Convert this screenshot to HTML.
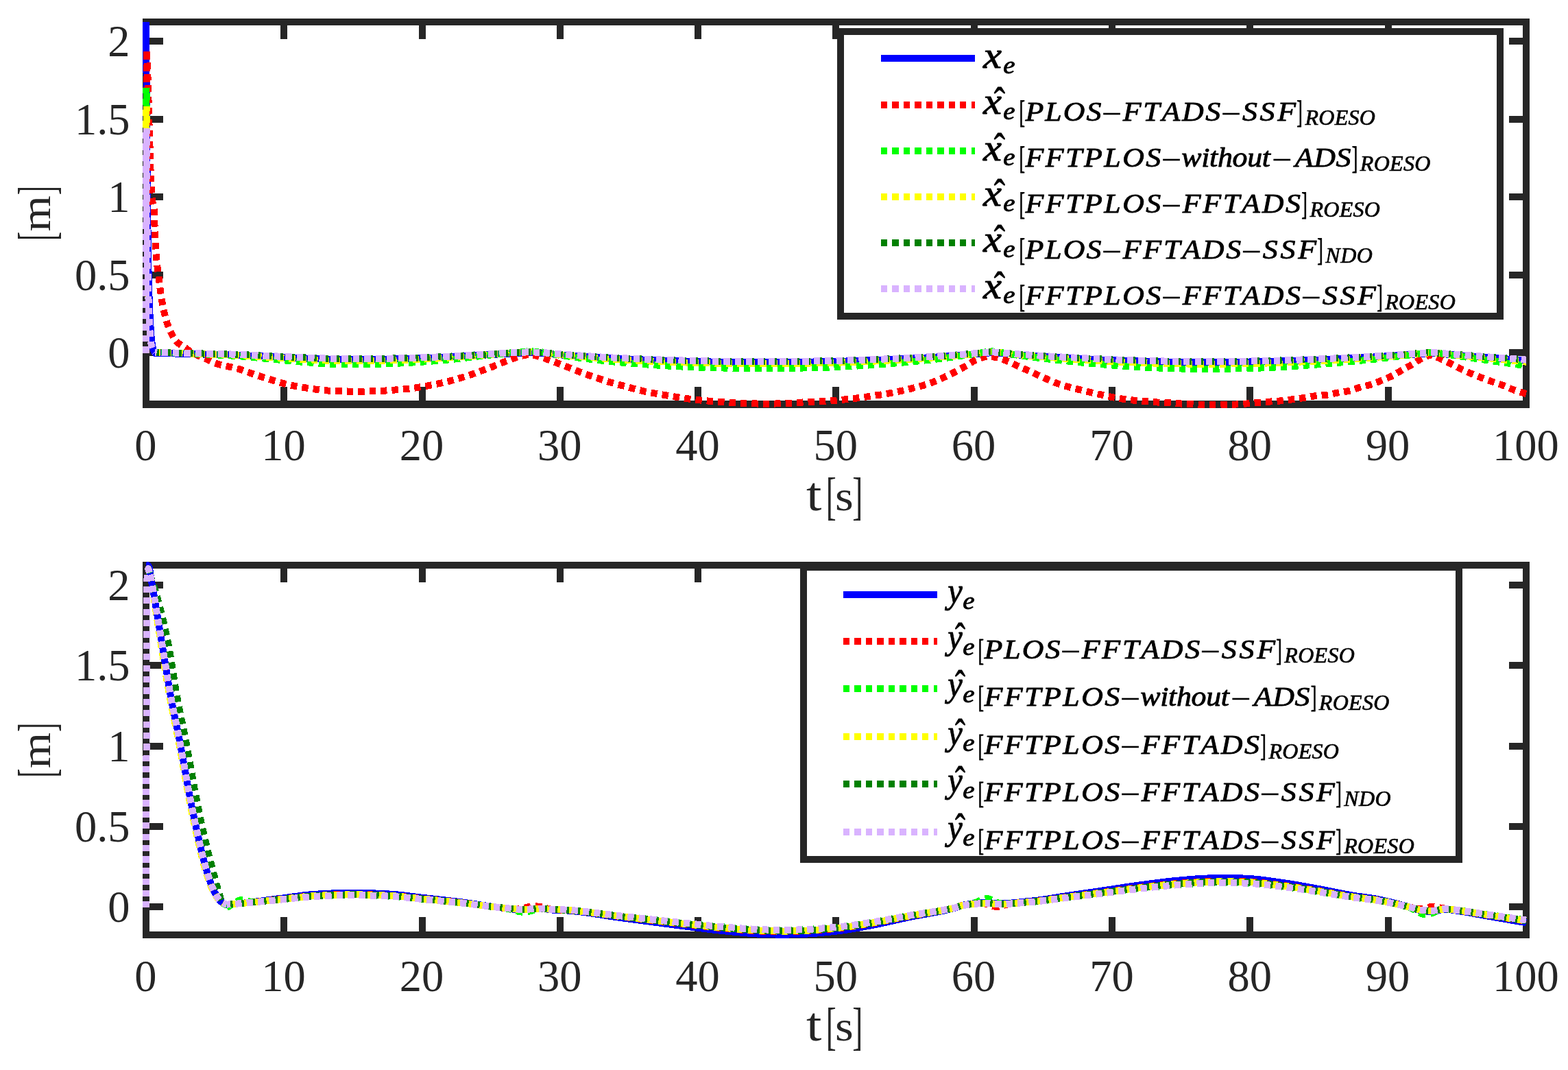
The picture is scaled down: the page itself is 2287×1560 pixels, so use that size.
<!DOCTYPE html>
<html lang="en">
<head>
<meta charset="utf-8">
<title>Observer estimation errors</title>
<style>
html,body{margin:0;padding:0;background:#fff;}
body{width:2287px;height:1560px;overflow:hidden;}
svg{display:block;}
text{font-family:"Liberation Serif",serif;font-kerning:none;font-variant-ligatures:none;}
.tk{font-size:64.5px;fill:#262626;}
.lb{fill:#262626;}
.lg{fill:#000;stroke:#000;stroke-width:0;stroke-linejoin:round;}
</style>
</head>
<body>
<svg xmlns="http://www.w3.org/2000/svg" width="2287" height="1560" viewBox="0 0 2287 1560">
<rect width="2287" height="1560" fill="#fff"/>
<g shape-rendering="crispEdges">
<path d="M208 27H2231V37H208ZM208 584H2231V595H208ZM208 27H218V595H208ZM2221 27H2231V595H2221ZM409 27H419V57H409ZM409 564H419V595H409ZM611 27H621V57H611ZM611 564H621V595H611ZM812 27H822V57H812ZM812 564H822V595H812ZM1013 27H1023V57H1013ZM1013 564H1023V595H1013ZM1214 27H1224V57H1214ZM1214 564H1224V595H1214ZM1416 27H1426V57H1416ZM1416 564H1426V595H1416ZM1617 27H1627V57H1617ZM1617 564H1627V595H1617ZM1818 27H1828V57H1818ZM1818 564H1828V595H1818ZM2020 27H2030V57H2020ZM2020 564H2030V595H2020ZM208 55H238V65H208ZM2201 55H2231V65H2201ZM208 169H238V179H208ZM2201 169H2231V179H2201ZM208 282H238V292H208ZM2201 282H2231V292H2201ZM208 396H238V406H208ZM2201 396H2231V406H2201ZM208 509H238V519H208ZM2201 509H2231V519H2201Z" fill="#262626"/>
<path d="M213.00 31.80L213.01 33.80L213.03 35.80L213.04 37.80L213.05 39.80L213.06 41.80L213.08 43.80L213.09 45.80L213.10 47.80L213.12 49.80L213.13 51.80L213.14 53.80L213.16 55.80L213.17 57.80L213.18 59.80L213.20 61.80L213.21 63.80L213.22 65.80L213.24 67.80L213.25 69.80L213.26 71.80L213.28 73.80L213.29 75.80L213.30 77.80L213.32 79.80L213.33 81.80L213.35 83.80L213.36 85.80L213.37 87.80L213.39 89.80L213.40 91.80L213.41 93.80L213.43 95.80L213.44 97.80L213.46 99.80L213.47 101.80L213.48 103.80L213.50 105.80L213.51 107.80L213.53 109.80L213.54 111.80L213.56 113.80L213.57 115.80L213.58 117.80L213.60 119.80L213.61 121.80L213.63 123.80L213.64 125.80L213.66 127.80L213.67 129.80L213.68 131.80L213.70 133.80L213.71 135.80L213.73 137.80L213.74 139.80L213.75 141.80L213.77 143.80L213.78 145.80L213.80 147.80L213.81 149.80L213.83 151.80L213.84 153.80L213.85 155.80L213.87 157.80L213.88 159.80L213.90 161.80L213.91 163.80L213.92 165.80L213.94 167.80L213.95 169.80L213.97 171.80L213.98 173.80L214.00 175.80L214.01 177.80L214.02 179.80L214.04 181.80L214.05 183.80L214.07 185.80L214.08 187.80L214.10 189.80L214.11 191.80L214.13 193.80L214.14 195.80L214.16 197.80L214.17 199.80L214.19 201.80L214.21 203.80L214.22 205.80L214.24 207.80L214.25 209.80L214.27 211.80L214.28 213.80L214.30 215.80L214.32 217.80L214.33 219.80L214.35 221.80L214.37 223.80L214.38 225.80L214.40 227.80L214.42 229.80L214.43 231.79L214.45 233.79L214.47 235.79L214.49 237.79L214.51 239.79L214.52 241.79L214.54 243.79L214.56 245.79L214.58 247.79L214.60 249.79L214.62 251.79L214.64 253.79L214.65 255.79L214.67 257.79L214.69 259.79L214.71 261.79L214.73 263.79L214.75 265.79L214.77 267.79L214.79 269.79L214.81 271.79L214.83 273.79L214.85 275.79L214.87 277.79L214.89 279.79L214.91 281.79L214.93 283.79L214.95 285.79L214.97 287.79L214.99 289.79L215.01 291.79L215.03 293.79L215.05 295.79L215.07 297.79L215.09 299.79L215.11 301.79L215.14 303.79L215.16 305.79L215.18 307.79L215.20 309.79L215.23 311.79L215.25 313.79L215.27 315.79L215.30 317.79L215.32 319.79L215.34 321.79L215.37 323.79L215.39 325.79L215.42 327.79L215.44 329.79L215.47 331.79L215.49 333.79L215.52 335.79L215.55 337.79L215.57 339.79L215.60 341.79L215.63 343.79L215.66 345.79L215.68 347.79L215.71 349.79L215.74 351.79L215.77 353.79L215.80 355.79L215.83 357.79L215.86 359.79L215.89 361.79L215.93 363.79L215.96 365.79L215.99 367.79L216.02 369.79L216.06 371.79L216.09 373.79L216.13 375.79L216.16 377.78L216.20 379.78L216.23 381.78L216.27 383.78L216.31 385.78L216.35 387.78L216.39 389.78L216.43 391.78L216.48 393.78L216.52 395.78L216.57 397.78L216.61 399.78L216.66 401.78L216.71 403.78L216.76 405.78L216.81 407.78L216.87 409.78L216.92 411.78L216.98 413.78L217.03 415.78L217.09 417.78L217.15 419.78L217.21 421.78L217.27 423.77L217.34 425.77L217.40 427.77L217.47 429.77L217.53 431.77L217.60 433.77L217.67 435.77L217.74 437.77L217.81 439.77L217.89 441.76L217.96 443.76L218.04 445.76L218.11 447.76L218.19 449.76L218.27 451.75L218.35 453.75L218.43 455.75L218.52 457.75L218.61 459.75L218.70 461.75L218.80 463.75L218.89 465.75L219.00 467.75L219.10 469.75L219.22 471.75L219.33 473.74L219.45 475.74L219.58 477.74L219.71 479.73L219.85 481.73L220.00 483.72L220.15 485.71L220.31 487.70L220.47 489.69L220.65 491.68L220.84 493.69L221.04 495.70L221.27 497.70L221.53 499.71L221.81 501.70L222.13 503.67L222.49 505.62L222.90 507.54L223.41 509.43L224.14 511.28L225.02 513.11L225.95 514.91L226.00 515.00L228.00 515.03L230.00 515.06L232.00 515.09L234.00 515.12L236.00 515.15L238.00 515.19L240.00 515.22L242.00 515.25L244.00 515.29L246.00 515.32L248.00 515.36L250.00 515.40L252.00 515.44L254.00 515.48L256.00 515.52L258.00 515.56L260.00 515.61L262.00 515.65L264.00 515.70L266.00 515.75L268.00 515.79L270.00 515.84L272.00 515.89L274.00 515.94L276.00 515.99L278.00 516.04L280.00 516.09L282.00 516.14L284.00 516.20L286.00 516.25L288.00 516.30L290.00 516.35L292.00 516.40L294.00 516.45L296.00 516.50L298.00 516.55L300.00 516.60L302.00 516.65L304.00 516.70L306.00 516.74L308.00 516.79L310.00 516.83L312.00 516.88L314.00 516.93L316.00 516.97L318.00 517.02L320.00 517.06L322.00 517.11L324.00 517.16L326.00 517.21L328.00 517.26L330.00 517.31L332.00 517.37L334.00 517.42L336.00 517.48L338.00 517.54L340.00 517.60L342.00 517.66L344.00 517.73L346.00 517.80L348.00 517.88L350.00 517.96L352.00 518.04L354.00 518.12L356.00 518.20L358.00 518.29L360.00 518.38L362.00 518.47L364.00 518.56L366.00 518.65L368.00 518.75L370.00 518.85L372.00 518.94L374.00 519.04L376.00 519.14L378.00 519.24L380.00 519.34L382.00 519.43L384.00 519.53L386.00 519.63L388.00 519.73L390.00 519.83L392.00 519.92L394.00 520.02L396.00 520.11L398.00 520.21L400.00 520.30L402.00 520.39L404.00 520.49L406.00 520.58L408.00 520.68L410.00 520.77L412.00 520.87L414.00 520.97L416.00 521.07L418.00 521.16L420.00 521.26L422.00 521.36L424.00 521.46L426.00 521.55L428.00 521.65L430.00 521.75L432.00 521.84L434.00 521.93L436.00 522.02L438.00 522.11L440.00 522.20L442.00 522.28L444.00 522.37L446.00 522.45L448.00 522.53L450.00 522.60L452.00 522.67L454.00 522.75L456.00 522.83L458.00 522.91L460.00 522.99L462.00 523.07L464.00 523.15L466.00 523.23L468.00 523.30L470.00 523.38L472.00 523.45L474.00 523.51L476.00 523.57L478.00 523.63L480.00 523.68L482.00 523.72L484.00 523.75L486.00 523.78L488.00 523.79L490.00 523.80L492.00 523.81L494.00 523.82L496.00 523.82L498.00 523.83L500.00 523.84L502.00 523.84L504.00 523.85L506.00 523.85L508.00 523.86L510.00 523.86L512.00 523.87L514.00 523.87L516.00 523.88L518.00 523.88L520.00 523.88L522.00 523.89L524.00 523.89L526.00 523.89L528.00 523.89L530.00 523.90L532.00 523.90L534.00 523.90L536.00 523.90L538.00 523.90L540.00 523.90L542.00 523.90L544.00 523.90L546.00 523.89L548.00 523.88L550.00 523.86L552.00 523.84L554.00 523.82L556.00 523.79L558.00 523.77L560.00 523.74L562.00 523.70L564.00 523.67L566.00 523.63L568.00 523.59L570.00 523.55L572.00 523.50L574.00 523.46L576.00 523.41L578.00 523.36L580.00 523.31L582.00 523.26L584.00 523.21L586.00 523.16L588.00 523.11L590.00 523.06L592.00 523.01L594.00 522.95L596.00 522.90L598.00 522.85L600.00 522.80L602.00 522.75L604.00 522.69L606.00 522.64L608.00 522.58L610.00 522.51L612.00 522.45L614.00 522.38L616.00 522.31L618.00 522.24L620.00 522.17L622.00 522.09L624.00 522.02L626.00 521.94L628.00 521.86L630.00 521.78L632.00 521.70L634.00 521.61L636.00 521.53L638.00 521.44L640.00 521.35L642.00 521.26L644.00 521.17L646.00 521.08L648.00 520.99L650.00 520.90L652.00 520.81L654.00 520.71L656.00 520.61L658.00 520.50L660.00 520.40L662.00 520.29L664.00 520.17L666.00 520.06L668.00 519.94L670.00 519.82L672.00 519.70L674.00 519.58L676.00 519.46L678.00 519.34L680.00 519.21L682.00 519.09L684.00 518.96L686.00 518.84L688.00 518.72L690.00 518.59L692.00 518.47L694.00 518.35L696.00 518.23L698.00 518.12L700.00 518.00L702.00 517.89L704.00 517.77L706.00 517.66L708.00 517.54L710.00 517.43L712.00 517.31L714.00 517.20L716.00 517.08L718.00 516.97L720.00 516.86L722.00 516.75L724.00 516.63L726.00 516.52L728.00 516.41L730.00 516.30L732.00 516.19L734.00 516.07L736.00 515.95L738.00 515.83L740.00 515.71L742.00 515.59L744.00 515.47L746.00 515.35L748.00 515.24L750.00 515.13L752.00 515.03L754.00 514.93L756.00 514.84L758.00 514.77L760.00 514.70L762.00 514.64L764.00 514.57L766.00 514.51L768.00 514.46L770.00 514.42L772.00 514.40L774.00 514.40L776.00 514.42L778.00 514.46L780.00 514.51L782.00 514.57L784.00 514.64L786.00 514.73L788.00 514.81L790.00 514.90L792.00 515.01L794.00 515.16L796.00 515.35L798.00 515.55L800.00 515.77L802.00 515.99L804.00 516.21L806.00 516.42L808.00 516.60L810.00 516.77L812.00 516.93L814.00 517.09L816.00 517.26L818.00 517.41L820.00 517.57L822.00 517.73L824.00 517.88L826.00 518.03L828.00 518.18L830.00 518.33L832.00 518.48L834.00 518.62L836.00 518.76L838.00 518.91L840.00 519.05L842.00 519.19L844.00 519.33L846.00 519.46L848.00 519.60L850.00 519.74L852.00 519.87L854.00 520.00L856.00 520.14L858.00 520.27L860.00 520.40L862.00 520.53L864.00 520.66L866.00 520.79L868.00 520.92L870.00 521.05L872.00 521.18L874.00 521.31L876.00 521.44L878.00 521.56L880.00 521.69L882.00 521.81L884.00 521.93L886.00 522.05L888.00 522.16L890.00 522.28L892.00 522.39L894.00 522.50L896.00 522.60L898.00 522.70L900.00 522.80L902.00 522.90L904.00 522.99L906.00 523.09L908.00 523.18L910.00 523.27L912.00 523.37L914.00 523.46L916.00 523.55L918.00 523.64L920.00 523.73L922.00 523.82L924.00 523.91L926.00 523.99L928.00 524.08L930.00 524.17L932.00 524.25L934.00 524.34L936.00 524.42L938.00 524.50L940.00 524.58L942.00 524.67L944.00 524.75L946.00 524.83L948.00 524.90L950.00 524.98L952.00 525.06L954.00 525.13L956.00 525.21L958.00 525.28L960.00 525.36L962.00 525.43L964.00 525.50L966.00 525.57L968.00 525.64L970.00 525.71L972.00 525.77L974.00 525.84L976.00 525.90L978.00 525.97L980.00 526.03L982.00 526.09L984.00 526.15L986.00 526.21L988.00 526.27L990.00 526.33L992.00 526.39L994.00 526.44L996.00 526.50L998.00 526.55L1000.00 526.60L1002.00 526.65L1004.00 526.70L1006.00 526.76L1008.00 526.81L1010.00 526.86L1012.00 526.91L1014.00 526.96L1016.00 527.01L1018.00 527.07L1020.00 527.12L1022.00 527.17L1024.00 527.21L1026.00 527.26L1028.00 527.31L1030.00 527.35L1032.00 527.40L1034.00 527.44L1036.00 527.48L1038.00 527.52L1040.00 527.56L1042.00 527.59L1044.00 527.63L1046.00 527.66L1048.00 527.69L1050.00 527.71L1052.00 527.73L1054.00 527.76L1056.00 527.77L1058.00 527.79L1060.00 527.80L1062.00 527.81L1064.00 527.82L1066.00 527.83L1068.00 527.84L1070.00 527.85L1072.00 527.86L1074.00 527.87L1076.00 527.88L1078.00 527.88L1080.00 527.89L1082.00 527.90L1084.00 527.91L1086.00 527.91L1088.00 527.92L1090.00 527.93L1092.00 527.94L1094.00 527.94L1096.00 527.95L1098.00 527.95L1100.00 527.96L1102.00 527.96L1104.00 527.97L1106.00 527.97L1108.00 527.98L1110.00 527.98L1112.00 527.98L1114.00 527.99L1116.00 527.99L1118.00 527.99L1120.00 528.00L1122.00 528.00L1124.00 528.00L1126.00 528.00L1128.00 528.00L1130.00 528.00L1132.00 528.00L1134.00 528.00L1136.00 527.99L1138.00 527.99L1140.00 527.98L1142.00 527.97L1144.00 527.96L1146.00 527.95L1148.00 527.94L1150.00 527.92L1152.00 527.91L1154.00 527.89L1156.00 527.87L1158.00 527.85L1160.00 527.83L1162.00 527.81L1164.00 527.79L1166.00 527.77L1168.00 527.74L1170.00 527.72L1172.00 527.70L1174.00 527.67L1176.00 527.64L1178.00 527.62L1180.00 527.59L1182.00 527.56L1184.00 527.53L1186.00 527.51L1188.00 527.48L1190.00 527.45L1192.00 527.42L1194.00 527.39L1196.00 527.36L1198.00 527.33L1200.00 527.30L1202.00 527.27L1204.00 527.24L1206.00 527.20L1208.00 527.16L1210.00 527.12L1212.00 527.08L1214.00 527.03L1216.00 526.99L1218.00 526.94L1220.00 526.89L1222.00 526.84L1224.00 526.78L1226.00 526.73L1228.00 526.67L1230.00 526.62L1232.00 526.56L1234.00 526.50L1236.00 526.44L1238.00 526.38L1240.00 526.32L1242.00 526.25L1244.00 526.19L1246.00 526.13L1248.00 526.06L1250.00 526.00L1252.00 525.94L1254.00 525.87L1256.00 525.80L1258.00 525.73L1260.00 525.66L1262.00 525.59L1264.00 525.52L1266.00 525.45L1268.00 525.38L1270.00 525.30L1272.00 525.22L1274.00 525.15L1276.00 525.07L1278.00 524.99L1280.00 524.91L1282.00 524.83L1284.00 524.74L1286.00 524.66L1288.00 524.58L1290.00 524.49L1292.00 524.40L1294.00 524.32L1296.00 524.23L1298.00 524.14L1300.00 524.05L1302.00 523.96L1304.00 523.86L1306.00 523.77L1308.00 523.67L1310.00 523.58L1312.00 523.48L1314.00 523.39L1316.00 523.29L1318.00 523.19L1320.00 523.09L1322.00 522.99L1324.00 522.89L1326.00 522.79L1328.00 522.68L1330.00 522.58L1332.00 522.47L1334.00 522.37L1336.00 522.26L1338.00 522.16L1340.00 522.05L1342.00 521.94L1344.00 521.83L1346.00 521.72L1348.00 521.61L1350.00 521.50L1352.00 521.39L1354.00 521.27L1356.00 521.15L1358.00 521.03L1360.00 520.90L1362.00 520.78L1364.00 520.65L1366.00 520.51L1368.00 520.38L1370.00 520.24L1372.00 520.10L1374.00 519.96L1376.00 519.82L1378.00 519.68L1380.00 519.54L1382.00 519.39L1384.00 519.24L1386.00 519.10L1388.00 518.95L1390.00 518.80L1392.00 518.65L1394.00 518.50L1396.00 518.35L1398.00 518.20L1400.00 518.05L1402.00 517.89L1404.00 517.73L1406.00 517.57L1408.00 517.41L1410.00 517.24L1412.00 517.08L1414.00 516.91L1416.00 516.74L1418.00 516.58L1420.00 516.41L1422.00 516.24L1424.00 516.08L1426.00 515.92L1428.00 515.76L1430.00 515.60L1432.00 515.43L1434.00 515.24L1436.00 515.04L1438.00 514.84L1440.00 514.67L1442.00 514.53L1444.00 514.43L1446.00 514.40L1448.00 514.43L1450.00 514.50L1452.00 514.61L1454.00 514.75L1456.00 514.91L1458.00 515.08L1460.00 515.25L1462.00 515.40L1464.00 515.56L1466.00 515.73L1468.00 515.91L1470.00 516.09L1472.00 516.29L1474.00 516.48L1476.00 516.66L1478.00 516.84L1480.00 517.00L1482.00 517.15L1484.00 517.31L1486.00 517.46L1488.00 517.61L1490.00 517.76L1492.00 517.91L1494.00 518.05L1496.00 518.20L1498.00 518.34L1500.00 518.48L1502.00 518.62L1504.00 518.76L1506.00 518.90L1508.00 519.04L1510.00 519.17L1512.00 519.31L1514.00 519.44L1516.00 519.57L1518.00 519.70L1520.00 519.83L1522.00 519.95L1524.00 520.08L1526.00 520.20L1528.00 520.33L1530.00 520.45L1532.00 520.57L1534.00 520.69L1536.00 520.81L1538.00 520.92L1540.00 521.04L1542.00 521.15L1544.00 521.27L1546.00 521.38L1548.00 521.49L1550.00 521.60L1552.00 521.71L1554.00 521.82L1556.00 521.93L1558.00 522.04L1560.00 522.14L1562.00 522.25L1564.00 522.36L1566.00 522.47L1568.00 522.58L1570.00 522.68L1572.00 522.79L1574.00 522.89L1576.00 523.00L1578.00 523.10L1580.00 523.21L1582.00 523.31L1584.00 523.42L1586.00 523.52L1588.00 523.62L1590.00 523.72L1592.00 523.82L1594.00 523.92L1596.00 524.02L1598.00 524.11L1600.00 524.21L1602.00 524.30L1604.00 524.40L1606.00 524.49L1608.00 524.58L1610.00 524.67L1612.00 524.76L1614.00 524.85L1616.00 524.94L1618.00 525.03L1620.00 525.11L1622.00 525.19L1624.00 525.28L1626.00 525.36L1628.00 525.44L1630.00 525.51L1632.00 525.59L1634.00 525.66L1636.00 525.74L1638.00 525.81L1640.00 525.88L1642.00 525.95L1644.00 526.01L1646.00 526.08L1648.00 526.14L1650.00 526.20L1652.00 526.26L1654.00 526.32L1656.00 526.38L1658.00 526.44L1660.00 526.50L1662.00 526.56L1664.00 526.62L1666.00 526.68L1668.00 526.74L1670.00 526.79L1672.00 526.85L1674.00 526.91L1676.00 526.96L1678.00 527.02L1680.00 527.07L1682.00 527.13L1684.00 527.18L1686.00 527.23L1688.00 527.28L1690.00 527.32L1692.00 527.37L1694.00 527.41L1696.00 527.46L1698.00 527.50L1700.00 527.53L1702.00 527.57L1704.00 527.61L1706.00 527.64L1708.00 527.67L1710.00 527.70L1712.00 527.72L1714.00 527.75L1716.00 527.77L1718.00 527.78L1720.00 527.80L1722.00 527.81L1724.00 527.83L1726.00 527.84L1728.00 527.85L1730.00 527.87L1732.00 527.88L1734.00 527.89L1736.00 527.90L1738.00 527.91L1740.00 527.92L1742.00 527.93L1744.00 527.94L1746.00 527.95L1748.00 527.96L1750.00 527.97L1752.00 527.97L1754.00 527.98L1756.00 527.99L1758.00 527.99L1760.00 527.99L1762.00 528.00L1764.00 528.00L1766.00 528.00L1768.00 528.00L1770.00 528.00L1772.00 527.99L1774.00 527.99L1776.00 527.98L1778.00 527.97L1780.00 527.96L1782.00 527.95L1784.00 527.94L1786.00 527.93L1788.00 527.91L1790.00 527.89L1792.00 527.88L1794.00 527.86L1796.00 527.84L1798.00 527.82L1800.00 527.80L1802.00 527.77L1804.00 527.75L1806.00 527.73L1808.00 527.70L1810.00 527.67L1812.00 527.65L1814.00 527.62L1816.00 527.60L1818.00 527.57L1820.00 527.54L1822.00 527.51L1824.00 527.48L1826.00 527.46L1828.00 527.43L1830.00 527.40L1832.00 527.37L1834.00 527.34L1836.00 527.30L1838.00 527.27L1840.00 527.23L1842.00 527.19L1844.00 527.14L1846.00 527.10L1848.00 527.05L1850.00 527.00L1852.00 526.95L1854.00 526.90L1856.00 526.84L1858.00 526.79L1860.00 526.73L1862.00 526.67L1864.00 526.61L1866.00 526.55L1868.00 526.49L1870.00 526.43L1872.00 526.36L1874.00 526.30L1876.00 526.23L1878.00 526.16L1880.00 526.10L1882.00 526.03L1884.00 525.96L1886.00 525.89L1888.00 525.82L1890.00 525.75L1892.00 525.68L1894.00 525.61L1896.00 525.54L1898.00 525.47L1900.00 525.40L1902.00 525.33L1904.00 525.26L1906.00 525.18L1908.00 525.11L1910.00 525.03L1912.00 524.96L1914.00 524.88L1916.00 524.80L1918.00 524.72L1920.00 524.64L1922.00 524.55L1924.00 524.47L1926.00 524.39L1928.00 524.30L1930.00 524.21L1932.00 524.13L1934.00 524.04L1936.00 523.95L1938.00 523.86L1940.00 523.77L1942.00 523.67L1944.00 523.58L1946.00 523.48L1948.00 523.39L1950.00 523.29L1952.00 523.20L1954.00 523.10L1956.00 523.00L1958.00 522.90L1960.00 522.80L1962.00 522.70L1964.00 522.60L1966.00 522.50L1968.00 522.40L1970.00 522.29L1972.00 522.19L1974.00 522.09L1976.00 521.98L1978.00 521.88L1980.00 521.77L1982.00 521.67L1984.00 521.56L1986.00 521.45L1988.00 521.34L1990.00 521.24L1992.00 521.13L1994.00 521.02L1996.00 520.91L1998.00 520.80L2000.00 520.69L2002.00 520.58L2004.00 520.46L2006.00 520.34L2008.00 520.23L2010.00 520.11L2012.00 519.98L2014.00 519.86L2016.00 519.73L2018.00 519.61L2020.00 519.48L2022.00 519.35L2024.00 519.22L2026.00 519.09L2028.00 518.96L2030.00 518.83L2032.00 518.70L2034.00 518.56L2036.00 518.43L2038.00 518.30L2040.00 518.16L2042.00 518.03L2044.00 517.90L2046.00 517.76L2048.00 517.63L2050.00 517.50L2052.00 517.37L2054.00 517.23L2056.00 517.09L2058.00 516.95L2060.00 516.81L2062.00 516.66L2064.00 516.52L2066.00 516.38L2068.00 516.25L2070.00 516.11L2072.00 515.98L2074.00 515.86L2076.00 515.74L2078.00 515.60L2080.00 515.46L2082.00 515.32L2084.00 515.21L2086.00 515.13L2088.00 515.10L2090.00 515.13L2092.00 515.22L2094.00 515.35L2096.00 515.51L2098.00 515.68L2100.00 515.85L2102.00 516.00L2104.00 516.14L2106.00 516.29L2108.00 516.45L2110.00 516.60L2112.00 516.76L2114.00 516.92L2116.00 517.08L2118.00 517.24L2120.00 517.40L2122.00 517.56L2124.00 517.71L2126.00 517.87L2128.00 518.02L2130.00 518.18L2132.00 518.33L2134.00 518.49L2136.00 518.64L2138.00 518.80L2140.00 518.95L2142.00 519.11L2144.00 519.26L2146.00 519.42L2148.00 519.57L2150.00 519.73L2152.00 519.88L2154.00 520.04L2156.00 520.19L2158.00 520.35L2160.00 520.50L2162.00 520.65L2164.00 520.81L2166.00 520.96L2168.00 521.12L2170.00 521.27L2172.00 521.43L2174.00 521.58L2176.00 521.74L2178.00 521.89L2180.00 522.05L2182.00 522.20L2184.00 522.36L2186.00 522.51L2188.00 522.67L2190.00 522.82L2192.00 522.97L2194.00 523.13L2196.00 523.28L2198.00 523.44L2200.00 523.59L2202.00 523.75L2204.00 523.90L2206.00 524.06L2208.00 524.21L2210.00 524.37L2212.00 524.52L2214.00 524.67L2216.00 524.83L2218.00 524.98L2220.00 525.14L2222.00 525.29L2224.00 525.45L2226.00 525.60" fill="none" stroke="#0000ff" stroke-width="10" stroke-linejoin="round"/>
<path d="M213.00 514.60L213.60 72.90" fill="none" stroke="#ff0000" stroke-width="10" stroke-linejoin="round" stroke-dasharray="9.4 7.04" stroke-dashoffset="0.00"/>
<path d="M213.60 72.90L213.78 74.89L213.95 76.89L214.06 78.88L214.17 80.88L214.28 82.87L214.38 84.87L214.47 86.86L214.57 88.86L214.66 90.86L214.75 92.85L214.84 94.85L214.93 96.85L215.01 98.84L215.09 100.84L215.17 102.84L215.25 104.84L215.32 106.84L215.39 108.83L215.46 110.83L215.53 112.83L215.60 114.83L215.67 116.83L215.73 118.83L215.79 120.83L215.86 122.83L215.92 124.83L215.98 126.83L216.03 128.83L216.09 130.83L216.15 132.83L216.20 134.82L216.26 136.82L216.32 138.82L216.37 140.82L216.42 142.82L216.48 144.82L216.53 146.82L216.58 148.82L216.64 150.82L216.69 152.83L216.74 154.83L216.80 156.83L216.85 158.83L216.90 160.83L216.96 162.83L217.01 164.83L217.07 166.83L217.13 168.83L217.18 170.83L217.24 172.82L217.30 174.82L217.36 176.82L217.42 178.82L217.49 180.82L217.55 182.82L217.62 184.82L217.68 186.82L217.75 188.82L217.82 190.82L217.89 192.82L217.97 194.82L218.04 196.82L218.10 198.82L218.17 200.82L218.23 202.82L218.29 204.82L218.35 206.82L218.41 208.83L218.47 210.83L218.53 212.84L218.58 214.84L218.64 216.84L218.69 218.85L218.75 220.85L218.80 222.86L218.86 224.86L218.91 226.87L218.97 228.87L219.02 230.88L219.08 232.88L219.14 234.89L219.19 236.89L219.25 238.89L219.32 240.90L219.38 242.90L219.44 244.90L219.51 246.91L219.58 248.91L219.65 250.91L219.72 252.91L219.80 254.91L219.88 256.91L219.96 258.91L220.05 260.90L220.14 262.90L220.23 264.89L220.32 266.89L220.42 268.88L220.53 270.87L220.64 272.87L220.75 274.86L220.87 276.84L220.99 278.83L221.12 280.82L221.25 282.80L221.39 284.78L221.53 286.77L221.68 288.74L221.89 290.72L222.22 292.69L222.64 294.65L223.10 296.61L223.58 298.57L224.03 300.54L224.41 302.50L224.69 304.47L224.84 306.45L224.94 308.44L225.03 310.43L225.10 312.42L225.17 314.41L225.23 316.41L225.28 318.41L225.33 320.41L225.38 322.42L225.42 324.42L225.46 326.43L225.51 328.43L225.55 330.44L225.60 332.44L225.66 334.44L225.72 336.44L225.80 338.44L225.88 340.44L225.96 342.44L226.04 344.44L226.13 346.44L226.22 348.44L226.32 350.44L226.42 352.44L226.52 354.43L226.63 356.43L226.74 358.43L226.85 360.43L226.97 362.42L227.10 364.42L227.23 366.41L227.36 368.41L227.51 370.40L227.65 372.39L227.81 374.38L227.99 376.37L228.19 378.36L228.40 380.35L228.63 382.33L228.87 384.32L229.13 386.30L229.39 388.29L229.66 390.27L229.93 392.26L230.21 394.24L230.48 396.22L230.76 398.20L231.03 400.19L231.29 402.17L231.55 404.15L231.79 406.14L232.04 408.13L232.28 410.11L232.52 412.10L232.76 414.09L233.00 416.08L233.24 418.07L233.48 420.05L233.73 422.04L233.98 424.02L234.24 426.01L234.51 427.99L234.79 429.97L235.08 431.94L235.38 433.92L235.70 435.89L236.03 437.85L236.37 439.82L236.72 441.79L237.08 443.77L237.46 445.74L237.85 447.71L238.25 449.68L238.67 451.64L239.10 453.60L239.55 455.56L240.01 457.51L240.49 459.46L240.98 461.40L241.49 463.33L242.01 465.25L242.56 467.16L243.12 469.06L243.72 470.96L244.37 472.85L245.06 474.73L245.80 476.60L246.58 478.46L247.38 480.30L248.22 482.12L249.07 483.92L249.95 485.71L250.85 487.53L251.79 489.35L252.77 491.16L253.80 492.92L254.88 494.62L256.03 496.22L257.24 497.71L258.56 499.07L260.03 500.34L261.62 501.54L263.30 502.68L265.02 503.79L266.76 504.89L268.47 506.00L270.13 507.14L271.76 508.30L273.40 509.47L275.04 510.63L276.69 511.78L278.35 512.90L280.04 513.98L281.74 515.00L283.48 515.94L285.26 516.81L287.07 517.63L288.92 518.40L290.78 519.14L292.65 519.87L294.53 520.59L296.40 521.33L298.25 522.09L300.09 522.90L301.90 523.76L303.70 524.66L305.49 525.57L307.28 526.49L309.08 527.37L310.89 528.22L312.72 529.00L314.58 529.69L316.46 530.30L318.37 530.86L320.30 531.38L322.24 531.87L324.19 532.34L326.15 532.80L328.11 533.25L330.06 533.72L332.00 534.18L333.96 534.62L335.92 535.04L337.87 535.46L339.83 535.89L341.78 536.32L343.73 536.79L345.66 537.28L347.58 537.82L349.49 538.40L351.39 539.02L353.28 539.67L355.17 540.33L357.06 541.00L358.95 541.67L360.84 542.34L362.73 542.98L364.62 543.63L366.51 544.29L368.40 544.94L370.29 545.60L372.18 546.25L374.07 546.90L375.97 547.53L377.87 548.15L379.78 548.75L381.69 549.35L383.60 549.94L385.51 550.52L387.43 551.10L389.34 551.68L391.25 552.27L393.16 552.87L395.06 553.49L396.96 554.11L398.86 554.74L400.77 555.36L402.67 555.98L404.58 556.58L406.49 557.16L408.41 557.71L410.33 558.25L412.26 558.79L414.20 559.31L416.13 559.81L418.07 560.30L420.02 560.77L421.97 561.21L423.92 561.63L425.88 562.01L427.85 562.38L429.82 562.72L431.79 563.06L433.76 563.38L435.74 563.70L437.72 564.02L439.69 564.35L441.66 564.68L443.63 565.01L445.61 565.35L447.58 565.68L449.55 566.01L451.53 566.33L453.50 566.64L455.48 566.94L457.46 567.23L459.44 567.52L461.42 567.82L463.40 568.11L465.38 568.39L467.37 568.66L469.35 568.89L471.34 569.08L473.33 569.24L475.32 569.37L477.32 569.48L479.31 569.58L481.31 569.68L483.31 569.76L485.31 569.84L487.31 569.92L489.31 570.00L491.31 570.07L493.31 570.15L495.31 570.22L497.31 570.28L499.31 570.35L501.31 570.40L503.31 570.45L505.30 570.49L507.30 570.53L509.30 570.56L511.30 570.60L513.30 570.63L515.30 570.65L517.30 570.68L519.30 570.69L521.30 570.70L523.30 570.70L525.30 570.69L527.30 570.67L529.30 570.65L531.30 570.62L533.30 570.59L535.30 570.56L537.30 570.52L539.30 570.48L541.30 570.44L543.30 570.39L545.30 570.33L547.30 570.27L549.30 570.20L551.30 570.12L553.30 570.04L555.29 569.95L557.29 569.85L559.29 569.73L561.28 569.59L563.28 569.45L565.27 569.31L567.27 569.16L569.26 569.01L571.26 568.86L573.25 568.71L575.25 568.57L577.24 568.42L579.23 568.26L581.23 568.10L583.22 567.94L585.21 567.76L587.20 567.58L589.20 567.39L591.19 567.19L593.18 566.99L595.17 566.77L597.15 566.55L599.14 566.31L601.12 566.07L603.11 565.81L605.09 565.54L607.06 565.25L609.04 564.94L611.01 564.62L612.99 564.28L614.96 563.94L616.93 563.60L618.90 563.26L620.87 562.91L622.84 562.57L624.81 562.22L626.78 561.86L628.75 561.50L630.71 561.13L632.68 560.76L634.64 560.37L636.60 559.98L638.56 559.58L640.52 559.17L642.48 558.75L644.43 558.32L646.38 557.88L648.33 557.44L650.28 556.97L652.22 556.50L654.15 556.00L656.08 555.48L658.01 554.95L659.93 554.40L661.86 553.84L663.78 553.28L665.70 552.71L667.62 552.15L669.54 551.60L671.46 551.04L673.38 550.49L675.30 549.93L677.22 549.36L679.14 548.78L681.05 548.19L682.95 547.58L684.84 546.95L686.73 546.29L688.61 545.61L690.49 544.91L692.36 544.20L694.23 543.49L696.10 542.78L697.98 542.08L699.85 541.40L701.74 540.73L703.63 540.07L705.52 539.41L707.40 538.75L709.29 538.08L711.17 537.41L713.05 536.72L714.92 536.02L716.78 535.28L718.63 534.53L720.48 533.76L722.32 532.99L724.17 532.21L726.01 531.43L727.86 530.66L729.71 529.91L731.57 529.18L733.43 528.45L735.30 527.72L737.17 527.01L739.03 526.29L740.91 525.59L742.78 524.89L744.66 524.21L746.54 523.50L748.41 522.77L750.29 522.04L752.17 521.33L754.05 520.66L755.95 520.05L757.87 519.52L759.80 519.08L761.76 518.63L763.73 518.20L765.72 517.79L767.71 517.45L769.69 517.19L771.67 517.03L773.63 517.01L775.59 517.16L777.55 517.46L779.50 517.89L781.45 518.41L783.40 519.00L785.34 519.63L787.27 520.26L789.19 520.87L791.11 521.44L793.01 522.03L794.91 522.66L796.80 523.31L798.69 523.99L800.57 524.68L802.44 525.38L804.32 526.08L806.20 526.77L808.07 527.47L809.94 528.18L811.81 528.89L813.67 529.62L815.54 530.34L817.40 531.08L819.26 531.81L821.12 532.54L822.98 533.27L824.84 534.00L826.70 534.74L828.56 535.48L830.42 536.22L832.28 536.96L834.14 537.69L836.00 538.43L837.86 539.16L839.72 539.89L841.58 540.62L843.45 541.35L845.31 542.08L847.17 542.80L849.04 543.52L850.91 544.22L852.79 544.91L854.67 545.58L856.56 546.24L858.45 546.89L860.35 547.53L862.25 548.16L864.14 548.80L866.04 549.44L867.93 550.08L869.83 550.73L871.72 551.38L873.61 552.03L875.50 552.68L877.39 553.32L879.29 553.96L881.19 554.59L883.09 555.20L885.00 555.80L886.91 556.40L888.82 556.99L890.73 557.57L892.65 558.14L894.57 558.70L896.49 559.25L898.42 559.79L900.35 560.31L902.28 560.81L904.22 561.30L906.17 561.78L908.11 562.26L910.05 562.73L911.99 563.22L913.93 563.72L915.86 564.24L917.78 564.79L919.70 565.36L921.62 565.93L923.54 566.50L925.46 567.07L927.38 567.61L929.31 568.13L931.25 568.61L933.19 569.07L935.14 569.51L937.10 569.94L939.06 570.36L941.01 570.77L942.97 571.17L944.94 571.57L946.90 571.96L948.86 572.35L950.82 572.73L952.79 573.10L954.75 573.47L956.72 573.83L958.69 574.19L960.66 574.54L962.63 574.89L964.60 575.23L966.57 575.57L968.54 575.90L970.51 576.23L972.49 576.55L974.46 576.87L976.43 577.20L978.41 577.52L980.38 577.85L982.35 578.18L984.33 578.51L986.30 578.84L988.27 579.17L990.25 579.49L992.22 579.80L994.20 580.10L996.18 580.38L998.16 580.66L1000.14 580.92L1002.13 581.18L1004.11 581.43L1006.09 581.68L1008.08 581.93L1010.07 582.16L1012.05 582.40L1014.04 582.64L1016.02 582.87L1018.01 583.10L1020.00 583.33L1021.99 583.55L1023.98 583.76L1025.97 583.95L1027.96 584.14L1029.95 584.32L1031.94 584.48L1033.93 584.64L1035.93 584.79L1037.92 584.94L1039.92 585.09L1041.91 585.24L1043.91 585.39L1045.90 585.56L1047.89 585.73L1049.89 585.90L1051.88 586.07L1053.87 586.24L1055.87 586.40L1057.86 586.55L1059.86 586.68L1061.85 586.80L1063.85 586.91L1065.85 587.01L1067.84 587.11L1069.84 587.20L1071.84 587.29L1073.84 587.38L1075.84 587.46L1077.83 587.54L1079.83 587.62L1081.83 587.70L1083.83 587.78L1085.83 587.85L1087.83 587.92L1089.83 587.99L1091.83 588.06L1093.82 588.13L1095.82 588.20L1097.82 588.28L1099.82 588.36L1101.82 588.44L1103.82 588.50L1105.82 588.56L1107.82 588.59L1109.82 588.60L1111.82 588.60L1113.82 588.60L1115.82 588.60L1117.82 588.60L1119.82 588.60L1121.82 588.60L1123.82 588.60L1125.82 588.60L1127.82 588.58L1129.82 588.55L1131.82 588.49L1133.81 588.43L1135.81 588.36L1137.81 588.28L1139.81 588.20L1141.81 588.12L1143.81 588.05L1145.81 587.96L1147.80 587.87L1149.80 587.78L1151.80 587.67L1153.80 587.57L1155.79 587.46L1157.79 587.35L1159.79 587.23L1161.78 587.10L1163.78 586.97L1165.77 586.83L1167.77 586.69L1169.77 586.55L1171.76 586.41L1173.76 586.29L1175.75 586.17L1177.75 586.06L1179.75 585.96L1181.74 585.86L1183.74 585.77L1185.74 585.67L1187.74 585.58L1189.74 585.48L1191.73 585.38L1193.73 585.29L1195.73 585.19L1197.73 585.10L1199.73 585.01L1201.72 584.91L1203.72 584.81L1205.72 584.70L1207.71 584.58L1209.71 584.45L1211.70 584.31L1213.70 584.16L1215.69 584.00L1217.69 583.84L1219.68 583.66L1221.67 583.49L1223.66 583.30L1225.65 583.11L1227.64 582.90L1229.63 582.69L1231.62 582.46L1233.60 582.23L1235.59 582.00L1237.58 581.77L1239.57 581.55L1241.55 581.33L1243.54 581.12L1245.53 580.92L1247.53 580.72L1249.52 580.51L1251.50 580.30L1253.49 580.07L1255.47 579.83L1257.46 579.57L1259.43 579.28L1261.41 578.96L1263.38 578.62L1265.35 578.28L1267.32 577.93L1269.29 577.59L1271.27 577.27L1273.24 576.96L1275.22 576.69L1277.21 576.43L1279.19 576.18L1281.18 575.94L1283.16 575.69L1285.15 575.43L1287.13 575.15L1289.10 574.85L1291.07 574.53L1293.04 574.18L1295.01 573.81L1296.97 573.42L1298.93 573.03L1300.89 572.63L1302.86 572.23L1304.82 571.84L1306.78 571.45L1308.74 571.05L1310.70 570.66L1312.66 570.26L1314.62 569.86L1316.58 569.44L1318.53 569.02L1320.48 568.59L1322.43 568.14L1324.38 567.67L1326.32 567.19L1328.26 566.70L1330.19 566.20L1332.13 565.69L1334.06 565.18L1336.00 564.67L1337.93 564.16L1339.87 563.65L1341.81 563.15L1343.74 562.65L1345.68 562.13L1347.61 561.61L1349.53 561.06L1351.45 560.49L1353.35 559.89L1355.24 559.25L1357.12 558.58L1359.00 557.88L1360.86 557.15L1362.72 556.41L1364.58 555.65L1366.42 554.88L1368.27 554.10L1370.10 553.31L1371.93 552.50L1373.75 551.67L1375.56 550.83L1377.37 549.97L1379.18 549.10L1380.98 548.23L1382.77 547.35L1384.57 546.47L1386.37 545.59L1388.16 544.70L1389.95 543.80L1391.73 542.90L1393.51 541.98L1395.28 541.06L1397.05 540.12L1398.81 539.17L1400.56 538.20L1402.30 537.22L1404.03 536.22L1405.76 535.22L1407.49 534.21L1409.22 533.20L1410.95 532.19L1412.67 531.18L1414.38 530.11L1416.08 529.01L1417.78 527.90L1419.49 526.81L1421.21 525.79L1422.96 524.86L1424.75 524.05L1426.58 523.36L1428.46 522.66L1430.37 521.97L1432.30 521.31L1434.26 520.72L1436.23 520.23L1438.20 519.86L1440.17 519.64L1442.13 519.61L1444.11 519.71L1446.10 519.92L1448.09 520.21L1450.09 520.56L1452.07 520.95L1454.04 521.37L1455.98 521.78L1457.89 522.27L1459.80 522.84L1461.69 523.50L1463.57 524.21L1465.44 524.97L1467.31 525.74L1469.16 526.52L1471.01 527.29L1472.84 528.07L1474.66 528.89L1476.47 529.74L1478.28 530.61L1480.08 531.49L1481.88 532.36L1483.68 533.23L1485.50 534.07L1487.32 534.89L1489.16 535.69L1490.99 536.48L1492.83 537.26L1494.68 538.04L1496.52 538.83L1498.35 539.62L1500.18 540.43L1502.00 541.26L1503.81 542.10L1505.62 542.96L1507.42 543.83L1509.22 544.70L1511.03 545.57L1512.83 546.43L1514.64 547.28L1516.46 548.11L1518.28 548.93L1520.11 549.74L1521.94 550.55L1523.77 551.35L1525.61 552.14L1527.45 552.93L1529.29 553.71L1531.14 554.48L1532.99 555.24L1534.83 556.01L1536.68 556.78L1538.54 557.54L1540.40 558.29L1542.26 559.01L1544.13 559.71L1546.02 560.37L1547.91 561.00L1549.81 561.60L1551.73 562.18L1553.65 562.74L1555.58 563.29L1557.51 563.82L1559.44 564.34L1561.37 564.86L1563.31 565.37L1565.24 565.86L1567.18 566.34L1569.13 566.81L1571.07 567.28L1573.02 567.74L1574.97 568.20L1576.91 568.66L1578.86 569.13L1580.80 569.61L1582.74 570.08L1584.69 570.55L1586.63 571.03L1588.57 571.50L1590.52 571.96L1592.47 572.42L1594.41 572.87L1596.36 573.32L1598.31 573.76L1600.27 574.19L1602.22 574.62L1604.17 575.05L1606.13 575.48L1608.08 575.90L1610.04 576.33L1611.99 576.76L1613.94 577.21L1615.89 577.65L1617.84 578.09L1619.80 578.52L1621.75 578.94L1623.71 579.34L1625.67 579.71L1627.64 580.07L1629.61 580.42L1631.58 580.75L1633.56 581.08L1635.53 581.39L1637.51 581.69L1639.49 581.98L1641.47 582.24L1643.46 582.50L1645.44 582.74L1647.43 582.97L1649.41 583.20L1651.40 583.41L1653.39 583.62L1655.38 583.81L1657.38 584.00L1659.37 584.19L1661.36 584.36L1663.35 584.53L1665.35 584.68L1667.34 584.84L1669.33 584.99L1671.33 585.14L1673.32 585.29L1675.32 585.45L1677.31 585.61L1679.30 585.78L1681.30 585.95L1683.29 586.12L1685.28 586.28L1687.28 586.43L1689.27 586.58L1691.27 586.70L1693.26 586.82L1695.26 586.92L1697.26 587.01L1699.26 587.10L1701.26 587.19L1703.25 587.28L1705.25 587.38L1707.25 587.49L1709.25 587.60L1711.24 587.73L1713.24 587.87L1715.23 588.01L1717.23 588.16L1719.22 588.30L1721.22 588.43L1723.21 588.55L1725.21 588.67L1727.21 588.78L1729.20 588.89L1731.20 588.99L1733.20 589.09L1735.20 589.19L1737.20 589.27L1739.19 589.36L1741.19 589.43L1743.19 589.50L1745.19 589.57L1747.19 589.64L1749.19 589.70L1751.19 589.76L1753.19 589.81L1755.19 589.86L1757.18 589.91L1759.18 589.96L1761.18 590.01L1763.18 590.06L1765.18 590.10L1767.18 590.14L1769.18 590.17L1771.18 590.19L1773.18 590.20L1775.18 590.19L1777.18 590.17L1779.18 590.14L1781.18 590.10L1783.18 590.05L1785.18 590.01L1787.18 589.96L1789.18 589.91L1791.18 589.86L1793.18 589.82L1795.18 589.76L1797.18 589.71L1799.18 589.65L1801.18 589.58L1803.18 589.51L1805.17 589.43L1807.17 589.34L1809.16 589.22L1811.16 589.08L1813.15 588.92L1815.15 588.74L1817.14 588.57L1819.13 588.39L1821.12 588.21L1823.12 588.04L1825.11 587.87L1827.10 587.69L1829.09 587.51L1831.09 587.32L1833.08 587.14L1835.07 586.96L1837.06 586.79L1839.05 586.62L1841.05 586.46L1843.04 586.30L1845.04 586.15L1847.03 585.99L1849.02 585.84L1851.02 585.69L1853.01 585.53L1855.01 585.38L1857.00 585.22L1859.00 585.07L1860.99 584.92L1862.99 584.77L1864.98 584.62L1866.97 584.46L1868.97 584.28L1870.95 584.09L1872.94 583.89L1874.93 583.66L1876.91 583.42L1878.90 583.16L1880.88 582.90L1882.86 582.63L1884.85 582.36L1886.83 582.09L1888.81 581.82L1890.79 581.56L1892.77 581.28L1894.76 581.01L1896.74 580.73L1898.72 580.44L1900.69 580.15L1902.67 579.86L1904.65 579.55L1906.62 579.22L1908.59 578.87L1910.56 578.51L1912.53 578.15L1914.50 577.81L1916.48 577.49L1918.45 577.20L1920.43 576.95L1922.42 576.74L1924.42 576.56L1926.41 576.40L1928.41 576.25L1930.41 576.10L1932.40 575.93L1934.39 575.74L1936.37 575.52L1938.35 575.24L1940.31 574.90L1942.27 574.52L1944.23 574.10L1946.19 573.67L1948.15 573.24L1950.11 572.82L1952.07 572.43L1954.04 572.08L1956.02 571.77L1958.00 571.47L1959.99 571.18L1961.97 570.88L1963.95 570.57L1965.91 570.22L1967.87 569.84L1969.80 569.39L1971.71 568.84L1973.61 568.22L1975.50 567.55L1977.38 566.85L1979.27 566.15L1981.16 565.47L1983.06 564.84L1984.97 564.27L1986.90 563.75L1988.85 563.28L1990.80 562.82L1992.75 562.37L1994.71 561.91L1996.65 561.43L1998.57 560.92L2000.48 560.35L2002.37 559.73L2004.25 559.06L2006.12 558.35L2007.99 557.61L2009.84 556.85L2011.70 556.08L2013.55 555.31L2015.40 554.54L2017.25 553.79L2019.10 553.03L2020.96 552.27L2022.80 551.49L2024.65 550.70L2026.48 549.90L2028.29 549.06L2030.09 548.20L2031.86 547.30L2033.62 546.35L2035.35 545.36L2037.07 544.34L2038.78 543.30L2040.49 542.25L2042.21 541.21L2043.93 540.18L2045.66 539.18L2047.40 538.20L2049.15 537.23L2050.90 536.26L2052.65 535.29L2054.40 534.32L2056.15 533.34L2057.88 532.35L2059.61 531.34L2061.31 530.27L2062.99 529.16L2064.66 528.04L2066.34 526.92L2068.02 525.84L2069.73 524.81L2071.47 523.86L2073.25 522.99L2075.07 522.09L2076.93 521.16L2078.81 520.26L2080.71 519.43L2082.62 518.75L2084.52 518.26L2086.41 518.02L2088.29 518.08L2090.18 518.43L2092.07 519.01L2093.96 519.77L2095.85 520.63L2097.73 521.55L2099.59 522.45L2101.44 523.28L2103.28 524.06L2105.10 524.88L2106.90 525.73L2108.70 526.61L2110.50 527.50L2112.29 528.41L2114.07 529.32L2115.86 530.22L2117.64 531.12L2119.42 532.04L2121.19 532.97L2122.96 533.92L2124.72 534.86L2126.48 535.81L2128.26 536.74L2130.04 537.64L2131.83 538.52L2133.64 539.37L2135.45 540.20L2137.28 541.01L2139.12 541.81L2140.96 542.60L2142.80 543.38L2144.65 544.15L2146.49 544.92L2148.34 545.69L2150.19 546.45L2152.04 547.21L2153.89 547.96L2155.75 548.70L2157.61 549.44L2159.47 550.17L2161.34 550.89L2163.20 551.61L2165.07 552.32L2166.95 553.02L2168.82 553.71L2170.70 554.40L2172.58 555.09L2174.46 555.77L2176.35 556.44L2178.23 557.10L2180.13 557.74L2182.03 558.38L2183.93 559.00L2185.83 559.63L2187.72 560.27L2189.61 560.93L2191.49 561.61L2193.35 562.32L2195.20 563.08L2197.04 563.88L2198.88 564.69L2200.71 565.50L2202.54 566.30L2204.38 567.08L2206.24 567.82L2208.11 568.51L2209.99 569.17L2211.88 569.81L2213.78 570.44L2215.68 571.05L2217.59 571.65L2219.51 572.22L2221.43 572.78L2223.37 573.31L2225.31 573.82L2226.00 574.00" fill="none" stroke="#ff0000" stroke-width="10" stroke-linejoin="round" stroke-dasharray="9.4 7.04" stroke-dashoffset="14.26"/>
<path d="M213.00 514.60L213.00 128.00" fill="none" stroke="#00ff00" stroke-width="10" stroke-linejoin="round" stroke-dasharray="9.4 7.04" stroke-dashoffset="0.00"/>
<path d="M214.00 128.00L214.00 130.00L214.00 132.00L214.00 134.00L214.00 136.00L214.00 138.00L214.00 140.00L214.00 142.00L214.00 144.00L214.00 146.00L214.00 148.00L214.01 150.00L214.01 152.00L214.01 154.00L214.01 156.00L214.01 158.00L214.01 160.00L214.01 162.00L214.01 164.00L214.02 166.00L214.02 168.00L214.02 170.00L214.02 172.00L214.02 174.00L214.03 176.00L214.03 178.00L214.03 180.00L214.03 182.00L214.03 184.00L214.04 186.00L214.04 188.00L214.04 190.00L214.04 192.00L214.05 194.00L214.05 196.00L214.05 198.00L214.06 200.00L214.06 202.00L214.06 204.00L214.07 206.00L214.07 208.00L214.07 210.00L214.08 212.00L214.08 214.00L214.08 216.00L214.09 218.00L214.09 220.00L214.09 222.00L214.10 224.00L214.10 226.00L214.11 228.00L214.11 230.00L214.11 232.00L214.12 234.00L214.12 236.00L214.13 238.00L214.13 240.00L214.14 242.00L214.14 244.00L214.15 246.00L214.15 248.00L214.16 250.00L214.16 252.00L214.17 254.00L214.17 256.00L214.18 258.00L214.18 260.00L214.19 262.00L214.19 264.00L214.20 266.00L214.20 268.00L214.21 270.00L214.21 272.00L214.22 274.00L214.23 276.00L214.23 278.00L214.24 280.00L214.24 282.00L214.25 284.00L214.26 286.00L214.26 288.00L214.27 290.00L214.27 292.00L214.28 294.00L214.29 296.00L214.29 298.00L214.30 300.00L214.31 302.00L214.32 304.00L214.32 306.00L214.33 308.00L214.35 310.00L214.36 312.00L214.37 314.00L214.39 316.00L214.40 318.00L214.42 320.00L214.43 322.00L214.45 324.00L214.47 326.00L214.49 328.00L214.51 330.00L214.53 332.00L214.55 334.00L214.58 336.00L214.60 338.00L214.63 340.00L214.65 342.00L214.68 344.00L214.70 346.00L214.73 348.00L214.76 350.00L214.79 352.00L214.81 354.00L214.84 356.00L214.87 358.00L214.90 360.00L214.93 362.00L214.97 364.00L215.00 366.00L215.03 368.00L215.06 370.00L215.10 372.00L215.13 374.00L215.17 376.00L215.20 378.00L215.24 380.00L215.27 382.00L215.31 383.99L215.34 385.99L215.38 387.99L215.41 389.99L215.45 391.99L215.49 393.99L215.53 395.99L215.56 397.99L215.60 399.99L215.64 401.99L215.68 403.99L215.72 405.99L215.76 407.99L215.81 409.99L215.85 411.99L215.90 413.99L215.95 415.99L216.00 417.99L216.05 419.99L216.10 421.99L216.15 423.99L216.21 425.99L216.27 427.99L216.33 429.99L216.39 431.98L216.45 433.98L216.51 435.98L216.58 437.98L216.64 439.98L216.71 441.98L216.78 443.98L216.85 445.98L216.93 447.98L217.00 449.97L217.08 451.97L217.15 453.97L217.23 455.97L217.32 457.97L217.40 459.96L217.48 461.96L217.57 463.96L217.66 465.96L217.75 467.97L217.84 469.97L217.94 471.97L218.04 473.97L218.15 475.98L218.26 477.98L218.38 479.98L218.51 481.97L218.65 483.97L218.80 485.96L218.95 487.96L219.12 489.94L219.30 491.93L219.49 493.91L219.69 495.89L219.93 497.91L220.22 499.95L220.55 501.98L220.94 503.99L221.40 505.94L221.93 507.82L222.54 509.59L223.49 511.25L224.83 512.81L226.00 514.00" fill="none" stroke="#00ff00" stroke-width="10" stroke-linejoin="round" stroke-dasharray="9.4 7.04" stroke-dashoffset="7.96"/>
<path d="M226.00 514.00L228.00 514.01L230.00 514.03L232.00 514.06L234.00 514.08L236.00 514.11L238.00 514.14L240.00 514.18L242.00 514.21L244.00 514.25L246.00 514.30L248.00 514.34L250.00 514.38L252.00 514.43L254.00 514.49L256.00 514.55L258.00 514.62L260.00 514.69L262.00 514.77L264.00 514.86L266.00 514.94L268.00 515.04L270.00 515.13L272.00 515.23L274.00 515.34L276.00 515.44L278.00 515.55L280.00 515.65L282.00 515.76L284.00 515.87L286.00 515.98L288.00 516.09L290.00 516.20L292.00 516.30L294.00 516.41L296.00 516.51L298.00 516.61L300.00 516.71L302.00 516.80L304.00 516.89L306.00 516.99L308.00 517.08L310.00 517.17L312.00 517.26L314.00 517.34L316.00 517.43L318.00 517.52L320.00 517.62L322.00 517.71L324.00 517.80L326.00 517.90L328.00 518.00L330.00 518.10L332.00 518.21L334.00 518.32L336.00 518.43L338.00 518.54L340.00 518.67L342.00 518.79L344.00 518.93L346.00 519.07L348.00 519.21L350.00 519.36L352.00 519.52L354.00 519.68L356.00 519.85L358.00 520.01L360.00 520.19L362.00 520.37L364.00 520.55L366.00 520.73L368.00 520.92L370.00 521.10L372.00 521.29L374.00 521.48L376.00 521.68L378.00 521.87L380.00 522.06L382.00 522.26L384.00 522.45L386.00 522.64L388.00 522.84L390.00 523.03L392.00 523.22L394.00 523.40L396.00 523.59L398.00 523.77L400.00 523.95L402.00 524.13L404.00 524.31L406.00 524.50L408.00 524.69L410.00 524.88L412.00 525.07L414.00 525.26L416.00 525.45L418.00 525.64L420.00 525.83L422.00 526.03L424.00 526.22L426.00 526.41L428.00 526.60L430.00 526.78L432.00 526.97L434.00 527.15L436.00 527.33L438.00 527.50L440.00 527.67L442.00 527.84L444.00 528.00L446.00 528.16L448.00 528.31L450.00 528.45L452.00 528.60L454.00 528.75L456.00 528.91L458.00 529.07L460.00 529.23L462.00 529.38L464.00 529.54L466.00 529.70L468.00 529.85L470.00 529.99L472.00 530.13L474.00 530.26L476.00 530.37L478.00 530.48L480.00 530.57L482.00 530.65L484.00 530.72L486.00 530.77L488.00 530.80L490.00 530.81L492.00 530.82L494.00 530.83L496.00 530.84L498.00 530.84L500.00 530.85L502.00 530.86L504.00 530.87L506.00 530.87L508.00 530.88L510.00 530.89L512.00 530.89L514.00 530.90L516.00 530.90L518.00 530.91L520.00 530.91L522.00 530.91L524.00 530.92L526.00 530.92L528.00 530.92L530.00 530.93L532.00 530.93L534.00 530.93L536.00 530.93L538.00 530.93L540.00 530.93L542.00 530.93L544.00 530.92L546.00 530.90L548.00 530.88L550.00 530.85L552.00 530.81L554.00 530.76L556.00 530.71L558.00 530.65L560.00 530.58L562.00 530.51L564.00 530.44L566.00 530.36L568.00 530.27L570.00 530.18L572.00 530.09L574.00 530.00L576.00 529.90L578.00 529.80L580.00 529.69L582.00 529.59L584.00 529.48L586.00 529.37L588.00 529.27L590.00 529.16L592.00 529.05L594.00 528.94L596.00 528.83L598.00 528.73L600.00 528.62L602.00 528.52L604.00 528.41L606.00 528.29L608.00 528.17L610.00 528.04L612.00 527.91L614.00 527.78L616.00 527.64L618.00 527.50L620.00 527.36L622.00 527.21L624.00 527.06L626.00 526.90L628.00 526.74L630.00 526.58L632.00 526.42L634.00 526.25L636.00 526.08L638.00 525.91L640.00 525.74L642.00 525.57L644.00 525.39L646.00 525.21L648.00 525.04L650.00 524.86L652.00 524.67L654.00 524.48L656.00 524.28L658.00 524.08L660.00 523.87L662.00 523.66L664.00 523.44L666.00 523.22L668.00 522.99L670.00 522.76L672.00 522.53L674.00 522.29L676.00 522.06L678.00 521.82L680.00 521.58L682.00 521.34L684.00 521.10L686.00 520.86L688.00 520.63L690.00 520.39L692.00 520.16L694.00 519.92L696.00 519.70L698.00 519.47L700.00 519.25L702.00 519.03L704.00 518.81L706.00 518.59L708.00 518.37L710.00 518.15L712.00 517.93L714.00 517.71L716.00 517.49L718.00 517.28L720.00 517.06L722.00 516.85L724.00 516.63L726.00 516.42L728.00 516.21L730.00 516.00L732.00 515.78L734.00 515.56L736.00 515.34L738.00 515.11L740.00 514.88L742.00 514.65L744.00 514.42L746.00 514.20L748.00 513.98L750.00 513.78L752.00 513.58L754.00 513.40L756.00 513.24L758.00 513.09L760.00 512.97L762.00 512.85L764.00 512.73L766.00 512.61L768.00 512.52L770.00 512.45L772.00 512.41L774.00 512.40L776.00 512.44L778.00 512.51L780.00 512.60L782.00 512.72L784.00 512.86L786.00 513.01L788.00 513.17L790.00 513.34" fill="none" stroke="#00ff00" stroke-width="10" stroke-linejoin="round" stroke-dasharray="9.4 7.04" stroke-dashoffset="7.32"/>
<path d="M790.00 513.34L792.00 513.55L794.00 513.84L796.00 514.18L798.00 514.56L800.00 514.97L802.00 515.39L804.00 515.80L806.00 516.18L808.00 516.52L810.00 516.83L812.00 517.14L814.00 517.45L816.00 517.74L818.00 518.04L820.00 518.33L822.00 518.62L824.00 518.91L826.00 519.19L828.00 519.47L830.00 519.74L832.00 520.01L834.00 520.28L836.00 520.55L838.00 520.81L840.00 521.07L842.00 521.33L844.00 521.59L846.00 521.84L848.00 522.10L850.00 522.35L852.00 522.59L854.00 522.84L856.00 523.09L858.00 523.33L860.00 523.57L862.00 523.81L864.00 524.06L866.00 524.30L868.00 524.54L870.00 524.78L872.00 525.01L874.00 525.25L876.00 525.48L878.00 525.71L880.00 525.94L882.00 526.16L884.00 526.38L886.00 526.60L888.00 526.81L890.00 527.02L892.00 527.22L894.00 527.42L896.00 527.61L898.00 527.79L900.00 527.97L902.00 528.14L904.00 528.31L906.00 528.48L908.00 528.65L910.00 528.82L912.00 528.99L914.00 529.16L916.00 529.33L918.00 529.49L920.00 529.65L922.00 529.82L924.00 529.98L926.00 530.14L928.00 530.30L930.00 530.45L932.00 530.61L934.00 530.76L936.00 530.92L938.00 531.07L940.00 531.22L942.00 531.36L944.00 531.51L946.00 531.65L948.00 531.80L950.00 531.94L952.00 532.08L954.00 532.21L956.00 532.35L958.00 532.48L960.00 532.61L962.00 532.74L964.00 532.87L966.00 533.00L968.00 533.12L970.00 533.24L972.00 533.36L974.00 533.47L976.00 533.59L978.00 533.70L980.00 533.81L982.00 533.91L984.00 534.02L986.00 534.12L988.00 534.22L990.00 534.32L992.00 534.41L994.00 534.50L996.00 534.59L998.00 534.67L1000.00 534.76L1002.00 534.84L1004.00 534.92L1006.00 535.00L1008.00 535.08L1010.00 535.16L1012.00 535.24L1014.00 535.32L1016.00 535.40L1018.00 535.47L1020.00 535.55L1022.00 535.62L1024.00 535.69L1026.00 535.76L1028.00 535.83L1030.00 535.90L1032.00 535.96L1034.00 536.03L1036.00 536.09L1038.00 536.14L1040.00 536.20L1042.00 536.25L1044.00 536.30L1046.00 536.35L1048.00 536.39L1050.00 536.43L1052.00 536.47L1054.00 536.50L1056.00 536.53L1058.00 536.56L1060.00 536.58L1062.00 536.60L1064.00 536.62L1066.00 536.64L1068.00 536.66L1070.00 536.68L1072.00 536.70L1074.00 536.72L1076.00 536.73L1078.00 536.75L1080.00 536.77L1082.00 536.78L1084.00 536.80L1086.00 536.82L1088.00 536.83L1090.00 536.85L1092.00 536.86L1094.00 536.87L1096.00 536.89L1098.00 536.90L1100.00 536.91L1102.00 536.92L1104.00 536.93L1106.00 536.94L1108.00 536.95L1110.00 536.96L1112.00 536.97L1114.00 536.97L1116.00 536.98L1118.00 536.98L1120.00 536.99L1122.00 536.99L1124.00 537.00L1126.00 537.00L1128.00 537.00L1130.00 537.00L1132.00 537.00L1134.00 536.99L1136.00 536.99L1138.00 536.98L1140.00 536.97L1142.00 536.95L1144.00 536.93L1146.00 536.92L1148.00 536.89L1150.00 536.87L1152.00 536.84L1154.00 536.82L1156.00 536.79L1158.00 536.76L1160.00 536.72L1162.00 536.69L1164.00 536.65L1166.00 536.62L1168.00 536.58L1170.00 536.54L1172.00 536.49L1174.00 536.45L1176.00 536.41L1178.00 536.36L1180.00 536.32L1182.00 536.27L1184.00 536.22L1186.00 536.18L1188.00 536.13L1190.00 536.08L1192.00 536.03L1194.00 535.98L1196.00 535.93L1198.00 535.88L1200.00 535.83L1202.00 535.77L1204.00 535.72L1206.00 535.66L1208.00 535.59L1210.00 535.52L1212.00 535.44L1214.00 535.37L1216.00 535.28L1218.00 535.20L1220.00 535.11L1222.00 535.02L1224.00 534.92L1226.00 534.83L1228.00 534.73L1230.00 534.63L1232.00 534.52L1234.00 534.42L1236.00 534.31L1238.00 534.20L1240.00 534.09L1242.00 533.98L1244.00 533.87L1246.00 533.75L1248.00 533.64L1250.00 533.53L1252.00 533.41L1254.00 533.29L1256.00 533.17L1258.00 533.05L1260.00 532.93L1262.00 532.80L1264.00 532.67L1266.00 532.54L1268.00 532.41L1270.00 532.28L1272.00 532.14L1274.00 532.00L1276.00 531.86L1278.00 531.72L1280.00 531.57L1282.00 531.43L1284.00 531.28L1286.00 531.13L1288.00 530.97L1290.00 530.82L1292.00 530.66L1294.00 530.50L1296.00 530.34L1298.00 530.18L1300.00 530.02L1302.00 529.85L1304.00 529.69L1306.00 529.52L1308.00 529.35L1310.00 529.17L1312.00 529.00L1314.00 528.82L1316.00 528.65L1318.00 528.47L1320.00 528.29L1322.00 528.11L1324.00 527.92L1326.00 527.74L1328.00 527.55L1330.00 527.36L1332.00 527.17L1334.00 526.98L1336.00 526.79L1338.00 526.60L1340.00 526.40L1342.00 526.20L1344.00 526.01L1346.00 525.81L1348.00 525.61L1350.00 525.40L1352.00 525.20L1354.00 524.99L1356.00 524.77L1358.00 524.55L1360.00 524.32L1362.00 524.09L1364.00 523.85L1366.00 523.61L1368.00 523.37L1370.00 523.12L1372.00 522.86L1374.00 522.61L1376.00 522.35L1378.00 522.09L1380.00 521.82L1382.00 521.56L1384.00 521.29L1386.00 521.02L1388.00 520.75L1390.00 520.47L1392.00 520.20L1394.00 519.93L1396.00 519.65L1398.00 519.38L1400.00 519.10L1402.00 518.82L1404.00 518.53L1406.00 518.23L1408.00 517.93L1410.00 517.63L1412.00 517.32L1414.00 517.02L1416.00 516.71L1418.00 516.40L1420.00 516.09L1422.00 515.79L1424.00 515.49L1426.00 515.19L1428.00 514.90L1430.00 514.61L1432.00 514.29L1434.00 513.94L1436.00 513.57L1438.00 513.22L1440.00 512.90L1442.00 512.64L1444.00 512.46L1446.00 512.40" fill="none" stroke="#00ff00" stroke-width="10" stroke-linejoin="round" stroke-dasharray="9.4 7.04" stroke-dashoffset="16.08"/>
<path d="M1446.00 512.40L1448.00 512.45L1450.00 512.59L1452.00 512.79L1454.00 513.05L1456.00 513.34L1458.00 513.65L1460.00 513.96L1462.00 514.24L1464.00 514.53L1466.00 514.84L1468.00 515.18L1470.00 515.52L1472.00 515.88L1474.00 516.23L1476.00 516.57L1478.00 516.90L1480.00 517.20L1482.00 517.48L1484.00 517.77L1486.00 518.05L1488.00 518.33L1490.00 518.60L1492.00 518.88L1494.00 519.15L1496.00 519.42L1498.00 519.68L1500.00 519.94L1502.00 520.20L1504.00 520.46L1506.00 520.72L1508.00 520.97L1510.00 521.22L1512.00 521.47L1514.00 521.71L1516.00 521.96L1518.00 522.20L1520.00 522.43L1522.00 522.67L1524.00 522.90L1526.00 523.13L1528.00 523.36L1530.00 523.59L1532.00 523.81L1534.00 524.04L1536.00 524.26L1538.00 524.47L1540.00 524.69L1542.00 524.90L1544.00 525.12L1546.00 525.32L1548.00 525.53L1550.00 525.74L1552.00 525.94L1554.00 526.15L1556.00 526.35L1558.00 526.55L1560.00 526.76L1562.00 526.96L1564.00 527.16L1566.00 527.36L1568.00 527.56L1570.00 527.76L1572.00 527.96L1574.00 528.16L1576.00 528.36L1578.00 528.55L1580.00 528.75L1582.00 528.94L1584.00 529.13L1586.00 529.32L1588.00 529.51L1590.00 529.70L1592.00 529.89L1594.00 530.08L1596.00 530.26L1598.00 530.44L1600.00 530.62L1602.00 530.80L1604.00 530.98L1606.00 531.15L1608.00 531.33L1610.00 531.50L1612.00 531.67L1614.00 531.83L1616.00 532.00L1618.00 532.16L1620.00 532.32L1622.00 532.47L1624.00 532.63L1626.00 532.78L1628.00 532.93L1630.00 533.08L1632.00 533.22L1634.00 533.36L1636.00 533.50L1638.00 533.64L1640.00 533.77L1642.00 533.90L1644.00 534.02L1646.00 534.15L1648.00 534.27L1650.00 534.38L1652.00 534.50L1654.00 534.61L1656.00 534.73L1658.00 534.84L1660.00 534.95L1662.00 535.07L1664.00 535.18L1666.00 535.29L1668.00 535.40L1670.00 535.51L1672.00 535.62L1674.00 535.73L1676.00 535.84L1678.00 535.94L1680.00 536.04L1682.00 536.14L1684.00 536.24L1686.00 536.34L1688.00 536.43L1690.00 536.52L1692.00 536.61L1694.00 536.70L1696.00 536.78L1698.00 536.86L1700.00 536.93L1702.00 537.00L1704.00 537.07L1706.00 537.13L1708.00 537.19L1710.00 537.25L1712.00 537.30L1714.00 537.35L1716.00 537.39L1718.00 537.43L1720.00 537.46L1722.00 537.49L1724.00 537.52L1726.00 537.55L1728.00 537.58L1730.00 537.60L1732.00 537.63L1734.00 537.66L1736.00 537.68L1738.00 537.71L1740.00 537.73L1742.00 537.75L1744.00 537.77L1746.00 537.79L1748.00 537.81L1750.00 537.83L1752.00 537.84L1754.00 537.86L1756.00 537.87L1758.00 537.88L1760.00 537.89L1762.00 537.89L1764.00 537.90L1766.00 537.90L1768.00 537.90L1770.00 537.90L1772.00 537.89L1774.00 537.88L1776.00 537.87L1778.00 537.85L1780.00 537.83L1782.00 537.81L1784.00 537.79L1786.00 537.76L1788.00 537.73L1790.00 537.70L1792.00 537.67L1794.00 537.63L1796.00 537.60L1798.00 537.56L1800.00 537.52L1802.00 537.47L1804.00 537.43L1806.00 537.38L1808.00 537.34L1810.00 537.29L1812.00 537.24L1814.00 537.19L1816.00 537.14L1818.00 537.09L1820.00 537.04L1822.00 536.99L1824.00 536.93L1826.00 536.88L1828.00 536.83L1830.00 536.77L1832.00 536.72L1834.00 536.66L1836.00 536.59L1838.00 536.53L1840.00 536.45L1842.00 536.38L1844.00 536.29L1846.00 536.21L1848.00 536.12L1850.00 536.03L1852.00 535.93L1854.00 535.83L1856.00 535.73L1858.00 535.63L1860.00 535.52L1862.00 535.41L1864.00 535.30L1866.00 535.19L1868.00 535.07L1870.00 534.95L1872.00 534.83L1874.00 534.71L1876.00 534.58L1878.00 534.46L1880.00 534.33L1882.00 534.20L1884.00 534.07L1886.00 533.94L1888.00 533.81L1890.00 533.68L1892.00 533.55L1894.00 533.42L1896.00 533.29L1898.00 533.16L1900.00 533.02L1902.00 532.89L1904.00 532.76L1906.00 532.62L1908.00 532.48L1910.00 532.34L1912.00 532.19L1914.00 532.05L1916.00 531.90L1918.00 531.75L1920.00 531.60L1922.00 531.44L1924.00 531.28L1926.00 531.12L1928.00 530.96L1930.00 530.80L1932.00 530.64L1934.00 530.47L1936.00 530.30L1938.00 530.13L1940.00 529.96L1942.00 529.79L1944.00 529.61L1946.00 529.43L1948.00 529.26L1950.00 529.08L1952.00 528.89L1954.00 528.71L1956.00 528.53L1958.00 528.34L1960.00 528.16L1962.00 527.97L1964.00 527.78L1966.00 527.59L1968.00 527.40L1970.00 527.20L1972.00 527.01L1974.00 526.81L1976.00 526.62L1978.00 526.42L1980.00 526.22L1982.00 526.02L1984.00 525.82L1986.00 525.62L1988.00 525.42L1990.00 525.22L1992.00 525.01L1994.00 524.81L1996.00 524.61L1998.00 524.40L2000.00 524.19L2002.00 523.98L2004.00 523.77L2006.00 523.55L2008.00 523.32L2010.00 523.10L2012.00 522.87L2014.00 522.64L2016.00 522.40L2018.00 522.16L2020.00 521.93L2022.00 521.68L2024.00 521.44L2026.00 521.20L2028.00 520.95L2030.00 520.70L2032.00 520.46L2034.00 520.21L2036.00 519.96L2038.00 519.71L2040.00 519.46L2042.00 519.21L2044.00 518.96L2046.00 518.71L2048.00 518.46L2050.00 518.21L2052.00 517.96L2054.00 517.70L2056.00 517.44L2058.00 517.18L2060.00 516.91L2062.00 516.65L2064.00 516.38L2066.00 516.12L2068.00 515.86L2070.00 515.61L2072.00 515.37L2074.00 515.14L2076.00 514.91L2078.00 514.65L2080.00 514.38L2082.00 514.13L2084.00 513.91L2086.00 513.77L2088.00 513.71L2090.00 513.77L2092.00 513.94L2094.00 514.18L2096.00 514.48L2098.00 514.80L2100.00 515.11L2102.00 515.40L2104.00 515.67L2106.00 515.95L2108.00 516.24L2110.00 516.53L2112.00 516.83L2114.00 517.13L2116.00 517.43L2118.00 517.73L2120.00 518.02L2122.00 518.32L2124.00 518.61L2126.00 518.90L2128.00 519.19L2130.00 519.48L2132.00 519.77L2134.00 520.06L2136.00 520.35L2138.00 520.64L2140.00 520.93L2142.00 521.22L2144.00 521.51L2146.00 521.81L2148.00 522.10L2150.00 522.39L2152.00 522.68L2154.00 522.97L2156.00 523.26L2158.00 523.55L2160.00 523.84L2162.00 524.13L2164.00 524.42L2166.00 524.71L2168.00 525.00L2170.00 525.29L2172.00 525.58L2174.00 525.87L2176.00 526.16L2178.00 526.45L2180.00 526.74L2182.00 527.03L2184.00 527.32L2186.00 527.61L2188.00 527.90L2190.00 528.19L2192.00 528.48L2194.00 528.77L2196.00 529.06L2198.00 529.35L2200.00 529.64L2202.00 529.93L2204.00 530.22L2206.00 530.51L2208.00 530.80L2210.00 531.08L2212.00 531.37L2214.00 531.66L2216.00 531.95L2218.00 532.24L2220.00 532.53L2222.00 532.82L2224.00 533.11L2226.00 533.40" fill="none" stroke="#00ff00" stroke-width="10" stroke-linejoin="round" stroke-dasharray="9.4 7.04" stroke-dashoffset="4.34"/>
<path d="M213.00 514.60L213.00 154.60" fill="none" stroke="#ffff00" stroke-width="10" stroke-linejoin="round" stroke-dasharray="9.4 7.04" stroke-dashoffset="0.00"/>
<path d="M214.00 154.60L214.00 156.60L214.00 158.60L214.00 160.60L214.00 162.60L214.00 164.60L214.00 166.60L214.00 168.60L214.00 170.60L214.01 172.60L214.01 174.60L214.01 176.60L214.01 178.60L214.01 180.60L214.01 182.60L214.01 184.60L214.02 186.60L214.02 188.60L214.02 190.60L214.02 192.60L214.03 194.60L214.03 196.60L214.03 198.60L214.03 200.60L214.04 202.60L214.04 204.60L214.04 206.60L214.05 208.60L214.05 210.60L214.05 212.60L214.06 214.60L214.06 216.60L214.06 218.60L214.07 220.60L214.07 222.60L214.08 224.60L214.08 226.60L214.09 228.60L214.09 230.60L214.09 232.60L214.10 234.60L214.10 236.60L214.11 238.60L214.11 240.60L214.12 242.60L214.12 244.60L214.13 246.60L214.13 248.60L214.14 250.60L214.14 252.60L214.15 254.60L214.16 256.60L214.16 258.60L214.17 260.60L214.17 262.60L214.18 264.60L214.19 266.60L214.19 268.60L214.20 270.60L214.20 272.60L214.21 274.60L214.22 276.60L214.22 278.60L214.23 280.60L214.24 282.60L214.24 284.60L214.25 286.60L214.26 288.60L214.27 290.60L214.27 292.60L214.28 294.60L214.29 296.60L214.29 298.60L214.30 300.60L214.31 302.60L214.32 304.60L214.33 306.60L214.34 308.60L214.35 310.60L214.37 312.60L214.38 314.60L214.40 316.60L214.41 318.60L214.43 320.60L214.45 322.60L214.46 324.60L214.48 326.60L214.50 328.60L214.52 330.60L214.55 332.60L214.57 334.60L214.59 336.60L214.61 338.60L214.64 340.60L214.66 342.60L214.69 344.60L214.72 346.60L214.74 348.60L214.77 350.60L214.80 352.60L214.83 354.60L214.86 356.60L214.89 358.60L214.92 360.60L214.95 362.60L214.98 364.60L215.01 366.60L215.04 368.60L215.08 370.60L215.11 372.60L215.14 374.60L215.18 376.60L215.21 378.60L215.25 380.60L215.28 382.60L215.32 384.59L215.35 386.59L215.39 388.59L215.43 390.59L215.46 392.59L215.50 394.59L215.54 396.59L215.57 398.59L215.61 400.59L215.65 402.59L215.69 404.59L215.73 406.59L215.77 408.59L215.82 410.59L215.86 412.59L215.91 414.59L215.96 416.59L216.01 418.59L216.06 420.59L216.12 422.59L216.17 424.59L216.23 426.59L216.28 428.59L216.34 430.59L216.40 432.58L216.47 434.58L216.53 436.58L216.60 438.58L216.66 440.58L216.73 442.58L216.80 444.58L216.87 446.58L216.95 448.58L217.02 450.57L217.10 452.57L217.18 454.57L217.26 456.57L217.34 458.57L217.42 460.56L217.51 462.56L217.59 464.56L217.68 466.56L217.77 468.57L217.87 470.57L217.97 472.57L218.07 474.57L218.18 476.58L218.30 478.58L218.42 480.58L218.55 482.57L218.69 484.57L218.84 486.56L219.00 488.55L219.17 490.54L219.35 492.52L219.55 494.50L219.76 496.49L220.01 498.52L220.31 500.56L220.66 502.59L221.07 504.58L221.55 506.51L222.10 508.36L222.77 510.10L223.87 511.73L225.27 513.26L226.00 514.00" fill="none" stroke="#ffff00" stroke-width="10" stroke-linejoin="round" stroke-dasharray="9.4 7.04" stroke-dashoffset="1.68"/>
<path d="M226.00 514.00L228.00 514.04L230.00 514.07L232.00 514.11L234.00 514.15L236.00 514.20L238.00 514.24L240.00 514.28L242.00 514.33L244.00 514.38L246.00 514.43L248.00 514.48L250.00 514.53L252.00 514.59L254.00 514.64L256.00 514.70L258.00 514.77L260.00 514.83L262.00 514.90L264.00 514.97L266.00 515.04L268.00 515.11L270.00 515.19L272.00 515.26L274.00 515.34L276.00 515.41L278.00 515.49L280.00 515.57L282.00 515.65L284.00 515.72L286.00 515.80L288.00 515.88L290.00 515.95L292.00 516.03L294.00 516.10L296.00 516.18L298.00 516.25L300.00 516.32L302.00 516.39L304.00 516.45L306.00 516.52L308.00 516.58L310.00 516.64L312.00 516.70L314.00 516.76L316.00 516.82L318.00 516.88L320.00 516.94L322.00 517.01L324.00 517.07L326.00 517.13L328.00 517.20L330.00 517.27L332.00 517.34L334.00 517.41L336.00 517.48L338.00 517.56L340.00 517.64L342.00 517.73L344.00 517.82L346.00 517.92L348.00 518.01L350.00 518.12L352.00 518.22L354.00 518.33L356.00 518.44L358.00 518.56L360.00 518.68L362.00 518.80L364.00 518.92L366.00 519.04L368.00 519.17L370.00 519.30L372.00 519.42L374.00 519.55L376.00 519.68L378.00 519.82L380.00 519.95L382.00 520.08L384.00 520.21L386.00 520.34L388.00 520.47L390.00 520.60L392.00 520.73L394.00 520.85L396.00 520.98L398.00 521.10L400.00 521.23L402.00 521.35L404.00 521.47L406.00 521.60L408.00 521.72L410.00 521.85L412.00 521.98L414.00 522.11L416.00 522.24L418.00 522.37L420.00 522.50L422.00 522.63L424.00 522.76L426.00 522.89L428.00 523.02L430.00 523.14L432.00 523.27L434.00 523.39L436.00 523.51L438.00 523.63L440.00 523.74L442.00 523.86L444.00 523.97L446.00 524.07L448.00 524.18L450.00 524.28L452.00 524.37L454.00 524.48L456.00 524.58L458.00 524.69L460.00 524.80L462.00 524.91L464.00 525.01L466.00 525.12L468.00 525.22L470.00 525.32L472.00 525.41L474.00 525.50L476.00 525.58L478.00 525.65L480.00 525.71L482.00 525.77L484.00 525.81L486.00 525.84L488.00 525.86L490.00 525.87L492.00 525.88L494.00 525.88L496.00 525.89L498.00 525.89L500.00 525.90L502.00 525.90L504.00 525.91L506.00 525.91L508.00 525.92L510.00 525.92L512.00 525.93L514.00 525.93L516.00 525.93L518.00 525.93L520.00 525.94L522.00 525.94L524.00 525.94L526.00 525.94L528.00 525.95L530.00 525.95L532.00 525.95L534.00 525.95L536.00 525.95L538.00 525.95L540.00 525.95L542.00 525.95L544.00 525.94L546.00 525.93L548.00 525.92L550.00 525.89L552.00 525.87L554.00 525.84L556.00 525.80L558.00 525.76L560.00 525.71L562.00 525.67L564.00 525.62L566.00 525.56L568.00 525.50L570.00 525.44L572.00 525.38L574.00 525.32L576.00 525.25L578.00 525.18L580.00 525.11L582.00 525.04L584.00 524.97L586.00 524.89L588.00 524.82L590.00 524.75L592.00 524.67L594.00 524.60L596.00 524.53L598.00 524.45L600.00 524.38L602.00 524.31L604.00 524.24L606.00 524.16L608.00 524.07L610.00 523.99L612.00 523.90L614.00 523.81L616.00 523.72L618.00 523.62L620.00 523.52L622.00 523.42L624.00 523.32L626.00 523.21L628.00 523.11L630.00 523.00L632.00 522.89L634.00 522.78L636.00 522.66L638.00 522.55L640.00 522.43L642.00 522.31L644.00 522.19L646.00 522.07L648.00 521.95L650.00 521.83L652.00 521.70L654.00 521.58L656.00 521.44L658.00 521.30L660.00 521.16L662.00 521.02L664.00 520.87L666.00 520.72L668.00 520.57L670.00 520.41L672.00 520.25L674.00 520.09L676.00 519.93L678.00 519.77L680.00 519.61L682.00 519.45L684.00 519.29L686.00 519.13L688.00 518.97L690.00 518.81L692.00 518.65L694.00 518.49L696.00 518.34L698.00 518.18L700.00 518.03L702.00 517.88L704.00 517.73L706.00 517.59L708.00 517.44L710.00 517.29L712.00 517.14L714.00 516.99L716.00 516.85L718.00 516.70L720.00 516.55L722.00 516.41L724.00 516.26L726.00 516.12L728.00 515.98L730.00 515.83L732.00 515.69L734.00 515.54L736.00 515.39L738.00 515.23L740.00 515.07L742.00 514.92L744.00 514.77L746.00 514.62L748.00 514.47L750.00 514.33L752.00 514.20L754.00 514.08L756.00 513.97L758.00 513.87L760.00 513.78L762.00 513.70L764.00 513.62L766.00 513.55L768.00 513.48L770.00 513.43L772.00 513.40L774.00 513.40L776.00 513.43L778.00 513.47L780.00 513.54L782.00 513.62L784.00 513.71L786.00 513.81L788.00 513.92L790.00 514.04" fill="none" stroke="#ffff00" stroke-width="10" stroke-linejoin="round" stroke-dasharray="9.4 7.04" stroke-dashoffset="1.74"/>
<path d="M790.00 514.04L792.00 514.18L794.00 514.37L796.00 514.60L798.00 514.86L800.00 515.14L802.00 515.42L804.00 515.70L806.00 515.96L808.00 516.19L810.00 516.40L812.00 516.61L814.00 516.81L816.00 517.01L818.00 517.21L820.00 517.41L822.00 517.60L824.00 517.80L826.00 517.99L828.00 518.18L830.00 518.36L832.00 518.55L834.00 518.73L836.00 518.91L838.00 519.09L840.00 519.26L842.00 519.44L844.00 519.61L846.00 519.78L848.00 519.95L850.00 520.12L852.00 520.29L854.00 520.46L856.00 520.62L858.00 520.79L860.00 520.95L862.00 521.11L864.00 521.28L866.00 521.44L868.00 521.60L870.00 521.76L872.00 521.92L874.00 522.08L876.00 522.24L878.00 522.39L880.00 522.55L882.00 522.70L884.00 522.85L886.00 522.99L888.00 523.14L890.00 523.28L892.00 523.41L894.00 523.54L896.00 523.67L898.00 523.80L900.00 523.92L902.00 524.03L904.00 524.15L906.00 524.27L908.00 524.38L910.00 524.49L912.00 524.61L914.00 524.72L916.00 524.83L918.00 524.94L920.00 525.05L922.00 525.16L924.00 525.27L926.00 525.37L928.00 525.48L930.00 525.59L932.00 525.69L934.00 525.79L936.00 525.90L938.00 526.00L940.00 526.10L942.00 526.20L944.00 526.29L946.00 526.39L948.00 526.48L950.00 526.58L952.00 526.67L954.00 526.76L956.00 526.85L958.00 526.94L960.00 527.03L962.00 527.12L964.00 527.20L966.00 527.29L968.00 527.37L970.00 527.45L972.00 527.53L974.00 527.61L976.00 527.69L978.00 527.76L980.00 527.84L982.00 527.91L984.00 527.98L986.00 528.05L988.00 528.12L990.00 528.19L992.00 528.25L994.00 528.32L996.00 528.38L998.00 528.44L1000.00 528.50L1002.00 528.55L1004.00 528.61L1006.00 528.67L1008.00 528.73L1010.00 528.79L1012.00 528.84L1014.00 528.90L1016.00 528.96L1018.00 529.02L1020.00 529.07L1022.00 529.13L1024.00 529.18L1026.00 529.23L1028.00 529.28L1030.00 529.33L1032.00 529.38L1034.00 529.43L1036.00 529.47L1038.00 529.51L1040.00 529.56L1042.00 529.59L1044.00 529.63L1046.00 529.66L1048.00 529.69L1050.00 529.72L1052.00 529.74L1054.00 529.77L1056.00 529.78L1058.00 529.80L1060.00 529.81L1062.00 529.82L1064.00 529.83L1066.00 529.84L1068.00 529.85L1070.00 529.86L1072.00 529.87L1074.00 529.87L1076.00 529.88L1078.00 529.89L1080.00 529.90L1082.00 529.91L1084.00 529.91L1086.00 529.92L1088.00 529.93L1090.00 529.93L1092.00 529.94L1094.00 529.95L1096.00 529.95L1098.00 529.96L1100.00 529.96L1102.00 529.97L1104.00 529.97L1106.00 529.98L1108.00 529.98L1110.00 529.98L1112.00 529.99L1114.00 529.99L1116.00 529.99L1118.00 529.99L1120.00 530.00L1122.00 530.00L1124.00 530.00L1126.00 530.00L1128.00 530.00L1130.00 530.00L1132.00 530.00L1134.00 530.00L1136.00 529.99L1138.00 529.99L1140.00 529.98L1142.00 529.97L1144.00 529.96L1146.00 529.94L1148.00 529.93L1150.00 529.91L1152.00 529.90L1154.00 529.88L1156.00 529.86L1158.00 529.84L1160.00 529.82L1162.00 529.79L1164.00 529.77L1166.00 529.74L1168.00 529.72L1170.00 529.69L1172.00 529.66L1174.00 529.63L1176.00 529.61L1178.00 529.58L1180.00 529.55L1182.00 529.51L1184.00 529.48L1186.00 529.45L1188.00 529.42L1190.00 529.39L1192.00 529.35L1194.00 529.32L1196.00 529.29L1198.00 529.25L1200.00 529.22L1202.00 529.18L1204.00 529.14L1206.00 529.10L1208.00 529.06L1210.00 529.01L1212.00 528.96L1214.00 528.91L1216.00 528.85L1218.00 528.80L1220.00 528.74L1222.00 528.68L1224.00 528.61L1226.00 528.55L1228.00 528.48L1230.00 528.41L1232.00 528.34L1234.00 528.27L1236.00 528.20L1238.00 528.12L1240.00 528.05L1242.00 527.98L1244.00 527.90L1246.00 527.82L1248.00 527.75L1250.00 527.67L1252.00 527.59L1254.00 527.51L1256.00 527.43L1258.00 527.35L1260.00 527.27L1262.00 527.18L1264.00 527.10L1266.00 527.01L1268.00 526.92L1270.00 526.83L1272.00 526.74L1274.00 526.64L1276.00 526.55L1278.00 526.45L1280.00 526.35L1282.00 526.26L1284.00 526.15L1286.00 526.05L1288.00 525.95L1290.00 525.85L1292.00 525.74L1294.00 525.63L1296.00 525.53L1298.00 525.42L1300.00 525.31L1302.00 525.19L1304.00 525.08L1306.00 524.97L1308.00 524.85L1310.00 524.74L1312.00 524.62L1314.00 524.50L1316.00 524.38L1318.00 524.26L1320.00 524.14L1322.00 524.02L1324.00 523.89L1326.00 523.77L1328.00 523.64L1330.00 523.51L1332.00 523.39L1334.00 523.26L1336.00 523.13L1338.00 523.00L1340.00 522.86L1342.00 522.73L1344.00 522.60L1346.00 522.46L1348.00 522.33L1350.00 522.19L1352.00 522.05L1354.00 521.91L1356.00 521.76L1358.00 521.61L1360.00 521.46L1362.00 521.30L1364.00 521.14L1366.00 520.98L1368.00 520.81L1370.00 520.65L1372.00 520.48L1374.00 520.30L1376.00 520.13L1378.00 519.95L1380.00 519.77L1382.00 519.59L1384.00 519.41L1386.00 519.23L1388.00 519.05L1390.00 518.86L1392.00 518.68L1394.00 518.49L1396.00 518.31L1398.00 518.12L1400.00 517.93L1402.00 517.74L1404.00 517.54L1406.00 517.34L1408.00 517.14L1410.00 516.94L1412.00 516.73L1414.00 516.52L1416.00 516.31L1418.00 516.11L1420.00 515.90L1422.00 515.69L1424.00 515.49L1426.00 515.29L1428.00 515.09L1430.00 514.89L1432.00 514.68L1434.00 514.44L1436.00 514.19L1438.00 513.95L1440.00 513.74L1442.00 513.56L1444.00 513.44L1446.00 513.40" fill="none" stroke="#ffff00" stroke-width="10" stroke-linejoin="round" stroke-dasharray="9.4 7.04" stroke-dashoffset="9.87"/>
<path d="M1446.00 513.40L1448.00 513.43L1450.00 513.53L1452.00 513.67L1454.00 513.84L1456.00 514.04L1458.00 514.25L1460.00 514.45L1462.00 514.65L1464.00 514.84L1466.00 515.05L1468.00 515.28L1470.00 515.51L1472.00 515.75L1474.00 515.99L1476.00 516.22L1478.00 516.44L1480.00 516.65L1482.00 516.84L1484.00 517.03L1486.00 517.22L1488.00 517.41L1490.00 517.60L1492.00 517.78L1494.00 517.97L1496.00 518.15L1498.00 518.33L1500.00 518.51L1502.00 518.68L1504.00 518.86L1506.00 519.03L1508.00 519.20L1510.00 519.37L1512.00 519.54L1514.00 519.70L1516.00 519.87L1518.00 520.03L1520.00 520.19L1522.00 520.35L1524.00 520.51L1526.00 520.67L1528.00 520.82L1530.00 520.98L1532.00 521.13L1534.00 521.28L1536.00 521.43L1538.00 521.58L1540.00 521.72L1542.00 521.87L1544.00 522.01L1546.00 522.15L1548.00 522.29L1550.00 522.43L1552.00 522.57L1554.00 522.71L1556.00 522.85L1558.00 522.99L1560.00 523.12L1562.00 523.26L1564.00 523.40L1566.00 523.53L1568.00 523.67L1570.00 523.81L1572.00 523.94L1574.00 524.07L1576.00 524.21L1578.00 524.34L1580.00 524.47L1582.00 524.60L1584.00 524.74L1586.00 524.87L1588.00 524.99L1590.00 525.12L1592.00 525.25L1594.00 525.37L1596.00 525.50L1598.00 525.62L1600.00 525.75L1602.00 525.87L1604.00 525.99L1606.00 526.11L1608.00 526.22L1610.00 526.34L1612.00 526.45L1614.00 526.57L1616.00 526.68L1618.00 526.79L1620.00 526.90L1622.00 527.00L1624.00 527.11L1626.00 527.21L1628.00 527.31L1630.00 527.41L1632.00 527.51L1634.00 527.61L1636.00 527.70L1638.00 527.79L1640.00 527.88L1642.00 527.97L1644.00 528.06L1646.00 528.14L1648.00 528.22L1650.00 528.30L1652.00 528.38L1654.00 528.45L1656.00 528.53L1658.00 528.61L1660.00 528.69L1662.00 528.77L1664.00 528.84L1666.00 528.92L1668.00 528.99L1670.00 529.07L1672.00 529.14L1674.00 529.22L1676.00 529.29L1678.00 529.36L1680.00 529.43L1682.00 529.50L1684.00 529.56L1686.00 529.63L1688.00 529.69L1690.00 529.76L1692.00 529.82L1694.00 529.87L1696.00 529.93L1698.00 529.98L1700.00 530.03L1702.00 530.08L1704.00 530.13L1706.00 530.17L1708.00 530.21L1710.00 530.25L1712.00 530.29L1714.00 530.32L1716.00 530.35L1718.00 530.37L1720.00 530.39L1722.00 530.42L1724.00 530.44L1726.00 530.46L1728.00 530.47L1730.00 530.49L1732.00 530.51L1734.00 530.53L1736.00 530.55L1738.00 530.56L1740.00 530.58L1742.00 530.60L1744.00 530.61L1746.00 530.62L1748.00 530.64L1750.00 530.65L1752.00 530.66L1754.00 530.67L1756.00 530.68L1758.00 530.68L1760.00 530.69L1762.00 530.70L1764.00 530.70L1766.00 530.70L1768.00 530.70L1770.00 530.70L1772.00 530.69L1774.00 530.69L1776.00 530.68L1778.00 530.67L1780.00 530.65L1782.00 530.64L1784.00 530.62L1786.00 530.61L1788.00 530.59L1790.00 530.57L1792.00 530.54L1794.00 530.52L1796.00 530.49L1798.00 530.47L1800.00 530.44L1802.00 530.41L1804.00 530.38L1806.00 530.35L1808.00 530.32L1810.00 530.29L1812.00 530.25L1814.00 530.22L1816.00 530.19L1818.00 530.15L1820.00 530.12L1822.00 530.08L1824.00 530.04L1826.00 530.01L1828.00 529.97L1830.00 529.94L1832.00 529.90L1834.00 529.86L1836.00 529.81L1838.00 529.77L1840.00 529.72L1842.00 529.67L1844.00 529.61L1846.00 529.55L1848.00 529.49L1850.00 529.43L1852.00 529.37L1854.00 529.30L1856.00 529.23L1858.00 529.16L1860.00 529.09L1862.00 529.01L1864.00 528.94L1866.00 528.86L1868.00 528.78L1870.00 528.70L1872.00 528.62L1874.00 528.53L1876.00 528.45L1878.00 528.36L1880.00 528.28L1882.00 528.19L1884.00 528.10L1886.00 528.02L1888.00 527.93L1890.00 527.84L1892.00 527.75L1894.00 527.66L1896.00 527.57L1898.00 527.48L1900.00 527.39L1902.00 527.30L1904.00 527.21L1906.00 527.12L1908.00 527.02L1910.00 526.93L1912.00 526.83L1914.00 526.73L1916.00 526.63L1918.00 526.53L1920.00 526.42L1922.00 526.32L1924.00 526.21L1926.00 526.10L1928.00 525.99L1930.00 525.88L1932.00 525.77L1934.00 525.66L1936.00 525.54L1938.00 525.43L1940.00 525.31L1942.00 525.20L1944.00 525.08L1946.00 524.96L1948.00 524.84L1950.00 524.71L1952.00 524.59L1954.00 524.47L1956.00 524.34L1958.00 524.22L1960.00 524.09L1962.00 523.96L1964.00 523.83L1966.00 523.70L1968.00 523.57L1970.00 523.44L1972.00 523.31L1974.00 523.18L1976.00 523.05L1978.00 522.91L1980.00 522.78L1982.00 522.64L1984.00 522.51L1986.00 522.37L1988.00 522.23L1990.00 522.10L1992.00 521.96L1994.00 521.82L1996.00 521.68L1998.00 521.54L2000.00 521.40L2002.00 521.26L2004.00 521.11L2006.00 520.96L2008.00 520.81L2010.00 520.66L2012.00 520.50L2014.00 520.34L2016.00 520.19L2018.00 520.02L2020.00 519.86L2022.00 519.70L2024.00 519.53L2026.00 519.37L2028.00 519.20L2030.00 519.03L2032.00 518.87L2034.00 518.70L2036.00 518.53L2038.00 518.36L2040.00 518.19L2042.00 518.02L2044.00 517.85L2046.00 517.68L2048.00 517.51L2050.00 517.34L2052.00 517.17L2054.00 517.00L2056.00 516.82L2058.00 516.64L2060.00 516.46L2062.00 516.28L2064.00 516.10L2066.00 515.92L2068.00 515.75L2070.00 515.58L2072.00 515.42L2074.00 515.26L2076.00 515.10L2078.00 514.93L2080.00 514.74L2082.00 514.57L2084.00 514.43L2086.00 514.33L2088.00 514.29L2090.00 514.33L2092.00 514.44L2094.00 514.61L2096.00 514.81L2098.00 515.03L2100.00 515.24L2102.00 515.44L2104.00 515.62L2106.00 515.81L2108.00 516.00L2110.00 516.20L2112.00 516.41L2114.00 516.61L2116.00 516.81L2118.00 517.02L2120.00 517.22L2122.00 517.41L2124.00 517.61L2126.00 517.81L2128.00 518.01L2130.00 518.20L2132.00 518.40L2134.00 518.60L2136.00 518.80L2138.00 518.99L2140.00 519.19L2142.00 519.39L2144.00 519.58L2146.00 519.78L2148.00 519.98L2150.00 520.17L2152.00 520.37L2154.00 520.57L2156.00 520.77L2158.00 520.96L2160.00 521.16L2162.00 521.36L2164.00 521.55L2166.00 521.75L2168.00 521.95L2170.00 522.14L2172.00 522.34L2174.00 522.54L2176.00 522.73L2178.00 522.93L2180.00 523.13L2182.00 523.32L2184.00 523.52L2186.00 523.72L2188.00 523.91L2190.00 524.11L2192.00 524.31L2194.00 524.50L2196.00 524.70L2198.00 524.90L2200.00 525.09L2202.00 525.29L2204.00 525.49L2206.00 525.68L2208.00 525.88L2210.00 526.08L2212.00 526.27L2214.00 526.47L2216.00 526.67L2218.00 526.86L2220.00 527.06L2222.00 527.25L2224.00 527.45L2226.00 527.65" fill="none" stroke="#ffff00" stroke-width="10" stroke-linejoin="round" stroke-dasharray="9.4 7.04" stroke-dashoffset="11.60"/>
<path d="M213.00 514.60L213.00 187.30" fill="none" stroke="#008000" stroke-width="10" stroke-linejoin="round" stroke-dasharray="9.4 7.04" stroke-dashoffset="0.00"/>
<path d="M214.00 187.30L214.00 189.30L214.00 191.30L214.00 193.30L214.00 195.30L214.00 197.30L214.00 199.30L214.01 201.30L214.01 203.30L214.01 205.30L214.01 207.30L214.01 209.30L214.02 211.30L214.02 213.30L214.02 215.30L214.03 217.30L214.03 219.30L214.03 221.30L214.04 223.30L214.04 225.30L214.05 227.30L214.05 229.30L214.05 231.30L214.06 233.30L214.06 235.30L214.07 237.30L214.07 239.30L214.08 241.30L214.09 243.30L214.09 245.30L214.10 247.30L214.10 249.30L214.11 251.30L214.12 253.30L214.12 255.30L214.13 257.30L214.14 259.30L214.14 261.30L214.15 263.30L214.16 265.30L214.17 267.30L214.17 269.30L214.18 271.30L214.19 273.30L214.20 275.30L214.20 277.30L214.21 279.30L214.22 281.30L214.23 283.30L214.24 285.30L214.24 287.30L214.25 289.30L214.26 291.30L214.27 293.30L214.28 295.30L214.29 297.30L214.30 299.30L214.31 301.30L214.32 303.30L214.33 305.30L214.34 307.30L214.35 309.30L214.36 311.30L214.38 313.30L214.39 315.30L214.41 317.30L214.43 319.30L214.44 321.30L214.46 323.30L214.48 325.30L214.50 327.30L214.52 329.30L214.54 331.30L214.56 333.30L214.59 335.30L214.61 337.30L214.63 339.30L214.66 341.30L214.68 343.30L214.71 345.30L214.74 347.30L214.76 349.30L214.79 351.30L214.82 353.30L214.85 355.30L214.88 357.30L214.90 359.30L214.93 361.30L214.97 363.30L215.00 365.30L215.03 367.30L215.06 369.30L215.09 371.30L215.13 373.30L215.16 375.30L215.19 377.30L215.23 379.30L215.26 381.30L215.30 383.29L215.33 385.29L215.37 387.29L215.40 389.29L215.44 391.29L215.48 393.29L215.51 395.29L215.55 397.29L215.59 399.29L215.62 401.29L215.66 403.29L215.70 405.29L215.75 407.29L215.79 409.29L215.83 411.29L215.88 413.29L215.93 415.29L215.98 417.29L216.03 419.29L216.08 421.29L216.13 423.29L216.19 425.29L216.25 427.29L216.31 429.29L216.36 431.28L216.43 433.28L216.49 435.28L216.55 437.28L216.62 439.28L216.69 441.28L216.76 443.28L216.83 445.28L216.90 447.28L216.97 449.28L217.05 451.27L217.13 453.27L217.21 455.27L217.29 457.27L217.37 459.27L217.45 461.26L217.54 463.26L217.62 465.26L217.71 467.26L217.81 469.27L217.90 471.27L218.00 473.27L218.11 475.27L218.22 477.28L218.34 479.28L218.46 481.28L218.60 483.27L218.74 485.27L218.90 487.26L219.06 489.25L219.23 491.23L219.42 493.21L219.62 495.19L219.85 497.20L220.11 499.23L220.43 501.27L220.80 503.29L221.23 505.27L221.73 507.17L222.31 508.98L223.10 510.68L224.34 512.27L225.79 513.78L226.00 514.00" fill="none" stroke="#008000" stroke-width="10" stroke-linejoin="round" stroke-dasharray="9.4 7.04" stroke-dashoffset="1.50"/>
<path d="M226.00 514.00L228.00 514.03L230.00 514.06L232.00 514.09L234.00 514.12L236.00 514.15L238.00 514.19L240.00 514.22L242.00 514.25L244.00 514.29L246.00 514.32L248.00 514.36L250.00 514.40L252.00 514.44L254.00 514.48L256.00 514.52L258.00 514.56L260.00 514.61L262.00 514.65L264.00 514.70L266.00 514.75L268.00 514.79L270.00 514.84L272.00 514.89L274.00 514.94L276.00 514.99L278.00 515.04L280.00 515.09L282.00 515.14L284.00 515.20L286.00 515.25L288.00 515.30L290.00 515.35L292.00 515.40L294.00 515.45L296.00 515.50L298.00 515.55L300.00 515.60L302.00 515.65L304.00 515.70L306.00 515.74L308.00 515.79L310.00 515.83L312.00 515.88L314.00 515.93L316.00 515.97L318.00 516.02L320.00 516.06L322.00 516.11L324.00 516.16L326.00 516.21L328.00 516.26L330.00 516.31L332.00 516.37L334.00 516.42L336.00 516.48L338.00 516.54L340.00 516.60L342.00 516.66L344.00 516.73L346.00 516.80L348.00 516.88L350.00 516.96L352.00 517.04L354.00 517.12L356.00 517.20L358.00 517.29L360.00 517.38L362.00 517.47L364.00 517.56L366.00 517.65L368.00 517.75L370.00 517.85L372.00 517.94L374.00 518.04L376.00 518.14L378.00 518.24L380.00 518.34L382.00 518.43L384.00 518.53L386.00 518.63L388.00 518.73L390.00 518.83L392.00 518.92L394.00 519.02L396.00 519.11L398.00 519.21L400.00 519.30L402.00 519.39L404.00 519.49L406.00 519.58L408.00 519.68L410.00 519.77L412.00 519.87L414.00 519.97L416.00 520.07L418.00 520.16L420.00 520.26L422.00 520.36L424.00 520.46L426.00 520.55L428.00 520.65L430.00 520.75L432.00 520.84L434.00 520.93L436.00 521.02L438.00 521.11L440.00 521.20L442.00 521.28L444.00 521.37L446.00 521.45L448.00 521.53L450.00 521.60L452.00 521.67L454.00 521.75L456.00 521.83L458.00 521.91L460.00 521.99L462.00 522.07L464.00 522.15L466.00 522.23L468.00 522.30L470.00 522.38L472.00 522.45L474.00 522.51L476.00 522.57L478.00 522.63L480.00 522.68L482.00 522.72L484.00 522.75L486.00 522.78L488.00 522.79L490.00 522.80L492.00 522.81L494.00 522.82L496.00 522.82L498.00 522.83L500.00 522.84L502.00 522.84L504.00 522.85L506.00 522.85L508.00 522.86L510.00 522.86L512.00 522.87L514.00 522.87L516.00 522.88L518.00 522.88L520.00 522.88L522.00 522.89L524.00 522.89L526.00 522.89L528.00 522.89L530.00 522.90L532.00 522.90L534.00 522.90L536.00 522.90L538.00 522.90L540.00 522.90L542.00 522.90L544.00 522.90L546.00 522.89L548.00 522.88L550.00 522.86L552.00 522.84L554.00 522.82L556.00 522.79L558.00 522.77L560.00 522.74L562.00 522.70L564.00 522.67L566.00 522.63L568.00 522.59L570.00 522.55L572.00 522.50L574.00 522.46L576.00 522.41L578.00 522.36L580.00 522.31L582.00 522.26L584.00 522.21L586.00 522.16L588.00 522.11L590.00 522.06L592.00 522.01L594.00 521.95L596.00 521.90L598.00 521.85L600.00 521.80L602.00 521.75L604.00 521.69L606.00 521.64L608.00 521.58L610.00 521.51L612.00 521.45L614.00 521.38L616.00 521.31L618.00 521.24L620.00 521.17L622.00 521.09L624.00 521.02L626.00 520.94L628.00 520.86L630.00 520.78L632.00 520.70L634.00 520.61L636.00 520.53L638.00 520.44L640.00 520.35L642.00 520.26L644.00 520.17L646.00 520.08L648.00 519.99L650.00 519.90L652.00 519.81L654.00 519.71L656.00 519.61L658.00 519.50L660.00 519.40L662.00 519.29L664.00 519.17L666.00 519.06L668.00 518.94L670.00 518.82L672.00 518.70L674.00 518.58L676.00 518.46L678.00 518.34L680.00 518.21L682.00 518.09L684.00 517.96L686.00 517.84L688.00 517.72L690.00 517.59L692.00 517.47L694.00 517.35L696.00 517.23L698.00 517.12L700.00 517.00L702.00 516.89L704.00 516.77L706.00 516.66L708.00 516.54L710.00 516.43L712.00 516.31L714.00 516.20L716.00 516.08L718.00 515.97L720.00 515.86L722.00 515.75L724.00 515.63L726.00 515.52L728.00 515.41L730.00 515.30L732.00 515.19L734.00 515.07L736.00 514.95L738.00 514.83L740.00 514.71L742.00 514.59L744.00 514.47L746.00 514.35L748.00 514.24L750.00 514.13L752.00 514.03L754.00 513.93L756.00 513.84L758.00 513.77L760.00 513.70L762.00 513.64L764.00 513.57L766.00 513.51L768.00 513.46L770.00 513.42L772.00 513.40L774.00 513.40L776.00 513.42L778.00 513.46L780.00 513.51L782.00 513.57L784.00 513.64L786.00 513.73L788.00 513.81L790.00 513.90" fill="none" stroke="#008000" stroke-width="10" stroke-linejoin="round" stroke-dasharray="9.4 7.04" stroke-dashoffset="3.17"/>
<path d="M790.00 513.90L792.00 514.01L794.00 514.16L796.00 514.35L798.00 514.55L800.00 514.77L802.00 514.99L804.00 515.21L806.00 515.42L808.00 515.60L810.00 515.77L812.00 515.93L814.00 516.09L816.00 516.26L818.00 516.41L820.00 516.57L822.00 516.73L824.00 516.88L826.00 517.03L828.00 517.18L830.00 517.33L832.00 517.48L834.00 517.62L836.00 517.76L838.00 517.91L840.00 518.05L842.00 518.19L844.00 518.33L846.00 518.46L848.00 518.60L850.00 518.74L852.00 518.87L854.00 519.00L856.00 519.14L858.00 519.27L860.00 519.40L862.00 519.53L864.00 519.66L866.00 519.79L868.00 519.92L870.00 520.05L872.00 520.18L874.00 520.31L876.00 520.44L878.00 520.56L880.00 520.69L882.00 520.81L884.00 520.93L886.00 521.05L888.00 521.16L890.00 521.28L892.00 521.39L894.00 521.50L896.00 521.60L898.00 521.70L900.00 521.80L902.00 521.90L904.00 521.99L906.00 522.09L908.00 522.18L910.00 522.27L912.00 522.37L914.00 522.46L916.00 522.55L918.00 522.64L920.00 522.73L922.00 522.82L924.00 522.91L926.00 522.99L928.00 523.08L930.00 523.17L932.00 523.25L934.00 523.34L936.00 523.42L938.00 523.50L940.00 523.58L942.00 523.67L944.00 523.75L946.00 523.83L948.00 523.90L950.00 523.98L952.00 524.06L954.00 524.13L956.00 524.21L958.00 524.28L960.00 524.36L962.00 524.43L964.00 524.50L966.00 524.57L968.00 524.64L970.00 524.71L972.00 524.77L974.00 524.84L976.00 524.90L978.00 524.97L980.00 525.03L982.00 525.09L984.00 525.15L986.00 525.21L988.00 525.27L990.00 525.33L992.00 525.39L994.00 525.44L996.00 525.50L998.00 525.55L1000.00 525.60L1002.00 525.65L1004.00 525.70L1006.00 525.76L1008.00 525.81L1010.00 525.86L1012.00 525.91L1014.00 525.96L1016.00 526.01L1018.00 526.07L1020.00 526.12L1022.00 526.17L1024.00 526.21L1026.00 526.26L1028.00 526.31L1030.00 526.35L1032.00 526.40L1034.00 526.44L1036.00 526.48L1038.00 526.52L1040.00 526.56L1042.00 526.59L1044.00 526.63L1046.00 526.66L1048.00 526.69L1050.00 526.71L1052.00 526.73L1054.00 526.76L1056.00 526.77L1058.00 526.79L1060.00 526.80L1062.00 526.81L1064.00 526.82L1066.00 526.83L1068.00 526.84L1070.00 526.85L1072.00 526.86L1074.00 526.87L1076.00 526.88L1078.00 526.88L1080.00 526.89L1082.00 526.90L1084.00 526.91L1086.00 526.91L1088.00 526.92L1090.00 526.93L1092.00 526.94L1094.00 526.94L1096.00 526.95L1098.00 526.95L1100.00 526.96L1102.00 526.96L1104.00 526.97L1106.00 526.97L1108.00 526.98L1110.00 526.98L1112.00 526.98L1114.00 526.99L1116.00 526.99L1118.00 526.99L1120.00 527.00L1122.00 527.00L1124.00 527.00L1126.00 527.00L1128.00 527.00L1130.00 527.00L1132.00 527.00L1134.00 527.00L1136.00 526.99L1138.00 526.99L1140.00 526.98L1142.00 526.97L1144.00 526.96L1146.00 526.95L1148.00 526.94L1150.00 526.92L1152.00 526.91L1154.00 526.89L1156.00 526.87L1158.00 526.85L1160.00 526.83L1162.00 526.81L1164.00 526.79L1166.00 526.77L1168.00 526.74L1170.00 526.72L1172.00 526.70L1174.00 526.67L1176.00 526.64L1178.00 526.62L1180.00 526.59L1182.00 526.56L1184.00 526.53L1186.00 526.51L1188.00 526.48L1190.00 526.45L1192.00 526.42L1194.00 526.39L1196.00 526.36L1198.00 526.33L1200.00 526.30L1202.00 526.27L1204.00 526.24L1206.00 526.20L1208.00 526.16L1210.00 526.12L1212.00 526.08L1214.00 526.03L1216.00 525.99L1218.00 525.94L1220.00 525.89L1222.00 525.84L1224.00 525.78L1226.00 525.73L1228.00 525.67L1230.00 525.62L1232.00 525.56L1234.00 525.50L1236.00 525.44L1238.00 525.38L1240.00 525.32L1242.00 525.25L1244.00 525.19L1246.00 525.13L1248.00 525.06L1250.00 525.00L1252.00 524.94L1254.00 524.87L1256.00 524.80L1258.00 524.73L1260.00 524.66L1262.00 524.59L1264.00 524.52L1266.00 524.45L1268.00 524.38L1270.00 524.30L1272.00 524.22L1274.00 524.15L1276.00 524.07L1278.00 523.99L1280.00 523.91L1282.00 523.83L1284.00 523.74L1286.00 523.66L1288.00 523.58L1290.00 523.49L1292.00 523.40L1294.00 523.32L1296.00 523.23L1298.00 523.14L1300.00 523.05L1302.00 522.96L1304.00 522.86L1306.00 522.77L1308.00 522.67L1310.00 522.58L1312.00 522.48L1314.00 522.39L1316.00 522.29L1318.00 522.19L1320.00 522.09L1322.00 521.99L1324.00 521.89L1326.00 521.79L1328.00 521.68L1330.00 521.58L1332.00 521.47L1334.00 521.37L1336.00 521.26L1338.00 521.16L1340.00 521.05L1342.00 520.94L1344.00 520.83L1346.00 520.72L1348.00 520.61L1350.00 520.50L1352.00 520.39L1354.00 520.27L1356.00 520.15L1358.00 520.03L1360.00 519.90L1362.00 519.78L1364.00 519.65L1366.00 519.51L1368.00 519.38L1370.00 519.24L1372.00 519.10L1374.00 518.96L1376.00 518.82L1378.00 518.68L1380.00 518.54L1382.00 518.39L1384.00 518.24L1386.00 518.10L1388.00 517.95L1390.00 517.80L1392.00 517.65L1394.00 517.50L1396.00 517.35L1398.00 517.20L1400.00 517.05L1402.00 516.89L1404.00 516.73L1406.00 516.57L1408.00 516.41L1410.00 516.24L1412.00 516.08L1414.00 515.91L1416.00 515.74L1418.00 515.58L1420.00 515.41L1422.00 515.24L1424.00 515.08L1426.00 514.92L1428.00 514.76L1430.00 514.60L1432.00 514.43L1434.00 514.24L1436.00 514.04L1438.00 513.84L1440.00 513.67L1442.00 513.53L1444.00 513.43L1446.00 513.40" fill="none" stroke="#008000" stroke-width="10" stroke-linejoin="round" stroke-dasharray="9.4 7.04" stroke-dashoffset="11.38"/>
<path d="M1446.00 513.40L1448.00 513.43L1450.00 513.50L1452.00 513.61L1454.00 513.75L1456.00 513.91L1458.00 514.08L1460.00 514.25L1462.00 514.40L1464.00 514.56L1466.00 514.73L1468.00 514.91L1470.00 515.09L1472.00 515.29L1474.00 515.48L1476.00 515.66L1478.00 515.84L1480.00 516.00L1482.00 516.15L1484.00 516.31L1486.00 516.46L1488.00 516.61L1490.00 516.76L1492.00 516.91L1494.00 517.05L1496.00 517.20L1498.00 517.34L1500.00 517.48L1502.00 517.62L1504.00 517.76L1506.00 517.90L1508.00 518.04L1510.00 518.17L1512.00 518.31L1514.00 518.44L1516.00 518.57L1518.00 518.70L1520.00 518.83L1522.00 518.95L1524.00 519.08L1526.00 519.20L1528.00 519.33L1530.00 519.45L1532.00 519.57L1534.00 519.69L1536.00 519.81L1538.00 519.92L1540.00 520.04L1542.00 520.15L1544.00 520.27L1546.00 520.38L1548.00 520.49L1550.00 520.60L1552.00 520.71L1554.00 520.82L1556.00 520.93L1558.00 521.04L1560.00 521.14L1562.00 521.25L1564.00 521.36L1566.00 521.47L1568.00 521.58L1570.00 521.68L1572.00 521.79L1574.00 521.89L1576.00 522.00L1578.00 522.10L1580.00 522.21L1582.00 522.31L1584.00 522.42L1586.00 522.52L1588.00 522.62L1590.00 522.72L1592.00 522.82L1594.00 522.92L1596.00 523.02L1598.00 523.11L1600.00 523.21L1602.00 523.30L1604.00 523.40L1606.00 523.49L1608.00 523.58L1610.00 523.67L1612.00 523.76L1614.00 523.85L1616.00 523.94L1618.00 524.03L1620.00 524.11L1622.00 524.19L1624.00 524.28L1626.00 524.36L1628.00 524.44L1630.00 524.51L1632.00 524.59L1634.00 524.66L1636.00 524.74L1638.00 524.81L1640.00 524.88L1642.00 524.95L1644.00 525.01L1646.00 525.08L1648.00 525.14L1650.00 525.20L1652.00 525.26L1654.00 525.32L1656.00 525.38L1658.00 525.44L1660.00 525.50L1662.00 525.56L1664.00 525.62L1666.00 525.68L1668.00 525.74L1670.00 525.79L1672.00 525.85L1674.00 525.91L1676.00 525.96L1678.00 526.02L1680.00 526.07L1682.00 526.13L1684.00 526.18L1686.00 526.23L1688.00 526.28L1690.00 526.32L1692.00 526.37L1694.00 526.41L1696.00 526.46L1698.00 526.50L1700.00 526.53L1702.00 526.57L1704.00 526.61L1706.00 526.64L1708.00 526.67L1710.00 526.70L1712.00 526.72L1714.00 526.75L1716.00 526.77L1718.00 526.78L1720.00 526.80L1722.00 526.81L1724.00 526.83L1726.00 526.84L1728.00 526.85L1730.00 526.87L1732.00 526.88L1734.00 526.89L1736.00 526.90L1738.00 526.91L1740.00 526.92L1742.00 526.93L1744.00 526.94L1746.00 526.95L1748.00 526.96L1750.00 526.97L1752.00 526.97L1754.00 526.98L1756.00 526.99L1758.00 526.99L1760.00 526.99L1762.00 527.00L1764.00 527.00L1766.00 527.00L1768.00 527.00L1770.00 527.00L1772.00 526.99L1774.00 526.99L1776.00 526.98L1778.00 526.97L1780.00 526.96L1782.00 526.95L1784.00 526.94L1786.00 526.93L1788.00 526.91L1790.00 526.89L1792.00 526.88L1794.00 526.86L1796.00 526.84L1798.00 526.82L1800.00 526.80L1802.00 526.77L1804.00 526.75L1806.00 526.73L1808.00 526.70L1810.00 526.67L1812.00 526.65L1814.00 526.62L1816.00 526.60L1818.00 526.57L1820.00 526.54L1822.00 526.51L1824.00 526.48L1826.00 526.46L1828.00 526.43L1830.00 526.40L1832.00 526.37L1834.00 526.34L1836.00 526.30L1838.00 526.27L1840.00 526.23L1842.00 526.19L1844.00 526.14L1846.00 526.10L1848.00 526.05L1850.00 526.00L1852.00 525.95L1854.00 525.90L1856.00 525.84L1858.00 525.79L1860.00 525.73L1862.00 525.67L1864.00 525.61L1866.00 525.55L1868.00 525.49L1870.00 525.43L1872.00 525.36L1874.00 525.30L1876.00 525.23L1878.00 525.16L1880.00 525.10L1882.00 525.03L1884.00 524.96L1886.00 524.89L1888.00 524.82L1890.00 524.75L1892.00 524.68L1894.00 524.61L1896.00 524.54L1898.00 524.47L1900.00 524.40L1902.00 524.33L1904.00 524.26L1906.00 524.18L1908.00 524.11L1910.00 524.03L1912.00 523.96L1914.00 523.88L1916.00 523.80L1918.00 523.72L1920.00 523.64L1922.00 523.55L1924.00 523.47L1926.00 523.39L1928.00 523.30L1930.00 523.21L1932.00 523.13L1934.00 523.04L1936.00 522.95L1938.00 522.86L1940.00 522.77L1942.00 522.67L1944.00 522.58L1946.00 522.48L1948.00 522.39L1950.00 522.29L1952.00 522.20L1954.00 522.10L1956.00 522.00L1958.00 521.90L1960.00 521.80L1962.00 521.70L1964.00 521.60L1966.00 521.50L1968.00 521.40L1970.00 521.29L1972.00 521.19L1974.00 521.09L1976.00 520.98L1978.00 520.88L1980.00 520.77L1982.00 520.67L1984.00 520.56L1986.00 520.45L1988.00 520.34L1990.00 520.24L1992.00 520.13L1994.00 520.02L1996.00 519.91L1998.00 519.80L2000.00 519.69L2002.00 519.58L2004.00 519.46L2006.00 519.34L2008.00 519.23L2010.00 519.11L2012.00 518.98L2014.00 518.86L2016.00 518.73L2018.00 518.61L2020.00 518.48L2022.00 518.35L2024.00 518.22L2026.00 518.09L2028.00 517.96L2030.00 517.83L2032.00 517.70L2034.00 517.56L2036.00 517.43L2038.00 517.30L2040.00 517.16L2042.00 517.03L2044.00 516.90L2046.00 516.76L2048.00 516.63L2050.00 516.50L2052.00 516.37L2054.00 516.23L2056.00 516.09L2058.00 515.95L2060.00 515.81L2062.00 515.66L2064.00 515.52L2066.00 515.38L2068.00 515.25L2070.00 515.11L2072.00 514.98L2074.00 514.86L2076.00 514.74L2078.00 514.60L2080.00 514.46L2082.00 514.32L2084.00 514.21L2086.00 514.13L2088.00 514.10L2090.00 514.13L2092.00 514.22L2094.00 514.35L2096.00 514.51L2098.00 514.68L2100.00 514.85L2102.00 515.00L2104.00 515.14L2106.00 515.29L2108.00 515.45L2110.00 515.60L2112.00 515.76L2114.00 515.92L2116.00 516.08L2118.00 516.24L2120.00 516.40L2122.00 516.56L2124.00 516.71L2126.00 516.87L2128.00 517.02L2130.00 517.18L2132.00 517.33L2134.00 517.49L2136.00 517.64L2138.00 517.80L2140.00 517.95L2142.00 518.11L2144.00 518.26L2146.00 518.42L2148.00 518.57L2150.00 518.73L2152.00 518.88L2154.00 519.04L2156.00 519.19L2158.00 519.35L2160.00 519.50L2162.00 519.65L2164.00 519.81L2166.00 519.96L2168.00 520.12L2170.00 520.27L2172.00 520.43L2174.00 520.58L2176.00 520.74L2178.00 520.89L2180.00 521.05L2182.00 521.20L2184.00 521.36L2186.00 521.51L2188.00 521.67L2190.00 521.82L2192.00 521.97L2194.00 522.13L2196.00 522.28L2198.00 522.44L2200.00 522.59L2202.00 522.75L2204.00 522.90L2206.00 523.06L2208.00 523.21L2210.00 523.37L2212.00 523.52L2214.00 523.67L2216.00 523.83L2218.00 523.98L2220.00 524.14L2222.00 524.29L2224.00 524.45L2226.00 524.60" fill="none" stroke="#008000" stroke-width="10" stroke-linejoin="round" stroke-dasharray="9.4 7.04" stroke-dashoffset="12.83"/>
<path d="M213.00 514.60L213.00 187.30" fill="none" stroke="#d9b3ff" stroke-width="10" stroke-linejoin="round" stroke-dasharray="9.4 7.04" stroke-dashoffset="0.00"/>
<path d="M214.00 187.30L214.00 189.30L214.00 191.30L214.00 193.30L214.00 195.30L214.00 197.30L214.00 199.30L214.01 201.30L214.01 203.30L214.01 205.30L214.01 207.30L214.01 209.30L214.02 211.30L214.02 213.30L214.02 215.30L214.03 217.30L214.03 219.30L214.03 221.30L214.04 223.30L214.04 225.30L214.05 227.30L214.05 229.30L214.05 231.30L214.06 233.30L214.06 235.30L214.07 237.30L214.07 239.30L214.08 241.30L214.09 243.30L214.09 245.30L214.10 247.30L214.10 249.30L214.11 251.30L214.12 253.30L214.12 255.30L214.13 257.30L214.14 259.30L214.14 261.30L214.15 263.30L214.16 265.30L214.17 267.30L214.17 269.30L214.18 271.30L214.19 273.30L214.20 275.30L214.20 277.30L214.21 279.30L214.22 281.30L214.23 283.30L214.24 285.30L214.24 287.30L214.25 289.30L214.26 291.30L214.27 293.30L214.28 295.30L214.29 297.30L214.30 299.30L214.31 301.30L214.32 303.30L214.33 305.30L214.34 307.30L214.35 309.30L214.36 311.30L214.38 313.30L214.39 315.30L214.41 317.30L214.43 319.30L214.44 321.30L214.46 323.30L214.48 325.30L214.50 327.30L214.52 329.30L214.54 331.30L214.56 333.30L214.59 335.30L214.61 337.30L214.63 339.30L214.66 341.30L214.68 343.30L214.71 345.30L214.74 347.30L214.76 349.30L214.79 351.30L214.82 353.30L214.85 355.30L214.88 357.30L214.90 359.30L214.93 361.30L214.97 363.30L215.00 365.30L215.03 367.30L215.06 369.30L215.09 371.30L215.13 373.30L215.16 375.30L215.19 377.30L215.23 379.30L215.26 381.30L215.30 383.29L215.33 385.29L215.37 387.29L215.40 389.29L215.44 391.29L215.48 393.29L215.51 395.29L215.55 397.29L215.59 399.29L215.62 401.29L215.66 403.29L215.70 405.29L215.75 407.29L215.79 409.29L215.83 411.29L215.88 413.29L215.93 415.29L215.98 417.29L216.03 419.29L216.08 421.29L216.13 423.29L216.19 425.29L216.25 427.29L216.31 429.29L216.36 431.28L216.43 433.28L216.49 435.28L216.55 437.28L216.62 439.28L216.69 441.28L216.76 443.28L216.83 445.28L216.90 447.28L216.97 449.28L217.05 451.27L217.13 453.27L217.21 455.27L217.29 457.27L217.37 459.27L217.45 461.26L217.54 463.26L217.62 465.26L217.71 467.26L217.81 469.27L217.90 471.27L218.00 473.27L218.11 475.27L218.22 477.28L218.34 479.28L218.46 481.28L218.60 483.27L218.74 485.27L218.90 487.26L219.06 489.25L219.23 491.23L219.42 493.21L219.62 495.19L219.85 497.20L220.11 499.23L220.43 501.27L220.80 503.29L221.23 505.27L221.73 507.17L222.31 508.98L223.10 510.68L224.34 512.27L225.79 513.78L226.00 514.00" fill="none" stroke="#d9b3ff" stroke-width="10" stroke-linejoin="round" stroke-dasharray="9.4 7.04" stroke-dashoffset="1.50"/>
<path d="M226.00 514.00L228.00 514.03L230.00 514.06L232.00 514.09L234.00 514.12L236.00 514.15L238.00 514.19L240.00 514.22L242.00 514.25L244.00 514.29L246.00 514.32L248.00 514.36L250.00 514.40L252.00 514.44L254.00 514.48L256.00 514.52L258.00 514.56L260.00 514.61L262.00 514.65L264.00 514.70L266.00 514.75L268.00 514.79L270.00 514.84L272.00 514.89L274.00 514.94L276.00 514.99L278.00 515.04L280.00 515.09L282.00 515.14L284.00 515.20L286.00 515.25L288.00 515.30L290.00 515.35L292.00 515.40L294.00 515.45L296.00 515.50L298.00 515.55L300.00 515.60L302.00 515.65L304.00 515.70L306.00 515.74L308.00 515.79L310.00 515.83L312.00 515.88L314.00 515.93L316.00 515.97L318.00 516.02L320.00 516.06L322.00 516.11L324.00 516.16L326.00 516.21L328.00 516.26L330.00 516.31L332.00 516.37L334.00 516.42L336.00 516.48L338.00 516.54L340.00 516.60L342.00 516.66L344.00 516.73L346.00 516.80L348.00 516.88L350.00 516.96L352.00 517.04L354.00 517.12L356.00 517.20L358.00 517.29L360.00 517.38L362.00 517.47L364.00 517.56L366.00 517.65L368.00 517.75L370.00 517.85L372.00 517.94L374.00 518.04L376.00 518.14L378.00 518.24L380.00 518.34L382.00 518.43L384.00 518.53L386.00 518.63L388.00 518.73L390.00 518.83L392.00 518.92L394.00 519.02L396.00 519.11L398.00 519.21L400.00 519.30L402.00 519.39L404.00 519.49L406.00 519.58L408.00 519.68L410.00 519.77L412.00 519.87L414.00 519.97L416.00 520.07L418.00 520.16L420.00 520.26L422.00 520.36L424.00 520.46L426.00 520.55L428.00 520.65L430.00 520.75L432.00 520.84L434.00 520.93L436.00 521.02L438.00 521.11L440.00 521.20L442.00 521.28L444.00 521.37L446.00 521.45L448.00 521.53L450.00 521.60L452.00 521.67L454.00 521.75L456.00 521.83L458.00 521.91L460.00 521.99L462.00 522.07L464.00 522.15L466.00 522.23L468.00 522.30L470.00 522.38L472.00 522.45L474.00 522.51L476.00 522.57L478.00 522.63L480.00 522.68L482.00 522.72L484.00 522.75L486.00 522.78L488.00 522.79L490.00 522.80L492.00 522.81L494.00 522.82L496.00 522.82L498.00 522.83L500.00 522.84L502.00 522.84L504.00 522.85L506.00 522.85L508.00 522.86L510.00 522.86L512.00 522.87L514.00 522.87L516.00 522.88L518.00 522.88L520.00 522.88L522.00 522.89L524.00 522.89L526.00 522.89L528.00 522.89L530.00 522.90L532.00 522.90L534.00 522.90L536.00 522.90L538.00 522.90L540.00 522.90L542.00 522.90L544.00 522.90L546.00 522.89L548.00 522.88L550.00 522.86L552.00 522.84L554.00 522.82L556.00 522.79L558.00 522.77L560.00 522.74L562.00 522.70L564.00 522.67L566.00 522.63L568.00 522.59L570.00 522.55L572.00 522.50L574.00 522.46L576.00 522.41L578.00 522.36L580.00 522.31L582.00 522.26L584.00 522.21L586.00 522.16L588.00 522.11L590.00 522.06L592.00 522.01L594.00 521.95L596.00 521.90L598.00 521.85L600.00 521.80L602.00 521.75L604.00 521.69L606.00 521.64L608.00 521.58L610.00 521.51L612.00 521.45L614.00 521.38L616.00 521.31L618.00 521.24L620.00 521.17L622.00 521.09L624.00 521.02L626.00 520.94L628.00 520.86L630.00 520.78L632.00 520.70L634.00 520.61L636.00 520.53L638.00 520.44L640.00 520.35L642.00 520.26L644.00 520.17L646.00 520.08L648.00 519.99L650.00 519.90L652.00 519.81L654.00 519.71L656.00 519.61L658.00 519.50L660.00 519.40L662.00 519.29L664.00 519.17L666.00 519.06L668.00 518.94L670.00 518.82L672.00 518.70L674.00 518.58L676.00 518.46L678.00 518.34L680.00 518.21L682.00 518.09L684.00 517.96L686.00 517.84L688.00 517.72L690.00 517.59L692.00 517.47L694.00 517.35L696.00 517.23L698.00 517.12L700.00 517.00L702.00 516.89L704.00 516.77L706.00 516.66L708.00 516.54L710.00 516.43L712.00 516.31L714.00 516.20L716.00 516.08L718.00 515.97L720.00 515.86L722.00 515.75L724.00 515.63L726.00 515.52L728.00 515.41L730.00 515.30L732.00 515.19L734.00 515.07L736.00 514.95L738.00 514.83L740.00 514.71L742.00 514.59L744.00 514.47L746.00 514.35L748.00 514.24L750.00 514.13L752.00 514.03L754.00 513.93L756.00 513.84L758.00 513.77L760.00 513.70L762.00 513.64L764.00 513.57L766.00 513.51L768.00 513.46L770.00 513.42L772.00 513.40L774.00 513.40L776.00 513.42L778.00 513.46L780.00 513.51L782.00 513.57L784.00 513.64L786.00 513.73L788.00 513.81L790.00 513.90" fill="none" stroke="#d9b3ff" stroke-width="10" stroke-linejoin="round" stroke-dasharray="9.4 7.04" stroke-dashoffset="6.87"/>
<path d="M790.00 513.90L792.00 514.01L794.00 514.16L796.00 514.35L798.00 514.55L800.00 514.77L802.00 514.99L804.00 515.21L806.00 515.42L808.00 515.60L810.00 515.77L812.00 515.93L814.00 516.09L816.00 516.26L818.00 516.41L820.00 516.57L822.00 516.73L824.00 516.88L826.00 517.03L828.00 517.18L830.00 517.33L832.00 517.48L834.00 517.62L836.00 517.76L838.00 517.91L840.00 518.05L842.00 518.19L844.00 518.33L846.00 518.46L848.00 518.60L850.00 518.74L852.00 518.87L854.00 519.00L856.00 519.14L858.00 519.27L860.00 519.40L862.00 519.53L864.00 519.66L866.00 519.79L868.00 519.92L870.00 520.05L872.00 520.18L874.00 520.31L876.00 520.44L878.00 520.56L880.00 520.69L882.00 520.81L884.00 520.93L886.00 521.05L888.00 521.16L890.00 521.28L892.00 521.39L894.00 521.50L896.00 521.60L898.00 521.70L900.00 521.80L902.00 521.90L904.00 521.99L906.00 522.09L908.00 522.18L910.00 522.27L912.00 522.37L914.00 522.46L916.00 522.55L918.00 522.64L920.00 522.73L922.00 522.82L924.00 522.91L926.00 522.99L928.00 523.08L930.00 523.17L932.00 523.25L934.00 523.34L936.00 523.42L938.00 523.50L940.00 523.58L942.00 523.67L944.00 523.75L946.00 523.83L948.00 523.90L950.00 523.98L952.00 524.06L954.00 524.13L956.00 524.21L958.00 524.28L960.00 524.36L962.00 524.43L964.00 524.50L966.00 524.57L968.00 524.64L970.00 524.71L972.00 524.77L974.00 524.84L976.00 524.90L978.00 524.97L980.00 525.03L982.00 525.09L984.00 525.15L986.00 525.21L988.00 525.27L990.00 525.33L992.00 525.39L994.00 525.44L996.00 525.50L998.00 525.55L1000.00 525.60L1002.00 525.65L1004.00 525.70L1006.00 525.76L1008.00 525.81L1010.00 525.86L1012.00 525.91L1014.00 525.96L1016.00 526.01L1018.00 526.07L1020.00 526.12L1022.00 526.17L1024.00 526.21L1026.00 526.26L1028.00 526.31L1030.00 526.35L1032.00 526.40L1034.00 526.44L1036.00 526.48L1038.00 526.52L1040.00 526.56L1042.00 526.59L1044.00 526.63L1046.00 526.66L1048.00 526.69L1050.00 526.71L1052.00 526.73L1054.00 526.76L1056.00 526.77L1058.00 526.79L1060.00 526.80L1062.00 526.81L1064.00 526.82L1066.00 526.83L1068.00 526.84L1070.00 526.85L1072.00 526.86L1074.00 526.87L1076.00 526.88L1078.00 526.88L1080.00 526.89L1082.00 526.90L1084.00 526.91L1086.00 526.91L1088.00 526.92L1090.00 526.93L1092.00 526.94L1094.00 526.94L1096.00 526.95L1098.00 526.95L1100.00 526.96L1102.00 526.96L1104.00 526.97L1106.00 526.97L1108.00 526.98L1110.00 526.98L1112.00 526.98L1114.00 526.99L1116.00 526.99L1118.00 526.99L1120.00 527.00L1122.00 527.00L1124.00 527.00L1126.00 527.00L1128.00 527.00L1130.00 527.00L1132.00 527.00L1134.00 527.00L1136.00 526.99L1138.00 526.99L1140.00 526.98L1142.00 526.97L1144.00 526.96L1146.00 526.95L1148.00 526.94L1150.00 526.92L1152.00 526.91L1154.00 526.89L1156.00 526.87L1158.00 526.85L1160.00 526.83L1162.00 526.81L1164.00 526.79L1166.00 526.77L1168.00 526.74L1170.00 526.72L1172.00 526.70L1174.00 526.67L1176.00 526.64L1178.00 526.62L1180.00 526.59L1182.00 526.56L1184.00 526.53L1186.00 526.51L1188.00 526.48L1190.00 526.45L1192.00 526.42L1194.00 526.39L1196.00 526.36L1198.00 526.33L1200.00 526.30L1202.00 526.27L1204.00 526.24L1206.00 526.20L1208.00 526.16L1210.00 526.12L1212.00 526.08L1214.00 526.03L1216.00 525.99L1218.00 525.94L1220.00 525.89L1222.00 525.84L1224.00 525.78L1226.00 525.73L1228.00 525.67L1230.00 525.62L1232.00 525.56L1234.00 525.50L1236.00 525.44L1238.00 525.38L1240.00 525.32L1242.00 525.25L1244.00 525.19L1246.00 525.13L1248.00 525.06L1250.00 525.00L1252.00 524.94L1254.00 524.87L1256.00 524.80L1258.00 524.73L1260.00 524.66L1262.00 524.59L1264.00 524.52L1266.00 524.45L1268.00 524.38L1270.00 524.30L1272.00 524.22L1274.00 524.15L1276.00 524.07L1278.00 523.99L1280.00 523.91L1282.00 523.83L1284.00 523.74L1286.00 523.66L1288.00 523.58L1290.00 523.49L1292.00 523.40L1294.00 523.32L1296.00 523.23L1298.00 523.14L1300.00 523.05L1302.00 522.96L1304.00 522.86L1306.00 522.77L1308.00 522.67L1310.00 522.58L1312.00 522.48L1314.00 522.39L1316.00 522.29L1318.00 522.19L1320.00 522.09L1322.00 521.99L1324.00 521.89L1326.00 521.79L1328.00 521.68L1330.00 521.58L1332.00 521.47L1334.00 521.37L1336.00 521.26L1338.00 521.16L1340.00 521.05L1342.00 520.94L1344.00 520.83L1346.00 520.72L1348.00 520.61L1350.00 520.50L1352.00 520.39L1354.00 520.27L1356.00 520.15L1358.00 520.03L1360.00 519.90L1362.00 519.78L1364.00 519.65L1366.00 519.51L1368.00 519.38L1370.00 519.24L1372.00 519.10L1374.00 518.96L1376.00 518.82L1378.00 518.68L1380.00 518.54L1382.00 518.39L1384.00 518.24L1386.00 518.10L1388.00 517.95L1390.00 517.80L1392.00 517.65L1394.00 517.50L1396.00 517.35L1398.00 517.20L1400.00 517.05L1402.00 516.89L1404.00 516.73L1406.00 516.57L1408.00 516.41L1410.00 516.24L1412.00 516.08L1414.00 515.91L1416.00 515.74L1418.00 515.58L1420.00 515.41L1422.00 515.24L1424.00 515.08L1426.00 514.92L1428.00 514.76L1430.00 514.60L1432.00 514.43L1434.00 514.24L1436.00 514.04L1438.00 513.84L1440.00 513.67L1442.00 513.53L1444.00 513.43L1446.00 513.40" fill="none" stroke="#d9b3ff" stroke-width="10" stroke-linejoin="round" stroke-dasharray="9.4 7.04" stroke-dashoffset="13.88"/>
<path d="M1446.00 513.40L1448.00 513.43L1450.00 513.50L1452.00 513.61L1454.00 513.75L1456.00 513.91L1458.00 514.08L1460.00 514.25L1462.00 514.40L1464.00 514.56L1466.00 514.73L1468.00 514.91L1470.00 515.09L1472.00 515.29L1474.00 515.48L1476.00 515.66L1478.00 515.84L1480.00 516.00L1482.00 516.15L1484.00 516.31L1486.00 516.46L1488.00 516.61L1490.00 516.76L1492.00 516.91L1494.00 517.05L1496.00 517.20L1498.00 517.34L1500.00 517.48L1502.00 517.62L1504.00 517.76L1506.00 517.90L1508.00 518.04L1510.00 518.17L1512.00 518.31L1514.00 518.44L1516.00 518.57L1518.00 518.70L1520.00 518.83L1522.00 518.95L1524.00 519.08L1526.00 519.20L1528.00 519.33L1530.00 519.45L1532.00 519.57L1534.00 519.69L1536.00 519.81L1538.00 519.92L1540.00 520.04L1542.00 520.15L1544.00 520.27L1546.00 520.38L1548.00 520.49L1550.00 520.60L1552.00 520.71L1554.00 520.82L1556.00 520.93L1558.00 521.04L1560.00 521.14L1562.00 521.25L1564.00 521.36L1566.00 521.47L1568.00 521.58L1570.00 521.68L1572.00 521.79L1574.00 521.89L1576.00 522.00L1578.00 522.10L1580.00 522.21L1582.00 522.31L1584.00 522.42L1586.00 522.52L1588.00 522.62L1590.00 522.72L1592.00 522.82L1594.00 522.92L1596.00 523.02L1598.00 523.11L1600.00 523.21L1602.00 523.30L1604.00 523.40L1606.00 523.49L1608.00 523.58L1610.00 523.67L1612.00 523.76L1614.00 523.85L1616.00 523.94L1618.00 524.03L1620.00 524.11L1622.00 524.19L1624.00 524.28L1626.00 524.36L1628.00 524.44L1630.00 524.51L1632.00 524.59L1634.00 524.66L1636.00 524.74L1638.00 524.81L1640.00 524.88L1642.00 524.95L1644.00 525.01L1646.00 525.08L1648.00 525.14L1650.00 525.20L1652.00 525.26L1654.00 525.32L1656.00 525.38L1658.00 525.44L1660.00 525.50L1662.00 525.56L1664.00 525.62L1666.00 525.68L1668.00 525.74L1670.00 525.79L1672.00 525.85L1674.00 525.91L1676.00 525.96L1678.00 526.02L1680.00 526.07L1682.00 526.13L1684.00 526.18L1686.00 526.23L1688.00 526.28L1690.00 526.32L1692.00 526.37L1694.00 526.41L1696.00 526.46L1698.00 526.50L1700.00 526.53L1702.00 526.57L1704.00 526.61L1706.00 526.64L1708.00 526.67L1710.00 526.70L1712.00 526.72L1714.00 526.75L1716.00 526.77L1718.00 526.78L1720.00 526.80L1722.00 526.81L1724.00 526.83L1726.00 526.84L1728.00 526.85L1730.00 526.87L1732.00 526.88L1734.00 526.89L1736.00 526.90L1738.00 526.91L1740.00 526.92L1742.00 526.93L1744.00 526.94L1746.00 526.95L1748.00 526.96L1750.00 526.97L1752.00 526.97L1754.00 526.98L1756.00 526.99L1758.00 526.99L1760.00 526.99L1762.00 527.00L1764.00 527.00L1766.00 527.00L1768.00 527.00L1770.00 527.00L1772.00 526.99L1774.00 526.99L1776.00 526.98L1778.00 526.97L1780.00 526.96L1782.00 526.95L1784.00 526.94L1786.00 526.93L1788.00 526.91L1790.00 526.89L1792.00 526.88L1794.00 526.86L1796.00 526.84L1798.00 526.82L1800.00 526.80L1802.00 526.77L1804.00 526.75L1806.00 526.73L1808.00 526.70L1810.00 526.67L1812.00 526.65L1814.00 526.62L1816.00 526.60L1818.00 526.57L1820.00 526.54L1822.00 526.51L1824.00 526.48L1826.00 526.46L1828.00 526.43L1830.00 526.40L1832.00 526.37L1834.00 526.34L1836.00 526.30L1838.00 526.27L1840.00 526.23L1842.00 526.19L1844.00 526.14L1846.00 526.10L1848.00 526.05L1850.00 526.00L1852.00 525.95L1854.00 525.90L1856.00 525.84L1858.00 525.79L1860.00 525.73L1862.00 525.67L1864.00 525.61L1866.00 525.55L1868.00 525.49L1870.00 525.43L1872.00 525.36L1874.00 525.30L1876.00 525.23L1878.00 525.16L1880.00 525.10L1882.00 525.03L1884.00 524.96L1886.00 524.89L1888.00 524.82L1890.00 524.75L1892.00 524.68L1894.00 524.61L1896.00 524.54L1898.00 524.47L1900.00 524.40L1902.00 524.33L1904.00 524.26L1906.00 524.18L1908.00 524.11L1910.00 524.03L1912.00 523.96L1914.00 523.88L1916.00 523.80L1918.00 523.72L1920.00 523.64L1922.00 523.55L1924.00 523.47L1926.00 523.39L1928.00 523.30L1930.00 523.21L1932.00 523.13L1934.00 523.04L1936.00 522.95L1938.00 522.86L1940.00 522.77L1942.00 522.67L1944.00 522.58L1946.00 522.48L1948.00 522.39L1950.00 522.29L1952.00 522.20L1954.00 522.10L1956.00 522.00L1958.00 521.90L1960.00 521.80L1962.00 521.70L1964.00 521.60L1966.00 521.50L1968.00 521.40L1970.00 521.29L1972.00 521.19L1974.00 521.09L1976.00 520.98L1978.00 520.88L1980.00 520.77L1982.00 520.67L1984.00 520.56L1986.00 520.45L1988.00 520.34L1990.00 520.24L1992.00 520.13L1994.00 520.02L1996.00 519.91L1998.00 519.80L2000.00 519.69L2002.00 519.58L2004.00 519.46L2006.00 519.34L2008.00 519.23L2010.00 519.11L2012.00 518.98L2014.00 518.86L2016.00 518.73L2018.00 518.61L2020.00 518.48L2022.00 518.35L2024.00 518.22L2026.00 518.09L2028.00 517.96L2030.00 517.83L2032.00 517.70L2034.00 517.56L2036.00 517.43L2038.00 517.30L2040.00 517.16L2042.00 517.03L2044.00 516.90L2046.00 516.76L2048.00 516.63L2050.00 516.50L2052.00 516.37L2054.00 516.23L2056.00 516.09L2058.00 515.95L2060.00 515.81L2062.00 515.66L2064.00 515.52L2066.00 515.38L2068.00 515.25L2070.00 515.11L2072.00 514.98L2074.00 514.86L2076.00 514.74L2078.00 514.60L2080.00 514.46L2082.00 514.32L2084.00 514.21L2086.00 514.13L2088.00 514.10L2090.00 514.13L2092.00 514.22L2094.00 514.35L2096.00 514.51L2098.00 514.68L2100.00 514.85L2102.00 515.00L2104.00 515.14L2106.00 515.29L2108.00 515.45L2110.00 515.60L2112.00 515.76L2114.00 515.92L2116.00 516.08L2118.00 516.24L2120.00 516.40L2122.00 516.56L2124.00 516.71L2126.00 516.87L2128.00 517.02L2130.00 517.18L2132.00 517.33L2134.00 517.49L2136.00 517.64L2138.00 517.80L2140.00 517.95L2142.00 518.11L2144.00 518.26L2146.00 518.42L2148.00 518.57L2150.00 518.73L2152.00 518.88L2154.00 519.04L2156.00 519.19L2158.00 519.35L2160.00 519.50L2162.00 519.65L2164.00 519.81L2166.00 519.96L2168.00 520.12L2170.00 520.27L2172.00 520.43L2174.00 520.58L2176.00 520.74L2178.00 520.89L2180.00 521.05L2182.00 521.20L2184.00 521.36L2186.00 521.51L2188.00 521.67L2190.00 521.82L2192.00 521.97L2194.00 522.13L2196.00 522.28L2198.00 522.44L2200.00 522.59L2202.00 522.75L2204.00 522.90L2206.00 523.06L2208.00 523.21L2210.00 523.37L2212.00 523.52L2214.00 523.67L2216.00 523.83L2218.00 523.98L2220.00 524.14L2222.00 524.29L2224.00 524.45L2226.00 524.60" fill="none" stroke="#d9b3ff" stroke-width="10" stroke-linejoin="round" stroke-dasharray="9.4 7.04" stroke-dashoffset="15.43"/>
<path d="M208 819H2231V829H208ZM208 1358H2231V1368H208ZM208 819H218V1368H208ZM2221 819H2231V1368H2221ZM409 819H419V849H409ZM409 1337H419V1368H409ZM611 819H621V849H611ZM611 1337H621V1368H611ZM812 819H822V849H812ZM812 1337H822V1368H812ZM1013 819H1023V849H1013ZM1013 1337H1023V1368H1013ZM1214 819H1224V849H1214ZM1214 1337H1224V1368H1214ZM1416 819H1426V849H1416ZM1416 1337H1426V1368H1416ZM1617 819H1627V849H1617ZM1617 1337H1627V1368H1617ZM1818 819H1828V849H1818ZM1818 1337H1828V1368H1818ZM2020 819H2030V849H2020ZM2020 1337H2030V1368H2020ZM208 848H238V858H208ZM2201 848H2231V858H2201ZM208 965H238V975H208ZM2201 965H2231V975H2201ZM208 1083H238V1093H208ZM2201 1083H2231V1093H2201ZM208 1200H238V1210H208ZM2201 1200H2231V1210H2201ZM208 1317H238V1327H208ZM2201 1317H2231V1327H2201Z" fill="#262626"/>
<path d="M213.00 824.00L215.20 824.30L216.50 825.03L217.38 826.71L218.03 828.93L218.51 831.07L218.87 833.01L219.15 834.98L219.38 836.98L219.61 838.98L219.85 840.98L220.15 842.96L220.48 844.93L220.82 846.90L221.18 848.87L221.55 850.83L221.92 852.80L222.29 854.76L222.65 856.73L223.00 858.70L223.34 860.67L223.68 862.64L224.02 864.61L224.36 866.58L224.70 868.55L225.03 870.53L225.37 872.50L225.70 874.47L226.04 876.44L226.37 878.41L226.70 880.39L227.03 882.36L227.36 884.33L227.69 886.30L228.01 888.28L228.34 890.25L228.67 892.22L228.99 894.20L229.32 896.17L229.64 898.14L229.97 900.12L230.29 902.09L230.61 904.07L230.94 906.04L231.26 908.01L231.59 909.99L231.91 911.96L232.23 913.93L232.56 915.91L232.88 917.88L233.20 919.85L233.53 921.83L233.85 923.80L234.18 925.78L234.50 927.75L234.83 929.72L235.15 931.70L235.48 933.67L235.81 935.64L236.14 937.61L236.46 939.59L236.79 941.56L237.11 943.53L237.44 945.51L237.76 947.48L238.08 949.46L238.40 951.43L238.72 953.41L239.04 955.38L239.36 957.35L239.68 959.33L240.00 961.30L240.32 963.28L240.64 965.25L240.96 967.23L241.27 969.20L241.59 971.18L241.91 973.15L242.23 975.13L242.55 977.10L242.88 979.08L243.20 981.05L243.52 983.02L243.85 985.00L244.17 986.97L244.50 988.94L244.83 990.92L245.16 992.89L245.49 994.86L245.82 996.83L246.16 998.81L246.49 1000.78L246.83 1002.75L247.18 1004.72L247.52 1006.69L247.87 1008.66L248.21 1010.62L248.57 1012.59L248.92 1014.56L249.28 1016.53L249.64 1018.49L250.01 1020.46L250.38 1022.42L250.75 1024.39L251.13 1026.35L251.51 1028.31L251.90 1030.28L252.29 1032.24L252.68 1034.20L253.07 1036.16L253.47 1038.12L253.86 1040.08L254.26 1042.04L254.66 1044.00L255.07 1045.96L255.47 1047.92L255.87 1049.88L256.28 1051.84L256.68 1053.80L257.09 1055.76L257.49 1057.72L257.89 1059.67L258.30 1061.63L258.70 1063.59L259.10 1065.55L259.50 1067.51L259.89 1069.47L260.29 1071.44L260.68 1073.40L261.07 1075.36L261.45 1077.32L261.83 1079.28L262.21 1081.25L262.59 1083.21L262.96 1085.18L263.33 1087.14L263.70 1089.11L264.07 1091.07L264.43 1093.04L264.79 1095.01L265.15 1096.97L265.51 1098.94L265.87 1100.91L266.23 1102.88L266.58 1104.85L266.93 1106.82L267.29 1108.78L267.64 1110.75L267.99 1112.72L268.34 1114.69L268.69 1116.66L269.04 1118.63L269.39 1120.60L269.74 1122.57L270.09 1124.54L270.44 1126.51L270.79 1128.48L271.14 1130.45L271.49 1132.42L271.85 1134.39L272.20 1136.35L272.55 1138.32L272.91 1140.29L273.27 1142.26L273.62 1144.23L273.98 1146.19L274.35 1148.16L274.71 1150.13L275.07 1152.09L275.44 1154.06L275.81 1156.02L276.18 1157.99L276.56 1159.95L276.93 1161.92L277.31 1163.88L277.70 1165.84L278.08 1167.81L278.47 1169.77L278.86 1171.73L279.25 1173.69L279.64 1175.65L280.04 1177.61L280.43 1179.57L280.83 1181.53L281.23 1183.49L281.63 1185.45L282.04 1187.41L282.44 1189.37L282.85 1191.33L283.26 1193.29L283.67 1195.24L284.09 1197.20L284.50 1199.16L284.92 1201.11L285.35 1203.07L285.77 1205.02L286.20 1206.98L286.63 1208.93L287.06 1210.88L287.50 1212.83L287.94 1214.78L288.38 1216.73L288.82 1218.68L289.27 1220.63L289.71 1222.58L290.15 1224.54L290.60 1226.49L291.04 1228.44L291.49 1230.40L291.93 1232.35L292.38 1234.30L292.84 1236.26L293.29 1238.21L293.75 1240.16L294.21 1242.11L294.68 1244.06L295.15 1246.01L295.63 1247.95L296.11 1249.89L296.60 1251.83L297.10 1253.77L297.60 1255.71L298.12 1257.64L298.64 1259.57L299.17 1261.49L299.70 1263.41L300.25 1265.33L300.81 1267.24L301.38 1269.15L301.96 1271.06L302.55 1272.97L303.14 1274.88L303.75 1276.81L304.36 1278.73L304.99 1280.65L305.63 1282.57L306.29 1284.48L306.96 1286.38L307.66 1288.28L308.37 1290.16L309.11 1292.03L309.87 1293.88L310.65 1295.71L311.46 1297.52L312.30 1299.30L313.17 1301.06L314.08 1302.81L315.04 1304.61L316.06 1306.42L317.15 1308.21L318.30 1309.95L319.52 1311.57L320.81 1313.06L322.17 1314.37L323.65 1315.53L325.35 1316.73L327.21 1317.78L329.12 1318.50L331.02 1318.70L332.91 1318.67L334.84 1318.59L336.79 1318.48L338.77 1318.33L340.77 1318.16L342.78 1317.97L344.81 1317.76L346.84 1317.53L348.87 1317.30L350.90 1317.07L352.93 1316.84L354.94 1316.61L356.94 1316.40L358.93 1316.19L360.92 1315.98L362.91 1315.76L364.89 1315.54L366.88 1315.31L368.86 1315.07L370.85 1314.83L372.83 1314.58L374.82 1314.33L376.80 1314.08L378.79 1313.82L380.77 1313.56L382.75 1313.30L384.74 1313.03L386.72 1312.77L388.70 1312.50L390.68 1312.24L392.67 1311.97L394.65 1311.71L396.63 1311.44L398.62 1311.18L400.60 1310.92L402.58 1310.66L404.57 1310.41L406.55 1310.15L408.54 1309.91L410.52 1309.66L412.51 1309.42L414.49 1309.16L416.48 1308.90L418.46 1308.64L420.44 1308.37L422.43 1308.10L424.41 1307.82L426.40 1307.55L428.38 1307.28L430.37 1307.00L432.35 1306.73L434.34 1306.46L436.32 1306.20L438.31 1305.94L440.29 1305.69L442.28 1305.44L444.26 1305.20L446.25 1304.98L448.24 1304.76L450.22 1304.55L452.21 1304.35L454.20 1304.17L456.19 1304.00L458.18 1303.85L460.17 1303.71L462.17 1303.59L464.16 1303.48L466.15 1303.37L468.15 1303.26L470.14 1303.15L472.14 1303.04L474.14 1302.93L476.13 1302.83L478.13 1302.73L480.13 1302.63L482.13 1302.54L484.13 1302.44L486.13 1302.36L488.13 1302.27L490.13 1302.19L492.13 1302.11L494.13 1302.04L496.13 1301.98L498.13 1301.92L500.13 1301.86L502.13 1301.81L504.13 1301.77L506.13 1301.73L508.13 1301.70L510.13 1301.68L512.13 1301.67L514.13 1301.66L516.13 1301.66L518.13 1301.67L520.13 1301.69L522.13 1301.71L524.13 1301.74L526.13 1301.78L528.13 1301.82L530.13 1301.87L532.13 1301.92L534.13 1301.98L536.13 1302.04L538.13 1302.11L540.13 1302.18L542.13 1302.26L544.13 1302.34L546.13 1302.42L548.13 1302.51L550.13 1302.60L552.13 1302.69L554.13 1302.79L556.12 1302.89L558.12 1302.99L560.12 1303.09L562.11 1303.19L564.11 1303.29L566.10 1303.40L568.10 1303.50L570.09 1303.62L572.08 1303.76L574.07 1303.91L576.06 1304.07L578.05 1304.24L580.04 1304.43L582.03 1304.63L584.02 1304.84L586.01 1305.06L588.00 1305.28L589.98 1305.51L591.97 1305.75L593.96 1306.00L595.95 1306.25L597.93 1306.50L599.92 1306.75L601.90 1307.01L603.89 1307.26L605.88 1307.52L607.86 1307.77L609.85 1308.02L611.84 1308.27L613.82 1308.52L615.81 1308.76L617.80 1308.99L619.78 1309.22L621.77 1309.44L623.76 1309.66L625.75 1309.88L627.74 1310.10L629.72 1310.32L631.71 1310.54L633.70 1310.76L635.69 1310.98L637.68 1311.20L639.66 1311.42L641.65 1311.64L643.64 1311.86L645.63 1312.08L647.62 1312.31L649.60 1312.53L651.59 1312.76L653.58 1312.98L655.56 1313.21L657.55 1313.44L659.54 1313.68L661.52 1313.91L663.51 1314.15L665.49 1314.39L667.48 1314.63L669.46 1314.88L671.45 1315.12L673.43 1315.38L675.41 1315.64L677.40 1315.91L679.38 1316.18L681.36 1316.46L683.34 1316.74L685.32 1317.03L687.30 1317.33L689.27 1317.62L691.25 1317.92L693.23 1318.22L695.21 1318.52L697.19 1318.83L699.16 1319.13L701.14 1319.43L703.12 1319.73L705.10 1320.02L707.08 1320.31L709.06 1320.60L711.04 1320.89L713.02 1321.17L715.00 1321.44L716.98 1321.70L718.96 1321.96L720.95 1322.21L722.93 1322.45L724.92 1322.68L726.90 1322.92L728.89 1323.17L730.88 1323.42L732.86 1323.68L734.85 1323.94L736.84 1324.20L738.83 1324.46L740.82 1324.71L742.81 1324.96L744.80 1325.20L746.79 1325.42L748.78 1325.63L750.78 1325.83L752.77 1326.00L754.76 1326.15L756.75 1326.28L758.75 1326.38L760.74 1326.45L762.73 1326.49L764.73 1326.50L766.72 1326.45L768.72 1326.37L770.72 1326.25L772.71 1326.10L774.71 1325.93L776.71 1325.76L778.71 1325.58L780.71 1325.41L782.70 1325.26L784.70 1325.12L786.70 1325.02L788.69 1324.96L790.68 1324.94L792.67 1325.03L794.66 1325.21L796.65 1325.46L798.64 1325.74L800.62 1326.03L802.61 1326.28L804.60 1326.47L806.60 1326.60L808.59 1326.70L810.59 1326.80L812.59 1326.88L814.59 1326.95L816.59 1327.03L818.59 1327.10L820.59 1327.18L822.59 1327.27L824.58 1327.38L826.58 1327.50L828.57 1327.63L830.56 1327.78L832.55 1327.94L834.54 1328.12L836.52 1328.30L838.51 1328.50L840.50 1328.71L842.48 1328.93L844.47 1329.16L846.45 1329.39L848.43 1329.64L850.42 1329.89L852.40 1330.16L854.38 1330.43L856.36 1330.70L858.34 1330.98L860.32 1331.27L862.31 1331.56L864.29 1331.86L866.27 1332.16L868.25 1332.46L870.22 1332.77L872.20 1333.08L874.18 1333.39L876.16 1333.70L878.14 1334.01L880.12 1334.32L882.10 1334.63L884.08 1334.94L886.06 1335.25L888.04 1335.56L890.02 1335.86L892.00 1336.16L893.98 1336.46L895.96 1336.75L897.94 1337.04L899.92 1337.32L901.90 1337.60L903.89 1337.87L905.87 1338.14L907.85 1338.40L909.83 1338.66L911.82 1338.93L913.80 1339.19L915.78 1339.46L917.76 1339.72L919.75 1339.99L921.73 1340.25L923.71 1340.52L925.69 1340.78L927.68 1341.05L929.66 1341.32L931.64 1341.58L933.62 1341.85L935.60 1342.11L937.59 1342.38L939.57 1342.65L941.55 1342.91L943.53 1343.18L945.52 1343.45L947.50 1343.71L949.48 1343.98L951.46 1344.24L953.45 1344.51L955.43 1344.77L957.41 1345.04L959.39 1345.30L961.38 1345.56L963.36 1345.83L965.34 1346.09L967.32 1346.35L969.31 1346.61L971.29 1346.87L973.27 1347.14L975.26 1347.40L977.24 1347.66L979.22 1347.91L981.21 1348.17L983.19 1348.43L985.17 1348.69L987.16 1348.94L989.14 1349.20L991.12 1349.45L993.11 1349.70L995.09 1349.96L997.07 1350.21L999.06 1350.46L1001.04 1350.71L1003.03 1350.96L1005.01 1351.20L1007.00 1351.45L1008.98 1351.69L1010.97 1351.94L1012.95 1352.18L1014.94 1352.43L1016.92 1352.68L1018.91 1352.93L1020.89 1353.18L1022.88 1353.42L1024.86 1353.67L1026.85 1353.92L1028.83 1354.17L1030.82 1354.41L1032.80 1354.66L1034.79 1354.90L1036.77 1355.14L1038.76 1355.38L1040.75 1355.62L1042.73 1355.85L1044.72 1356.08L1046.71 1356.31L1048.69 1356.53L1050.68 1356.75L1052.67 1356.96L1054.66 1357.17L1056.65 1357.38L1058.64 1357.58L1060.63 1357.77L1062.62 1357.96L1064.61 1358.15L1066.60 1358.34L1068.59 1358.53L1070.58 1358.72L1072.57 1358.91L1074.56 1359.10L1076.56 1359.28L1078.55 1359.47L1080.54 1359.66L1082.53 1359.84L1084.53 1360.02L1086.52 1360.19L1088.52 1360.37L1090.51 1360.53L1092.50 1360.70L1094.50 1360.85L1096.49 1361.00L1098.49 1361.15L1100.49 1361.29L1102.48 1361.42L1104.48 1361.54L1106.47 1361.65L1108.47 1361.76L1110.47 1361.85L1112.46 1361.93L1114.46 1362.01L1116.46 1362.08L1118.45 1362.14L1120.45 1362.21L1122.45 1362.27L1124.45 1362.33L1126.45 1362.39L1128.45 1362.44L1130.45 1362.49L1132.45 1362.53L1134.45 1362.57L1136.45 1362.59L1138.45 1362.61L1140.45 1362.62L1142.45 1362.62L1144.45 1362.60L1146.45 1362.58L1148.45 1362.55L1150.45 1362.52L1152.45 1362.47L1154.45 1362.42L1156.45 1362.37L1158.45 1362.31L1160.45 1362.25L1162.45 1362.18L1164.45 1362.12L1166.45 1362.05L1168.44 1361.98L1170.44 1361.90L1172.44 1361.81L1174.43 1361.71L1176.43 1361.60L1178.43 1361.48L1180.42 1361.35L1182.42 1361.22L1184.42 1361.07L1186.41 1360.92L1188.41 1360.76L1190.40 1360.59L1192.40 1360.42L1194.39 1360.24L1196.39 1360.05L1198.38 1359.86L1200.37 1359.66L1202.37 1359.46L1204.36 1359.26L1206.35 1359.05L1208.34 1358.84L1210.33 1358.63L1212.31 1358.41L1214.30 1358.19L1216.29 1357.97L1218.27 1357.75L1220.25 1357.53L1222.24 1357.30L1224.22 1357.06L1226.20 1356.80L1228.18 1356.54L1230.16 1356.26L1232.14 1355.98L1234.12 1355.69L1236.09 1355.38L1238.07 1355.07L1240.05 1354.76L1242.02 1354.43L1244.00 1354.10L1245.97 1353.76L1247.94 1353.42L1249.91 1353.07L1251.89 1352.72L1253.86 1352.36L1255.83 1352.00L1257.80 1351.64L1259.76 1351.27L1261.73 1350.91L1263.70 1350.54L1265.67 1350.17L1267.63 1349.80L1269.60 1349.43L1271.56 1349.06L1273.53 1348.69L1275.49 1348.31L1277.45 1347.92L1279.41 1347.53L1281.37 1347.12L1283.32 1346.72L1285.28 1346.30L1287.23 1345.88L1289.19 1345.45L1291.14 1345.02L1293.09 1344.59L1295.05 1344.15L1297.00 1343.71L1298.95 1343.27L1300.90 1342.83L1302.85 1342.38L1304.80 1341.94L1306.75 1341.50L1308.70 1341.05L1310.66 1340.61L1312.61 1340.17L1314.56 1339.74L1316.51 1339.30L1318.47 1338.87L1320.42 1338.45L1322.38 1338.03L1324.33 1337.62L1326.29 1337.21L1328.25 1336.81L1330.22 1336.42L1332.18 1336.03L1334.15 1335.65L1336.11 1335.28L1338.08 1334.91L1340.05 1334.54L1342.02 1334.18L1344.00 1333.82L1345.97 1333.46L1347.94 1333.10L1349.91 1332.74L1351.89 1332.38L1353.86 1332.02L1355.83 1331.66L1357.80 1331.30L1359.77 1330.93L1361.74 1330.56L1363.70 1330.19L1365.67 1329.81L1367.63 1329.43L1369.60 1329.04L1371.55 1328.64L1373.51 1328.24L1375.47 1327.83L1377.42 1327.41L1379.37 1326.98L1381.31 1326.54L1383.25 1326.09L1385.19 1325.62L1387.13 1325.15L1389.06 1324.66L1390.98 1324.15L1392.89 1323.56L1394.79 1322.89L1396.68 1322.18L1398.57 1321.47L1400.47 1320.80L1402.37 1320.20L1404.29 1319.72L1406.23 1319.36L1408.18 1319.03L1410.14 1318.70L1412.11 1318.38L1414.08 1318.07L1416.07 1317.77L1418.06 1317.48L1420.05 1317.22L1422.05 1316.97L1424.05 1316.74L1426.06 1316.53L1428.06 1316.34L1430.06 1316.18L1432.07 1316.05L1434.07 1315.94L1436.07 1315.87L1438.06 1315.83L1440.05 1315.83L1442.04 1315.94L1444.03 1316.15L1446.02 1316.42L1448.01 1316.72L1450.00 1317.00L1451.99 1317.23L1453.98 1317.36L1455.97 1317.38L1457.97 1317.36L1459.96 1317.32L1461.95 1317.26L1463.95 1317.19L1465.95 1317.10L1467.94 1316.99L1469.94 1316.87L1471.93 1316.74L1473.93 1316.59L1475.93 1316.44L1477.92 1316.27L1479.92 1316.10L1481.92 1315.91L1483.91 1315.72L1485.91 1315.53L1487.91 1315.32L1489.90 1315.12L1491.89 1314.91L1493.89 1314.70L1495.88 1314.49L1497.87 1314.28L1499.86 1314.07L1501.85 1313.86L1503.84 1313.66L1505.83 1313.46L1507.81 1313.24L1509.80 1313.02L1511.78 1312.78L1513.76 1312.54L1515.74 1312.28L1517.72 1312.01L1519.70 1311.73L1521.68 1311.45L1523.66 1311.16L1525.64 1310.86L1527.62 1310.56L1529.60 1310.25L1531.57 1309.94L1533.55 1309.63L1535.53 1309.31L1537.50 1308.99L1539.48 1308.67L1541.45 1308.35L1543.43 1308.03L1545.41 1307.71L1547.38 1307.40L1549.36 1307.08L1551.34 1306.78L1553.32 1306.47L1555.29 1306.17L1557.27 1305.88L1559.25 1305.59L1561.23 1305.30L1563.21 1305.01L1565.19 1304.72L1567.17 1304.43L1569.15 1304.15L1571.13 1303.86L1573.11 1303.57L1575.08 1303.28L1577.06 1302.99L1579.04 1302.71L1581.02 1302.42L1583.00 1302.13L1584.98 1301.84L1586.96 1301.55L1588.94 1301.26L1590.92 1300.98L1592.90 1300.69L1594.88 1300.40L1596.85 1300.11L1598.83 1299.82L1600.81 1299.53L1602.79 1299.24L1604.77 1298.95L1606.75 1298.66L1608.73 1298.37L1610.71 1298.08L1612.68 1297.78L1614.66 1297.49L1616.64 1297.19L1618.62 1296.89L1620.60 1296.59L1622.57 1296.28L1624.55 1295.98L1626.53 1295.68L1628.50 1295.37L1630.48 1295.07L1632.46 1294.76L1634.43 1294.46L1636.41 1294.16L1638.39 1293.86L1640.37 1293.56L1642.34 1293.26L1644.32 1292.96L1646.30 1292.66L1648.28 1292.37L1650.26 1292.08L1652.24 1291.80L1654.22 1291.51L1656.20 1291.23L1658.18 1290.96L1660.16 1290.68L1662.14 1290.42L1664.12 1290.15L1666.10 1289.88L1668.08 1289.62L1670.07 1289.35L1672.05 1289.08L1674.03 1288.82L1676.02 1288.55L1678.00 1288.29L1679.98 1288.02L1681.97 1287.76L1683.95 1287.51L1685.94 1287.25L1687.92 1287.00L1689.91 1286.75L1691.89 1286.50L1693.88 1286.26L1695.86 1286.02L1697.85 1285.78L1699.84 1285.55L1701.82 1285.33L1703.81 1285.11L1705.80 1284.90L1707.79 1284.69L1709.78 1284.49L1711.77 1284.30L1713.76 1284.11L1715.75 1283.94L1717.74 1283.76L1719.73 1283.57L1721.72 1283.39L1723.71 1283.21L1725.71 1283.03L1727.70 1282.85L1729.69 1282.67L1731.69 1282.50L1733.68 1282.32L1735.67 1282.15L1737.67 1281.99L1739.66 1281.82L1741.66 1281.67L1743.66 1281.51L1745.65 1281.37L1747.65 1281.23L1749.64 1281.09L1751.64 1280.97L1753.64 1280.85L1755.63 1280.74L1757.63 1280.64L1759.63 1280.55L1761.63 1280.47L1763.62 1280.40L1765.62 1280.34L1767.62 1280.29L1769.62 1280.25L1771.62 1280.21L1773.62 1280.17L1775.62 1280.13L1777.62 1280.10L1779.62 1280.06L1781.62 1280.03L1783.62 1280.01L1785.62 1279.98L1787.62 1279.96L1789.62 1279.95L1791.62 1279.94L1793.62 1279.94L1795.62 1279.95L1797.62 1279.97L1799.62 1280.01L1801.62 1280.07L1803.62 1280.13L1805.62 1280.20L1807.62 1280.29L1809.62 1280.38L1811.62 1280.47L1813.61 1280.57L1815.61 1280.68L1817.61 1280.78L1819.60 1280.89L1821.59 1281.00L1823.59 1281.13L1825.58 1281.27L1827.57 1281.43L1829.56 1281.60L1831.55 1281.78L1833.54 1281.98L1835.53 1282.19L1837.52 1282.41L1839.51 1282.63L1841.49 1282.87L1843.48 1283.12L1845.47 1283.37L1847.45 1283.63L1849.44 1283.90L1851.42 1284.17L1853.41 1284.44L1855.39 1284.72L1857.38 1285.00L1859.36 1285.29L1861.34 1285.58L1863.32 1285.86L1865.30 1286.15L1867.28 1286.44L1869.26 1286.72L1871.24 1287.00L1873.22 1287.29L1875.20 1287.57L1877.17 1287.87L1879.15 1288.17L1881.12 1288.48L1883.10 1288.80L1885.07 1289.12L1887.04 1289.45L1889.01 1289.78L1890.99 1290.12L1892.96 1290.46L1894.93 1290.81L1896.90 1291.16L1898.87 1291.51L1900.83 1291.87L1902.80 1292.23L1904.77 1292.59L1906.74 1292.95L1908.71 1293.31L1910.68 1293.68L1912.64 1294.04L1914.61 1294.41L1916.58 1294.77L1918.55 1295.13L1920.51 1295.50L1922.48 1295.86L1924.45 1296.21L1926.41 1296.57L1928.38 1296.94L1930.35 1297.31L1932.31 1297.69L1934.28 1298.07L1936.24 1298.45L1938.20 1298.84L1940.16 1299.23L1942.13 1299.62L1944.09 1300.01L1946.05 1300.41L1948.01 1300.80L1949.97 1301.19L1951.94 1301.58L1953.90 1301.97L1955.86 1302.36L1957.82 1302.74L1959.79 1303.12L1961.75 1303.50L1963.72 1303.87L1965.68 1304.23L1967.65 1304.59L1969.62 1304.94L1971.59 1305.29L1973.56 1305.62L1975.53 1305.95L1977.50 1306.27L1979.48 1306.57L1981.46 1306.86L1983.44 1307.13L1985.43 1307.39L1987.41 1307.65L1989.40 1307.91L1991.38 1308.17L1993.37 1308.43L1995.35 1308.70L1997.33 1308.99L1999.30 1309.29L2001.27 1309.61L2003.24 1309.95L2005.20 1310.30L2007.16 1310.67L2009.12 1311.05L2011.08 1311.44L2013.04 1311.84L2015.00 1312.26L2016.95 1312.68L2018.90 1313.11L2020.85 1313.56L2022.81 1314.01L2024.75 1314.47L2026.70 1314.93L2028.65 1315.40L2030.59 1315.88L2032.54 1316.37L2034.48 1316.86L2036.42 1317.35L2038.36 1317.85L2040.30 1318.36L2042.24 1318.86L2044.18 1319.37L2046.11 1319.88L2048.05 1320.40L2049.98 1320.91L2051.91 1321.42L2053.84 1321.94L2055.77 1322.47L2057.69 1323.07L2059.60 1323.70L2061.51 1324.36L2063.41 1325.01L2065.32 1325.64L2067.24 1326.23L2069.16 1326.75L2071.09 1327.18L2073.04 1327.51L2075.01 1327.80L2076.99 1328.08L2078.99 1328.34L2080.99 1328.58L2082.99 1328.77L2084.99 1328.92L2086.98 1329.00L2088.97 1329.01L2090.95 1328.86L2092.92 1328.55L2094.89 1328.13L2096.86 1327.65L2098.83 1327.15L2100.79 1326.68L2102.76 1326.28L2104.74 1326.01L2106.71 1325.90L2108.69 1325.93L2110.67 1326.02L2112.66 1326.15L2114.65 1326.34L2116.64 1326.56L2118.63 1326.82L2120.62 1327.10L2122.61 1327.40L2124.60 1327.71L2126.58 1328.03L2128.57 1328.35L2130.55 1328.66L2132.53 1328.95L2134.51 1329.24L2136.48 1329.55L2138.45 1329.87L2140.42 1330.21L2142.39 1330.56L2144.36 1330.92L2146.33 1331.29L2148.29 1331.66L2150.26 1332.04L2152.23 1332.41L2154.19 1332.78L2156.16 1333.15L2158.13 1333.51L2160.10 1333.86L2162.07 1334.21L2164.04 1334.55L2166.01 1334.90L2167.98 1335.25L2169.95 1335.60L2171.91 1335.94L2173.88 1336.29L2175.85 1336.64L2177.82 1336.98L2179.79 1337.33L2181.76 1337.67L2183.73 1338.02L2185.70 1338.36L2187.67 1338.71L2189.64 1339.05L2191.61 1339.39L2193.58 1339.74L2195.56 1340.08L2197.53 1340.42L2199.50 1340.77L2201.47 1341.11L2203.44 1341.45L2205.41 1341.79L2207.38 1342.13L2209.35 1342.48L2211.32 1342.82L2213.29 1343.16L2215.26 1343.50L2217.23 1343.84L2219.20 1344.17L2221.17 1344.51L2223.15 1344.85L2225.12 1345.19L2226.00 1345.34" fill="none" stroke="#0000ff" stroke-width="10" stroke-linejoin="round"/>
<path d="M213.00 1323.20L214.00 900.00L214.30 845.00L216.30 829.00L216.62 829.95L216.93 830.91L217.23 831.86L217.53 832.82L217.83 833.78L218.11 834.74" fill="none" stroke="#ff0000" stroke-width="10" stroke-linejoin="round" stroke-dasharray="9.2 7.2" stroke-dashoffset="0.00"/>
<path d="M216.30 829.00L216.62 829.95L216.93 830.91L217.23 831.86L217.53 832.82L217.83 833.78L218.11 834.74L218.39 835.70L218.66 836.66L218.92 837.63L219.18 838.59L219.42 839.56L219.65 840.53L219.87 841.50L220.08 842.48L220.29 843.45L220.48 844.43L220.67 845.41L220.85 846.39L221.02 847.38L221.19 848.36L221.35 849.35L221.51 850.34L221.67 851.33L221.83 852.32L221.98 853.31L222.14 854.30L222.29 855.29L222.45 856.28L222.61 857.26L222.77 858.25L222.93 859.24L223.10 860.22L223.26 861.21L223.43 862.20L223.59 863.18L223.76 864.17L223.92 865.16L224.08 866.14L224.25 867.13L224.41 868.12L224.57 869.10L224.73 870.09L224.89 871.08L225.06 872.06L225.22 873.05L225.38 874.04L225.54 875.02L225.70 876.01L225.86 877.00L226.02 877.98L226.18 878.97L226.34 879.96L226.50 880.95L226.66 881.93L226.82 882.92L226.98 883.91L227.14 884.89L227.30 885.88L227.46 886.87L227.62 887.86L227.78 888.84L227.94 889.83L228.09 890.82L228.25 891.81L228.41 892.79L228.57 893.78L228.73 894.77L228.89 895.76L229.05 896.74L229.20 897.73L229.36 898.72L229.52 899.70L229.68 900.69L229.84 901.68L229.99 902.67L230.15 903.65L230.31 904.64L230.47 905.63L230.63 906.62L230.78 907.60L230.94 908.59L231.10 909.58L231.26 910.57L231.42 911.55L231.58 912.54L231.73 913.53L231.89 914.52L232.05 915.50L232.21 916.49L232.37 917.48L232.53 918.47L232.69 919.45L232.84 920.44L233.00 921.43L233.16 922.41L233.32 923.40L233.48 924.39L233.64 925.38L233.80 926.36L233.96 927.35L234.12 928.34L234.28 929.32L234.44 930.31L234.60 931.30L234.76 932.29L234.92 933.27L235.09 934.26L235.25 935.25L235.41 936.23L235.57 937.22L235.73 938.21L235.89 939.19L236.06 940.18L236.22 941.17L236.38 942.15L236.54 943.14L236.70 944.13L236.86 945.12L237.02 946.10L237.18 947.09L237.34 948.08L237.50 949.06L237.66 950.05L237.82 951.04L237.98 952.03L238.14 953.01L238.30 954.00L238.46 954.99L238.62 955.98L238.78 956.96L238.93 957.95L239.09 958.94L239.25 959.93L239.41 960.91L239.57 961.90L239.73 962.89L239.89 963.88L240.05 964.86L240.21 965.85L240.37 966.84L240.53 967.83L240.69 968.81L240.85 969.80L241.01 970.79L241.17 971.77L241.33 972.76L241.49 973.75L241.65 974.74L241.81 975.72L241.97 976.71L242.13 977.70L242.29 978.68L242.45 979.67L242.61 980.66L242.78 981.65L242.94 982.63L243.10 983.62L243.26 984.61L243.43 985.59L243.59 986.58L243.75 987.57L243.92 988.55L244.08 989.54L244.25 990.52L244.41 991.51L244.58 992.50L244.75 993.48L244.91 994.47L245.08 995.46L245.25 996.44L245.41 997.43L245.58 998.41L245.75 999.40L245.92 1000.38L246.09 1001.37L246.26 1002.35L246.43 1003.34L246.60 1004.32L246.78 1005.31L246.95 1006.29L247.12 1007.28L247.29 1008.26L247.47 1009.25L247.64 1010.23L247.82 1011.22L248.00 1012.20L248.17 1013.18L248.35 1014.17L248.53 1015.15L248.71 1016.13L248.89 1017.12L249.07 1018.10L249.25 1019.08L249.43 1020.07L249.62 1021.05L249.80 1022.03L249.99 1023.01L250.18 1024.00L250.36 1024.98L250.55 1025.96L250.74 1026.94L250.94 1027.92L251.13 1028.90L251.32 1029.88L251.51 1030.87L251.71 1031.85L251.90 1032.83L252.10 1033.81L252.29 1034.79L252.49 1035.77L252.69 1036.75L252.89 1037.73L253.09 1038.71L253.28 1039.69L253.48 1040.67L253.68 1041.65L253.88 1042.63L254.08 1043.61L254.29 1044.59L254.49 1045.57L254.69 1046.55L254.89 1047.53L255.09 1048.51L255.29 1049.49L255.50 1050.47L255.70 1051.45L255.90 1052.43L256.10 1053.41L256.30 1054.38L256.51 1055.36L256.71 1056.34L256.91 1057.32L257.11 1058.30L257.31 1059.28L257.52 1060.26L257.72 1061.24L257.92 1062.22L258.12 1063.20L258.32 1064.18L258.52 1065.16L258.72 1066.14L258.92 1067.12L259.12 1068.10L259.31 1069.08L259.51 1070.06L259.71 1071.04L259.90 1072.02L260.10 1073.00L260.29 1073.99L260.49 1074.97L260.68 1075.95L260.88 1076.93L261.07 1077.91L261.26 1078.89L261.45 1079.87L261.64 1080.86L261.83 1081.84L262.01 1082.82L262.20 1083.80L262.39 1084.78L262.57 1085.77L262.76 1086.75L262.94 1087.73L263.13 1088.72L263.31 1089.70L263.49 1090.68L263.68 1091.66L263.86 1092.65L264.04 1093.63L264.22 1094.61L264.40 1095.60L264.58 1096.58L264.76 1097.57L264.94 1098.55L265.12 1099.53L265.30 1100.52L265.48 1101.50L265.65 1102.49L265.83 1103.47L266.01 1104.45L266.19 1105.44L266.36 1106.42L266.54 1107.41L266.72 1108.39L266.89 1109.38L267.07 1110.36L267.24 1111.34L267.42 1112.33L267.60 1113.31L267.77 1114.30L267.95 1115.28L268.12 1116.27L268.30 1117.25L268.47 1118.24L268.65 1119.22L268.82 1120.21L269.00 1121.19L269.17 1122.18L269.35 1123.16L269.52 1124.15L269.70 1125.13L269.87 1126.12L270.05 1127.10L270.22 1128.08L270.40 1129.07L270.57 1130.05L270.75 1131.04L270.92 1132.02L271.10 1133.01L271.28 1133.99L271.45 1134.98L271.63 1135.96L271.81 1136.94L271.98 1137.93L272.16 1138.91L272.34 1139.90L272.52 1140.88L272.70 1141.87L272.87 1142.85L273.05 1143.83L273.23 1144.82L273.41 1145.80L273.59 1146.78L273.77 1147.77L273.95 1148.75L274.14 1149.73L274.32 1150.72L274.50 1151.70L274.68 1152.68L274.87 1153.67L275.05 1154.65L275.24 1155.63L275.42 1156.61L275.61 1157.60L275.79 1158.58L275.98 1159.56L276.17 1160.54L276.36 1161.53L276.55 1162.51L276.74 1163.49L276.93 1164.47L277.12 1165.45L277.31 1166.43L277.50 1167.41L277.70 1168.39L277.89 1169.37L278.09 1170.36L278.28 1171.34L278.48 1172.32L278.67 1173.30L278.87 1174.28L279.06 1175.26L279.26 1176.24L279.46 1177.22L279.65 1178.20L279.85 1179.18L280.05 1180.16L280.25 1181.14L280.45 1182.12L280.65 1183.10L280.85 1184.08L281.05 1185.06L281.25 1186.04L281.45 1187.02L281.66 1188.00L281.86 1188.98L282.06 1189.96L282.27 1190.94L282.47 1191.92L282.68 1192.90L282.88 1193.87L283.09 1194.85L283.30 1195.83L283.50 1196.81L283.71 1197.79L283.92 1198.77L284.13 1199.75L284.34 1200.72L284.55 1201.70L284.76 1202.68L284.97 1203.66L285.19 1204.63L285.40 1205.61L285.61 1206.59L285.83 1207.56L286.04 1208.54L286.26 1209.52L286.48 1210.49L286.69 1211.47L286.91 1212.44L287.13 1213.42L287.35 1214.39L287.57 1215.37L287.79 1216.34L288.01 1217.32L288.24 1218.29L288.46 1219.27L288.68 1220.24L288.90 1221.22L289.12 1222.19L289.34 1223.17L289.57 1224.15L289.79 1225.12L290.01 1226.10L290.23 1227.08L290.45 1228.05L290.67 1229.03L290.89 1230.01L291.12 1230.99L291.34 1231.96L291.56 1232.94L291.79 1233.92L292.01 1234.89L292.24 1235.87L292.46 1236.85L292.69 1237.82L292.92 1238.80L293.15 1239.78L293.38 1240.75L293.61 1241.73L293.84 1242.70L294.07 1243.68L294.31 1244.65L294.54 1245.62L294.78 1246.60L295.02 1247.57L295.26 1248.54L295.50 1249.51L295.75 1250.48L295.99 1251.45L296.24 1252.42L296.49 1253.39L296.74 1254.36L296.99 1255.33L297.24 1256.29L297.50 1257.26L297.76 1258.22L298.02 1259.19L298.28 1260.15L298.55 1261.11L298.82 1262.07L299.09 1263.03L299.36 1263.99L299.64 1264.95L299.91 1265.91L300.19 1266.86L300.48 1267.82L300.76 1268.77L301.05 1269.72L301.35 1270.67L301.64 1271.63L301.94 1272.58L302.23 1273.54L302.53 1274.50L302.84 1275.46L303.14 1276.42L303.45 1277.38L303.76 1278.34L304.07 1279.30L304.39 1280.26L304.71 1281.22L305.04 1282.18L305.37 1283.13L305.70 1284.09L306.04 1285.04L306.38 1286.00L306.73 1286.94L307.08 1287.89L307.43 1288.83L307.80 1289.77L308.16 1290.71L308.54 1291.64L308.92 1292.57L309.30 1293.49L309.70 1294.41L310.09 1295.32L310.50 1296.22L310.91 1297.12L311.33 1298.02L311.76 1298.91L312.19 1299.79L312.63 1300.66L313.08 1301.53L313.54 1302.39L314.02 1303.28L314.51 1304.17L315.02 1305.07L315.54 1305.97L316.08 1306.86L316.63 1307.75L317.20 1308.63L317.79 1309.49L318.39 1310.32L319.01 1311.13L319.65 1311.91L320.31 1312.64L320.98 1313.34L321.67 1314.00L322.38 1314.60L323.11 1315.15L323.89 1315.68L324.72 1316.18L325.59 1316.66L326.49 1317.11L327.43 1317.54L328.39 1317.93L329.37 1318.30L330.37 1318.63L330.60 1318.70" fill="none" stroke="#ff0000" stroke-width="10" stroke-linejoin="round" stroke-dasharray="9.4 7.04" stroke-dashoffset="7.14"/>
<path d="M330.60 1318.70L332.60 1318.55L334.60 1318.40L336.60 1318.25L338.60 1318.10L340.60 1317.94L342.60 1317.78L344.60 1317.62L346.60 1317.45L348.60 1317.28L350.60 1317.11L352.60 1316.94L354.60 1316.76L356.60 1316.59L358.60 1316.40L360.60 1316.22L362.60 1316.03L364.60 1315.83L366.60 1315.63L368.60 1315.43L370.60 1315.22L372.60 1315.01L374.60 1314.80L376.60 1314.59L378.60 1314.37L380.60 1314.15L382.60 1313.94L384.60 1313.72L386.60 1313.49L388.60 1313.27L390.60 1313.05L392.60 1312.83L394.60 1312.61L396.60 1312.39L398.60 1312.17L400.60 1311.95L402.60 1311.73L404.60 1311.52L406.60 1311.30L408.60 1311.09L410.60 1310.88L412.60 1310.67L414.60 1310.45L416.60 1310.22L418.60 1309.99L420.60 1309.76L422.60 1309.52L424.60 1309.29L426.60 1309.05L428.60 1308.81L430.60 1308.57L432.60 1308.33L434.60 1308.10L436.60 1307.87L438.60 1307.64L440.60 1307.42L442.60 1307.21L444.60 1307.00L446.60 1306.80L448.60 1306.61L450.60 1306.43L452.60 1306.26L454.60 1306.10L456.60 1305.95L458.60 1305.82L460.60 1305.70L462.60 1305.59L464.60 1305.49L466.60 1305.40L468.60 1305.30L470.60 1305.20L472.60 1305.11L474.60 1305.01L476.60 1304.92L478.60 1304.83L480.60 1304.75L482.60 1304.66L484.60 1304.58L486.60 1304.50L488.60 1304.43L490.60 1304.35L492.60 1304.29L494.60 1304.22L496.60 1304.17L498.60 1304.11L500.60 1304.07L502.60 1304.02L504.60 1303.99L506.60 1303.95L508.60 1303.93L510.60 1303.91L512.60 1303.90L514.60 1303.90L516.60 1303.90L518.60 1303.91L520.60 1303.92L522.60 1303.95L524.60 1303.97L526.60 1304.01L528.60 1304.05L530.60 1304.09L532.60 1304.14L534.60 1304.19L536.60 1304.25L538.60 1304.31L540.60 1304.38L542.60 1304.45L544.60 1304.52L546.60 1304.60L548.60 1304.67L550.60 1304.76L552.60 1304.84L554.60 1304.92L556.60 1305.01L558.60 1305.10L560.60 1305.19L562.60 1305.28L564.60 1305.38L566.60 1305.47L568.60 1305.56L570.60 1305.67L572.60 1305.80L574.60 1305.94L576.60 1306.09L578.60 1306.25L580.60 1306.42L582.60 1306.60L584.60 1306.79L586.60 1306.98L588.60 1307.19L590.60 1307.40L592.60 1307.61L594.60 1307.84L596.60 1308.06L598.60 1308.29L600.60 1308.51L602.60 1308.74L604.60 1308.97L606.60 1309.20L608.60 1309.43L610.60 1309.66L612.60 1309.88L614.60 1310.10L616.60 1310.31L618.60 1310.52L620.60 1310.72L622.60 1310.92L624.60 1311.11L626.60 1311.31L628.60 1311.51L630.60 1311.71L632.60 1311.90L634.60 1312.10L636.60 1312.30L638.60 1312.49L640.60 1312.69L642.60 1312.89L644.60 1313.09L646.60 1313.29L648.60 1313.49L650.60 1313.69L652.60 1313.89L654.60 1314.10L656.60 1314.30L658.60 1314.51L660.60 1314.72L662.60 1314.93L664.60 1315.15L666.60 1315.37L668.60 1315.59L670.60 1315.81L672.60 1316.03L674.60 1316.26L676.60 1316.50L678.60 1316.75L680.60 1317.00L682.60 1317.25L684.60 1317.51L686.60 1317.77L688.60 1318.04L690.60 1318.31L692.60 1318.58L694.60 1318.85L696.60 1319.12L698.60 1319.39L700.60 1319.67L702.60 1319.93L704.60 1320.20L706.60 1320.47L708.60 1320.73L710.60 1320.98L712.60 1321.24L714.60 1321.48L716.60 1321.72L718.60 1321.96L720.60 1322.18L722.60 1322.40L724.60 1322.61L726.60 1322.82L728.60 1323.04L730.60 1323.26L732.60 1323.49L734.60 1323.72L736.60 1323.95L738.60 1324.17L740.60 1324.38L742.60 1324.58L744.60 1324.76L746.60 1324.90L748.60 1325.01L750.60 1325.07L752.60 1325.08L754.60 1325.03L756.60 1324.90L758.60 1324.70L760.60 1324.43L762.60 1324.09L764.60 1323.70L766.60 1323.26L768.60 1322.80L770.60 1322.36L772.60 1321.96L774.60 1321.63L776.60 1321.40L778.60 1321.27L780.60 1321.26L782.60 1321.35L784.60 1321.55L786.60 1321.82L788.60 1322.16L790.60 1322.55L792.60 1323.01L794.60 1323.53L796.60 1324.06L798.60 1324.57L800.00 1324.90" fill="none" stroke="#ff0000" stroke-width="10" stroke-linejoin="round" stroke-dasharray="9.4 7.04" stroke-dashoffset="7.84"/>
<path d="M800.00 1324.90L800.60 1325.04L802.60 1325.44L804.60 1325.74L806.60 1325.94L808.60 1326.10L810.60 1326.23L812.60 1326.33L814.60 1326.42L816.60 1326.50L818.60 1326.57L820.60 1326.65L822.60 1326.73L824.60 1326.83L826.60 1326.93L828.60 1327.06L830.60 1327.19L832.60 1327.33L834.60 1327.49L836.60 1327.66L838.60 1327.84L840.60 1328.03L842.60 1328.22L844.60 1328.43L846.60 1328.64L848.60 1328.87L850.60 1329.10L852.60 1329.33L854.60 1329.57L856.60 1329.82L858.60 1330.08L860.60 1330.34L862.60 1330.60L864.60 1330.87L866.60 1331.14L868.60 1331.41L870.60 1331.69L872.60 1331.97L874.60 1332.25L876.60 1332.53L878.60 1332.81L880.60 1333.09L882.60 1333.37L884.60 1333.65L886.60 1333.92L888.60 1334.20L890.60 1334.47L892.60 1334.74L894.60 1335.01L896.60 1335.27L898.60 1335.53L900.60 1335.78L902.60 1336.03L904.60 1336.27L906.60 1336.51L908.60 1336.74L910.60 1336.98L912.60 1337.22L914.60 1337.46L916.60 1337.69L918.60 1337.93L920.60 1338.17L922.60 1338.41L924.60 1338.65L926.60 1338.89L928.60 1339.13L930.60 1339.37L932.60 1339.61L934.60 1339.85L936.60 1340.09L938.60 1340.33L940.60 1340.57L942.60 1340.81L944.60 1341.04L946.60 1341.28L948.60 1341.52L950.60 1341.76L952.60 1342.00L954.60 1342.24L956.60 1342.48L958.60 1342.71L960.60 1342.95L962.60 1343.19L964.60 1343.42L966.60 1343.66L968.60 1343.90L970.60 1344.13L972.60 1344.37L974.60 1344.60L976.60 1344.83L978.60 1345.07L980.60 1345.30L982.60 1345.53L984.60 1345.76L986.60 1345.99L988.60 1346.22L990.60 1346.45L992.60 1346.68L994.60 1346.90L996.60 1347.13L998.60 1347.36L1000.60 1347.58L1002.60 1347.80L1004.60 1348.03L1006.60 1348.25L1008.60 1348.47L1010.60 1348.69L1012.60 1348.91L1014.60 1349.13L1016.60 1349.35L1018.60 1349.57L1020.60 1349.80L1022.60 1350.02L1024.60 1350.24L1026.60 1350.47L1028.60 1350.69L1030.60 1350.91L1032.60 1351.13L1034.60 1351.35L1036.60 1351.57L1038.60 1351.78L1040.60 1351.99L1042.60 1352.20L1044.60 1352.41L1046.60 1352.61L1048.60 1352.81L1050.60 1353.01L1052.60 1353.20L1054.60 1353.39L1056.60 1353.57L1058.60 1353.75L1060.60 1353.93L1062.60 1354.10L1064.60 1354.26L1066.60 1354.43L1068.60 1354.60L1070.60 1354.77L1072.60 1354.94L1074.60 1355.11L1076.60 1355.28L1078.60 1355.45L1080.60 1355.61L1082.60 1355.78L1084.60 1355.94L1086.60 1356.10L1088.60 1356.25L1090.60 1356.40L1092.60 1356.54L1094.60 1356.68L1096.60 1356.82L1098.60 1356.95L1100.60 1357.07L1102.60 1357.19L1104.60 1357.29L1106.60 1357.39L1108.60 1357.49L1110.60 1357.57L1112.60 1357.65L1114.60 1357.71L1116.60 1357.77L1118.60 1357.83L1120.60 1357.89L1122.60 1357.95L1124.60 1358.00L1126.60 1358.05L1128.60 1358.10L1130.60 1358.14L1132.60 1358.18L1134.60 1358.21L1136.60 1358.23L1138.60 1358.25L1140.60 1358.25L1142.60 1358.25L1144.60 1358.24L1146.60 1358.22L1148.60 1358.19L1150.60 1358.16L1152.60 1358.12L1154.60 1358.07L1156.60 1358.02L1158.60 1357.97L1160.60 1357.92L1162.60 1357.86L1164.60 1357.80L1166.60 1357.74L1168.60 1357.68L1170.60 1357.60L1172.60 1357.52L1174.60 1357.43L1176.60 1357.33L1178.60 1357.23L1180.60 1357.11L1182.60 1356.99L1184.60 1356.86L1186.60 1356.72L1188.60 1356.58L1190.60 1356.43L1192.60 1356.27L1194.60 1356.11L1196.60 1355.94L1198.60 1355.77L1200.60 1355.60L1202.60 1355.42L1204.60 1355.23L1206.60 1355.05L1208.60 1354.86L1210.60 1354.66L1212.60 1354.47L1214.60 1354.27L1216.60 1354.08L1218.60 1353.88L1220.60 1353.68L1222.60 1353.47L1224.60 1353.25L1226.60 1353.02L1228.60 1352.78L1230.60 1352.53L1232.60 1352.27L1234.60 1352.00L1236.60 1351.73L1238.60 1351.45L1240.60 1351.16L1242.60 1350.86L1244.60 1350.56L1246.60 1350.26L1248.60 1349.94L1250.60 1349.63L1252.60 1349.31L1254.60 1348.98L1256.60 1348.66L1258.60 1348.33L1260.60 1348.00L1262.60 1347.66L1264.60 1347.33L1266.60 1346.99L1268.60 1346.66L1270.60 1346.32L1272.60 1345.99L1274.60 1345.65L1276.60 1345.30L1278.60 1344.94L1280.60 1344.58L1282.60 1344.21L1284.60 1343.83L1286.60 1343.45L1288.60 1343.06L1290.60 1342.67L1292.60 1342.27L1294.60 1341.87L1296.60 1341.47L1298.60 1341.07L1300.60 1340.66L1302.60 1340.26L1304.60 1339.85L1306.60 1339.45L1308.60 1339.04L1310.60 1338.64L1312.60 1338.24L1314.60 1337.84L1316.60 1337.44L1318.60 1337.05L1320.60 1336.67L1322.60 1336.28L1324.60 1335.91L1326.60 1335.54L1328.60 1335.18L1330.60 1334.82L1332.60 1334.47L1334.60 1334.13L1336.60 1333.79L1338.60 1333.46L1340.60 1333.13L1342.60 1332.80L1344.60 1332.47L1346.60 1332.15L1348.60 1331.82L1350.60 1331.50L1352.60 1331.18L1354.60 1330.85L1356.60 1330.53L1358.60 1330.20L1360.60 1329.86L1362.60 1329.53L1364.60 1329.19L1366.60 1328.84L1368.60 1328.49L1370.60 1328.13L1372.60 1327.77L1374.60 1327.39L1376.60 1327.01L1378.60 1326.62L1380.60 1326.22L1382.60 1325.81L1384.60 1325.39L1386.60 1324.96L1388.60 1324.51L1390.60 1324.05L1392.60 1323.51L1394.60 1322.89L1396.60 1322.22L1398.60 1321.55L1400.60 1320.92L1402.60 1320.37L1404.60 1319.94L1406.60 1319.62L1408.60 1319.32L1410.60 1319.02L1412.60 1318.74L1414.60 1318.46L1416.60 1318.20L1418.60 1317.95L1420.60 1317.73L1422.60 1317.53L1424.60 1317.36L1426.60 1317.23L1428.60 1317.15L1430.60 1317.13L1432.60 1317.19L1434.60 1317.35L1436.60 1317.59L1438.60 1317.94L1440.00 1318.26" fill="none" stroke="#ff0000" stroke-width="10" stroke-linejoin="round" stroke-dasharray="9.4 7.04" stroke-dashoffset="3.17"/>
<path d="M1440.00 1318.26L1440.60 1318.40L1442.60 1319.00L1444.60 1319.69L1446.60 1320.40L1448.60 1321.03L1450.60 1321.53L1452.60 1321.82L1454.60 1321.86L1456.60 1321.66L1458.60 1321.30L1460.60 1320.84L1462.60 1320.31L1464.60 1319.76L1466.60 1319.22L1468.60 1318.72L1470.60 1318.27L1472.60 1317.88L1474.60 1317.55L1476.60 1317.27L1478.60 1317.02L1480.60 1316.80L1482.60 1316.60L1484.60 1316.40L1486.60 1316.21L1488.60 1316.02L1490.60 1315.84L1492.60 1315.65L1494.60 1315.46L1496.60 1315.27L1498.60 1315.08L1500.60 1314.89L1502.60 1314.71L1504.60 1314.52L1506.60 1314.34L1508.60 1314.15L1510.60 1313.94L1512.60 1313.72L1514.60 1313.50L1516.60 1313.26L1518.60 1313.02L1520.60 1312.77L1522.60 1312.51L1524.60 1312.24L1526.60 1311.97L1528.60 1311.70L1530.60 1311.42L1532.60 1311.13L1534.60 1310.85L1536.60 1310.56L1538.60 1310.27L1540.60 1309.98L1542.60 1309.70L1544.60 1309.41L1546.60 1309.12L1548.60 1308.84L1550.60 1308.56L1552.60 1308.28L1554.60 1308.01L1556.60 1307.75L1558.60 1307.48L1560.60 1307.22L1562.60 1306.96L1564.60 1306.70L1566.60 1306.44L1568.60 1306.18L1570.60 1305.92L1572.60 1305.66L1574.60 1305.40L1576.60 1305.15L1578.60 1304.89L1580.60 1304.63L1582.60 1304.37L1584.60 1304.11L1586.60 1303.85L1588.60 1303.59L1590.60 1303.33L1592.60 1303.07L1594.60 1302.81L1596.60 1302.55L1598.60 1302.29L1600.60 1302.02L1602.60 1301.76L1604.60 1301.50L1606.60 1301.24L1608.60 1300.98L1610.60 1300.71L1612.60 1300.45L1614.60 1300.18L1616.60 1299.91L1618.60 1299.64L1620.60 1299.37L1622.60 1299.10L1624.60 1298.83L1626.60 1298.55L1628.60 1298.28L1630.60 1298.00L1632.60 1297.73L1634.60 1297.45L1636.60 1297.18L1638.60 1296.91L1640.60 1296.64L1642.60 1296.37L1644.60 1296.10L1646.60 1295.84L1648.60 1295.57L1650.60 1295.31L1652.60 1295.05L1654.60 1294.80L1656.60 1294.55L1658.60 1294.30L1660.60 1294.05L1662.60 1293.81L1664.60 1293.58L1666.60 1293.34L1668.60 1293.10L1670.60 1292.86L1672.60 1292.62L1674.60 1292.38L1676.60 1292.14L1678.60 1291.90L1680.60 1291.67L1682.60 1291.43L1684.60 1291.20L1686.60 1290.97L1688.60 1290.74L1690.60 1290.52L1692.60 1290.30L1694.60 1290.08L1696.60 1289.87L1698.60 1289.66L1700.60 1289.46L1702.60 1289.26L1704.60 1289.07L1706.60 1288.88L1708.60 1288.69L1710.60 1288.52L1712.60 1288.35L1714.60 1288.18L1716.60 1288.02L1718.60 1287.86L1720.60 1287.70L1722.60 1287.54L1724.60 1287.37L1726.60 1287.21L1728.60 1287.05L1730.60 1286.89L1732.60 1286.74L1734.60 1286.58L1736.60 1286.43L1738.60 1286.29L1740.60 1286.14L1742.60 1286.00L1744.60 1285.87L1746.60 1285.74L1748.60 1285.62L1750.60 1285.50L1752.60 1285.39L1754.60 1285.29L1756.60 1285.20L1758.60 1285.11L1760.60 1285.04L1762.60 1284.97L1764.60 1284.91L1766.60 1284.86L1768.60 1284.83L1770.60 1284.79L1772.60 1284.75L1774.60 1284.72L1776.60 1284.68L1778.60 1284.65L1780.60 1284.62L1782.60 1284.60L1784.60 1284.58L1786.60 1284.56L1788.60 1284.54L1790.60 1284.53L1792.60 1284.53L1794.60 1284.53L1796.60 1284.55L1798.60 1284.58L1800.60 1284.62L1802.60 1284.67L1804.60 1284.73L1806.60 1284.80L1808.60 1284.88L1810.60 1284.96L1812.60 1285.05L1814.60 1285.14L1816.60 1285.23L1818.60 1285.33L1820.60 1285.42L1822.60 1285.53L1824.60 1285.65L1826.60 1285.79L1828.60 1285.93L1830.60 1286.09L1832.60 1286.27L1834.60 1286.45L1836.60 1286.64L1838.60 1286.84L1840.60 1287.05L1842.60 1287.26L1844.60 1287.49L1846.60 1287.72L1848.60 1287.96L1850.60 1288.20L1852.60 1288.44L1854.60 1288.69L1856.60 1288.95L1858.60 1289.20L1860.60 1289.46L1862.60 1289.72L1864.60 1289.98L1866.60 1290.23L1868.60 1290.49L1870.60 1290.75L1872.60 1291.00L1874.60 1291.26L1876.60 1291.52L1878.60 1291.79L1880.60 1292.07L1882.60 1292.36L1884.60 1292.65L1886.60 1292.94L1888.60 1293.24L1890.60 1293.55L1892.60 1293.86L1894.60 1294.17L1896.60 1294.48L1898.60 1294.80L1900.60 1295.13L1902.60 1295.45L1904.60 1295.78L1906.60 1296.11L1908.60 1296.44L1910.60 1296.77L1912.60 1297.10L1914.60 1297.43L1916.60 1297.76L1918.60 1298.09L1920.60 1298.41L1922.60 1298.74L1924.60 1299.06L1926.60 1299.39L1928.60 1299.72L1930.60 1300.06L1932.60 1300.40L1934.60 1300.75L1936.60 1301.10L1938.60 1301.45L1940.60 1301.80L1942.60 1302.16L1944.60 1302.52L1946.60 1302.87L1948.60 1303.23L1950.60 1303.59L1952.60 1303.94L1954.60 1304.30L1956.60 1304.65L1958.60 1304.99L1960.60 1305.34L1962.60 1305.68L1964.60 1306.01L1966.60 1306.34L1968.60 1306.66L1970.60 1306.98L1972.60 1307.29L1974.60 1307.59L1976.60 1307.88L1978.60 1308.16L1980.60 1308.42L1982.60 1308.67L1984.60 1308.91L1986.60 1309.15L1988.60 1309.38L1990.60 1309.61L1992.60 1309.84L1994.60 1310.08L1996.60 1310.34L1998.60 1310.60L2000.60 1310.89L2002.60 1311.19L2004.60 1311.51L2006.60 1311.84L2008.60 1312.18L2010.60 1312.53L2012.60 1312.90L2014.60 1313.27L2016.60 1313.66L2018.60 1314.05L2020.60 1314.45L2022.60 1314.86L2024.60 1315.28L2026.60 1315.71L2028.60 1316.14L2030.60 1316.58L2032.60 1317.03L2034.60 1317.48L2036.60 1317.93L2038.60 1318.39L2040.60 1318.86L2042.60 1319.32L2044.60 1319.79L2046.60 1320.26L2048.60 1320.73L2050.60 1321.20L2052.60 1321.67L2054.60 1322.14L2056.60 1322.63L2058.60 1323.17L2060.60 1323.71L2062.60 1324.23L2064.60 1324.68L2066.60 1325.02L2068.60 1325.22L2070.60 1325.24L2072.60 1325.05L2074.60 1324.70L2076.60 1324.27L2078.60 1323.79L2080.60 1323.30L2082.60 1322.85L2084.60 1322.52L2086.60 1322.32L2088.60 1322.30L2090.60 1322.38L2092.60 1322.53L2094.60 1322.73L2096.60 1322.98L2098.60 1323.25L2100.60 1323.53L2102.60 1323.81L2104.60 1324.11L2106.60 1324.45L2108.60 1324.81L2110.60 1325.14L2112.60 1325.44L2114.60 1325.72L2116.60 1325.99L2118.60 1326.27L2120.60 1326.54L2122.60 1326.83L2124.60 1327.12L2126.60 1327.41L2128.60 1327.69L2130.60 1327.97L2132.60 1328.24L2134.60 1328.50L2136.60 1328.78L2138.60 1329.08L2140.60 1329.38L2142.60 1329.70L2144.60 1330.03L2146.60 1330.36L2148.60 1330.70L2150.60 1331.04L2152.60 1331.38L2154.60 1331.72L2156.60 1332.05L2158.60 1332.37L2160.60 1332.69L2162.60 1333.00L2164.60 1333.32L2166.60 1333.63L2168.60 1333.94L2170.60 1334.26L2172.60 1334.57L2174.60 1334.89L2176.60 1335.20L2178.60 1335.51L2180.60 1335.82L2182.60 1336.14L2184.60 1336.45L2186.60 1336.76L2188.60 1337.07L2190.60 1337.39L2192.60 1337.70L2194.60 1338.01L2196.60 1338.32L2198.60 1338.63L2200.60 1338.94L2202.60 1339.25L2204.60 1339.56L2206.60 1339.87L2208.60 1340.17L2210.60 1340.48L2212.60 1340.79L2214.60 1341.10L2216.60 1341.41L2218.60 1341.71L2220.60 1342.02L2222.60 1342.32L2224.60 1342.63L2226.00 1342.84" fill="none" stroke="#ff0000" stroke-width="10" stroke-linejoin="round" stroke-dasharray="9.4 7.04" stroke-dashoffset="8.20"/>
<path d="M213.00 1323.20L214.00 900.00L214.30 845.00L216.30 829.00L216.61 830.55L216.92 831.51L217.23 832.46L217.53 833.42L217.82 834.38L218.11 835.34" fill="none" stroke="#00ff00" stroke-width="10" stroke-linejoin="round" stroke-dasharray="9.2 7.2" stroke-dashoffset="0.00"/>
<path d="M216.30 829.60L216.61 830.55L216.92 831.51L217.23 832.46L217.53 833.42L217.82 834.38L218.11 835.34L218.39 836.30L218.66 837.26L218.92 838.22L219.18 839.19L219.42 840.16L219.66 841.13L219.89 842.10L220.10 843.07L220.31 844.05L220.51 845.02L220.71 846.00L220.89 846.98L221.08 847.97L221.25 848.95L221.43 849.94L221.60 850.92L221.76 851.91L221.93 852.90L222.09 853.89L222.25 854.87L222.42 855.86L222.58 856.85L222.75 857.84L222.92 858.82L223.09 859.81L223.26 860.79L223.43 861.78L223.60 862.76L223.77 863.75L223.94 864.74L224.11 865.72L224.28 866.71L224.45 867.69L224.62 868.68L224.79 869.66L224.95 870.65L225.12 871.63L225.29 872.62L225.46 873.61L225.62 874.59L225.79 875.58L225.96 876.56L226.12 877.55L226.29 878.54L226.45 879.52L226.62 880.51L226.78 881.50L226.95 882.48L227.11 883.47L227.28 884.45L227.44 885.44L227.61 886.43L227.77 887.41L227.93 888.40L228.10 889.39L228.26 890.37L228.42 891.36L228.59 892.35L228.75 893.33L228.91 894.32L229.08 895.31L229.24 896.29L229.40 897.28L229.56 898.27L229.73 899.25L229.89 900.24L230.05 901.23L230.21 902.21L230.37 903.20L230.54 904.19L230.70 905.17L230.86 906.16L231.02 907.15L231.18 908.13L231.35 909.12L231.51 910.11L231.67 911.10L231.83 912.08L231.99 913.07L232.15 914.06L232.32 915.04L232.48 916.03L232.64 917.02L232.80 918.00L232.96 918.99L233.12 919.98L233.29 920.96L233.45 921.95L233.61 922.94L233.77 923.92L233.94 924.91L234.10 925.90L234.26 926.88L234.42 927.87L234.59 928.86L234.75 929.84L234.91 930.83L235.07 931.82L235.24 932.80L235.40 933.79L235.56 934.78L235.73 935.76L235.89 936.75L236.06 937.74L236.22 938.72L236.38 939.71L236.55 940.70L236.71 941.68L236.87 942.67L237.04 943.66L237.20 944.64L237.36 945.63L237.52 946.62L237.68 947.60L237.84 948.59L238.00 949.58L238.17 950.57L238.33 951.55L238.49 952.54L238.65 953.53L238.81 954.51L238.97 955.50L239.13 956.49L239.29 957.48L239.44 958.46L239.60 959.45L239.76 960.44L239.92 961.43L240.08 962.41L240.24 963.40L240.40 964.39L240.56 965.38L240.72 966.36L240.88 967.35L241.04 968.34L241.20 969.33L241.36 970.31L241.52 971.30L241.68 972.29L241.84 973.27L242.00 974.26L242.16 975.25L242.32 976.24L242.48 977.22L242.64 978.21L242.80 979.20L242.96 980.19L243.12 981.17L243.28 982.16L243.44 983.15L243.60 984.13L243.77 985.12L243.93 986.11L244.09 987.09L244.26 988.08L244.42 989.07L244.58 990.05L244.75 991.04L244.91 992.03L245.08 993.01L245.24 994.00L245.41 994.98L245.57 995.97L245.74 996.96L245.91 997.94L246.08 998.93L246.24 999.91L246.41 1000.90L246.58 1001.88L246.75 1002.87L246.92 1003.86L247.09 1004.84L247.26 1005.83L247.44 1006.81L247.61 1007.79L247.78 1008.78L247.96 1009.76L248.13 1010.75L248.30 1011.73L248.48 1012.72L248.66 1013.70L248.83 1014.68L249.01 1015.67L249.19 1016.65L249.37 1017.63L249.55 1018.62L249.73 1019.60L249.92 1020.58L250.10 1021.57L250.29 1022.55L250.47 1023.53L250.66 1024.51L250.85 1025.49L251.04 1026.48L251.23 1027.46L251.42 1028.44L251.61 1029.42L251.80 1030.40L252.00 1031.38L252.19 1032.36L252.39 1033.34L252.58 1034.33L252.78 1035.31L252.97 1036.29L253.17 1037.27L253.37 1038.25L253.57 1039.23L253.77 1040.21L253.97 1041.19L254.17 1042.17L254.37 1043.15L254.57 1044.13L254.77 1045.11L254.97 1046.09L255.17 1047.07L255.37 1048.05L255.57 1049.02L255.78 1050.00L255.98 1050.98L256.18 1051.96L256.38 1052.94L256.58 1053.92L256.79 1054.90L256.99 1055.88L257.19 1056.86L257.39 1057.84L257.60 1058.82L257.80 1059.80L258.00 1060.78L258.20 1061.76L258.40 1062.74L258.60 1063.72L258.80 1064.70L259.00 1065.68L259.20 1066.66L259.40 1067.64L259.60 1068.62L259.80 1069.60L259.99 1070.58L260.19 1071.56L260.39 1072.54L260.58 1073.52L260.78 1074.50L260.97 1075.48L261.17 1076.46L261.36 1077.45L261.55 1078.43L261.74 1079.41L261.93 1080.39L262.12 1081.37L262.31 1082.35L262.50 1083.34L262.69 1084.32L262.87 1085.30L263.06 1086.28L263.24 1087.27L263.43 1088.25L263.61 1089.23L263.80 1090.22L263.98 1091.20L264.16 1092.18L264.34 1093.16L264.52 1094.15L264.71 1095.13L264.89 1096.12L265.07 1097.10L265.25 1098.08L265.43 1099.07L265.60 1100.05L265.78 1101.03L265.96 1102.02L266.14 1103.00L266.32 1103.99L266.49 1104.97L266.67 1105.96L266.85 1106.94L267.03 1107.92L267.20 1108.91L267.38 1109.89L267.55 1110.88L267.73 1111.86L267.91 1112.85L268.08 1113.83L268.26 1114.82L268.43 1115.80L268.61 1116.78L268.78 1117.77L268.96 1118.75L269.13 1119.74L269.31 1120.72L269.48 1121.71L269.66 1122.69L269.83 1123.68L270.01 1124.66L270.18 1125.65L270.36 1126.63L270.53 1127.62L270.71 1128.60L270.88 1129.59L271.06 1130.57L271.23 1131.56L271.41 1132.54L271.59 1133.52L271.76 1134.51L271.94 1135.49L272.11 1136.48L272.29 1137.46L272.47 1138.45L272.65 1139.43L272.82 1140.41L273.00 1141.40L273.18 1142.38L273.36 1143.37L273.54 1144.35L273.72 1145.33L273.90 1146.32L274.08 1147.30L274.26 1148.28L274.44 1149.27L274.62 1150.25L274.80 1151.23L274.99 1152.22L275.17 1153.20L275.35 1154.18L275.54 1155.17L275.72 1156.15L275.91 1157.13L276.09 1158.11L276.28 1159.10L276.47 1160.08L276.65 1161.06L276.84 1162.04L277.03 1163.02L277.22 1164.01L277.41 1164.99L277.60 1165.97L277.80 1166.95L277.99 1167.93L278.18 1168.91L278.38 1169.89L278.57 1170.87L278.76 1171.85L278.96 1172.83L279.15 1173.82L279.35 1174.80L279.55 1175.78L279.74 1176.76L279.94 1177.74L280.14 1178.72L280.34 1179.70L280.53 1180.68L280.73 1181.66L280.93 1182.64L281.13 1183.62L281.33 1184.60L281.53 1185.58L281.74 1186.56L281.94 1187.54L282.14 1188.52L282.34 1189.50L282.55 1190.48L282.75 1191.46L282.95 1192.43L283.16 1193.41L283.37 1194.39L283.57 1195.37L283.78 1196.35L283.99 1197.33L284.19 1198.31L284.40 1199.28L284.61 1200.26L284.82 1201.24L285.03 1202.22L285.24 1203.20L285.46 1204.17L285.67 1205.15L285.88 1206.13L286.09 1207.10L286.31 1208.08L286.52 1209.06L286.74 1210.03L286.96 1211.01L287.17 1211.99L287.39 1212.96L287.61 1213.94L287.83 1214.91L288.05 1215.89L288.27 1216.86L288.49 1217.84L288.72 1218.81L288.94 1219.79L289.16 1220.76L289.38 1221.74L289.60 1222.71L289.83 1223.69L290.05 1224.66L290.27 1225.64L290.49 1226.62L290.71 1227.59L290.93 1228.57L291.16 1229.55L291.38 1230.52L291.60 1231.50L291.83 1232.48L292.05 1233.45L292.27 1234.43L292.50 1235.41L292.73 1236.38L292.95 1237.36L293.18 1238.34L293.41 1239.31L293.64 1240.29L293.87 1241.26L294.10 1242.24L294.33 1243.21L294.57 1244.19L294.80 1245.16L295.04 1246.13L295.27 1247.11L295.51 1248.08L295.75 1249.05L295.99 1250.02L296.24 1250.99L296.48 1251.96L296.73 1252.93L296.98 1253.90L297.23 1254.87L297.48 1255.84L297.74 1256.80L297.99 1257.77L298.25 1258.74L298.51 1259.70L298.77 1260.66L299.04 1261.63L299.30 1262.59L299.57 1263.55L299.85 1264.51L300.12 1265.47L300.40 1266.42L300.68 1267.38L300.96 1268.34L301.24 1269.29L301.53 1270.24L301.82 1271.20L302.11 1272.15L302.41 1273.10L302.70 1274.06L303.00 1275.02L303.30 1275.98L303.60 1276.94L303.91 1277.90L304.21 1278.86L304.52 1279.82L304.84 1280.78L305.15 1281.74L305.48 1282.70L305.80 1283.66L306.13 1284.62L306.46 1285.57L306.80 1286.52L307.14 1287.47L307.49 1288.42L307.84 1289.37L308.20 1290.31L308.56 1291.24L308.93 1292.18L309.30 1293.11L309.68 1294.03L310.07 1294.95L310.46 1295.87L310.86 1296.78L311.26 1297.68L311.68 1298.58L312.10 1299.47L312.52 1300.36L312.96 1301.23L313.40 1302.11L313.85 1302.98L314.32 1303.87L314.80 1304.77L315.30 1305.67L315.81 1306.58L316.33 1307.49L316.88 1308.38L317.44 1309.27L318.01 1310.13L318.60 1310.98L319.21 1311.79L319.84 1312.57L320.49 1313.32L321.15 1314.02L321.83 1314.67L322.54 1315.27L323.27 1315.82L324.05 1316.35L324.88 1316.86L325.75 1317.33L326.66 1317.79L327.60 1318.21L328.57 1318.60L329.55 1318.96L330.56 1319.29L330.60 1319.30" fill="none" stroke="#00ff00" stroke-width="10" stroke-linejoin="round" stroke-dasharray="9.4 7.04" stroke-dashoffset="7.76"/>
<path d="M330.60 1322.54L332.60 1321.93L334.60 1320.92L336.60 1319.66L338.60 1318.31L340.60 1316.98L342.60 1315.73L344.60 1314.59L346.60 1313.59L348.60 1312.79L350.60 1312.25L352.60 1312.02L354.60 1312.09L356.60 1312.43L358.60 1312.94L360.60 1313.52L362.60 1314.07L364.60 1314.52L366.60 1314.84L368.60 1315.02L370.60 1315.08L372.60 1315.05L374.60 1314.95L376.60 1314.81L378.60 1314.64L380.60 1314.46L382.60 1314.27L384.60 1314.07L386.60 1313.88L388.60 1313.68L390.60 1313.48L392.60 1313.29L394.60 1313.09L396.60 1312.89L398.60 1312.70L400.60 1312.50L402.60 1312.31L404.60 1312.12L406.60 1311.92L408.60 1311.73L410.60 1311.54L412.60 1311.35L414.60 1311.15L416.60 1310.94L418.60 1310.73L420.60 1310.52L422.60 1310.30L424.60 1310.09L426.60 1309.87L428.60 1309.65L430.60 1309.43L432.60 1309.21L434.60 1309.00L436.60 1308.79L438.60 1308.58L440.60 1308.38L442.60 1308.18L444.60 1307.99L446.60 1307.80L448.60 1307.63L450.60 1307.46L452.60 1307.30L454.60 1307.15L456.60 1307.02L458.60 1306.89L460.60 1306.78L462.60 1306.69L464.60 1306.59L466.60 1306.50L468.60 1306.41L470.60 1306.32L472.60 1306.23L474.60 1306.15L476.60 1306.06L478.60 1305.98L480.60 1305.90L482.60 1305.82L484.60 1305.74L486.60 1305.67L488.60 1305.60L490.60 1305.53L492.60 1305.47L494.60 1305.41L496.60 1305.35L498.60 1305.30L500.60 1305.26L502.60 1305.22L504.60 1305.18L506.60 1305.16L508.60 1305.13L510.60 1305.11L512.60 1305.10L514.60 1305.10L516.60 1305.10L518.60 1305.11L520.60 1305.13L522.60 1305.15L524.60 1305.17L526.60 1305.20L528.60 1305.24L530.60 1305.28L532.60 1305.33L534.60 1305.38L536.60 1305.43L538.60 1305.49L540.60 1305.55L542.60 1305.61L544.60 1305.68L546.60 1305.75L548.60 1305.83L550.60 1305.90L552.60 1305.98L554.60 1306.06L556.60 1306.14L558.60 1306.23L560.60 1306.31L562.60 1306.40L564.60 1306.48L566.60 1306.57L568.60 1306.66L570.60 1306.76L572.60 1306.88L574.60 1307.01L576.60 1307.15L578.60 1307.30L580.60 1307.46L582.60 1307.62L584.60 1307.80L586.60 1307.99L588.60 1308.18L590.60 1308.37L592.60 1308.58L594.60 1308.78L596.60 1308.99L598.60 1309.20L600.60 1309.42L602.60 1309.63L604.60 1309.85L606.60 1310.06L608.60 1310.27L610.60 1310.48L612.60 1310.69L614.60 1310.89L616.60 1311.09L618.60 1311.29L620.60 1311.47L622.60 1311.66L624.60 1311.85L626.60 1312.03L628.60 1312.21L630.60 1312.40L632.60 1312.58L634.60 1312.77L636.60 1312.95L638.60 1313.13L640.60 1313.32L642.60 1313.50L644.60 1313.69L646.60 1313.88L648.60 1314.06L650.60 1314.25L652.60 1314.44L654.60 1314.63L656.60 1314.83L658.60 1315.02L660.60 1315.22L662.60 1315.42L664.60 1315.62L666.60 1315.82L668.60 1316.02L670.60 1316.23L672.60 1316.44L674.60 1316.66L676.60 1316.88L678.60 1317.11L680.60 1317.34L682.60 1317.58L684.60 1317.82L686.60 1318.07L688.60 1318.32L690.60 1318.57L692.60 1318.82L694.60 1319.08L696.60 1319.33L698.60 1319.58L700.60 1319.84L702.60 1320.09L704.60 1320.34L706.60 1320.59L708.60 1320.83L710.60 1321.07L712.60 1321.31L714.60 1321.54L716.60 1321.76L718.60 1321.98L720.60 1322.20L722.60 1322.41L724.60 1322.61L726.60 1322.82L728.60 1323.04L730.60 1323.29L732.60 1323.55L734.60 1323.84L736.60 1324.15L738.60 1324.50L740.60 1324.88L742.60 1325.31L744.60 1325.78L746.60 1326.28L748.60 1326.82L750.60 1327.37L752.60 1327.92L754.60 1328.44L756.60 1328.92L758.60 1329.31L760.60 1329.60L762.60 1329.77L764.60 1329.79L766.60 1329.67L768.60 1329.41L770.60 1329.03L772.60 1328.57L774.60 1328.04L776.60 1327.50L778.60 1326.95L780.60 1326.44L782.60 1325.97L784.60 1325.57L786.60 1325.25L788.60 1325.00L790.60 1324.84L792.60 1324.80L794.60 1324.88L796.60 1325.03L798.60 1325.23L800.00 1325.38" fill="none" stroke="#00ff00" stroke-width="10" stroke-linejoin="round" stroke-dasharray="9.4 7.04" stroke-dashoffset="16.37"/>
<path d="M800.00 1325.38L800.60 1325.44L802.60 1325.64L804.60 1325.79L806.60 1325.89L808.60 1325.97L810.60 1326.05L812.60 1326.12L814.60 1326.18L816.60 1326.24L818.60 1326.30L820.60 1326.37L822.60 1326.45L824.60 1326.53L826.60 1326.63L828.60 1326.74L830.60 1326.87L832.60 1327.01L834.60 1327.15L836.60 1327.31L838.60 1327.48L840.60 1327.65L842.60 1327.84L844.60 1328.03L846.60 1328.23L848.60 1328.44L850.60 1328.65L852.60 1328.87L854.60 1329.10L856.60 1329.33L858.60 1329.57L860.60 1329.81L862.60 1330.06L864.60 1330.31L866.60 1330.56L868.60 1330.82L870.60 1331.07L872.60 1331.33L874.60 1331.60L876.60 1331.86L878.60 1332.12L880.60 1332.38L882.60 1332.64L884.60 1332.91L886.60 1333.16L888.60 1333.42L890.60 1333.68L892.60 1333.93L894.60 1334.18L896.60 1334.42L898.60 1334.66L900.60 1334.90L902.60 1335.13L904.60 1335.36L906.60 1335.58L908.60 1335.80L910.60 1336.02L912.60 1336.24L914.60 1336.46L916.60 1336.69L918.60 1336.91L920.60 1337.13L922.60 1337.36L924.60 1337.58L926.60 1337.80L928.60 1338.03L930.60 1338.25L932.60 1338.48L934.60 1338.70L936.60 1338.92L938.60 1339.15L940.60 1339.37L942.60 1339.59L944.60 1339.82L946.60 1340.04L948.60 1340.27L950.60 1340.49L952.60 1340.71L954.60 1340.93L956.60 1341.16L958.60 1341.38L960.60 1341.60L962.60 1341.82L964.60 1342.04L966.60 1342.26L968.60 1342.48L970.60 1342.70L972.60 1342.92L974.60 1343.14L976.60 1343.36L978.60 1343.58L980.60 1343.79L982.60 1344.01L984.60 1344.23L986.60 1344.44L988.60 1344.66L990.60 1344.87L992.60 1345.08L994.60 1345.30L996.60 1345.51L998.60 1345.72L1000.60 1345.93L1002.60 1346.14L1004.60 1346.34L1006.60 1346.55L1008.60 1346.76L1010.60 1346.96L1012.60 1347.17L1014.60 1347.37L1016.60 1347.58L1018.60 1347.79L1020.60 1348.00L1022.60 1348.21L1024.60 1348.42L1026.60 1348.62L1028.60 1348.83L1030.60 1349.04L1032.60 1349.24L1034.60 1349.45L1036.60 1349.65L1038.60 1349.85L1040.60 1350.05L1042.60 1350.25L1044.60 1350.44L1046.60 1350.63L1048.60 1350.82L1050.60 1351.00L1052.60 1351.18L1054.60 1351.36L1056.60 1351.53L1058.60 1351.70L1060.60 1351.86L1062.60 1352.02L1064.60 1352.17L1066.60 1352.33L1068.60 1352.49L1070.60 1352.65L1072.60 1352.81L1074.60 1352.97L1076.60 1353.12L1078.60 1353.28L1080.60 1353.43L1082.60 1353.59L1084.60 1353.74L1086.60 1353.88L1088.60 1354.03L1090.60 1354.17L1092.60 1354.30L1094.60 1354.43L1096.60 1354.56L1098.60 1354.68L1100.60 1354.79L1102.60 1354.90L1104.60 1355.00L1106.60 1355.10L1108.60 1355.18L1110.60 1355.26L1112.60 1355.33L1114.60 1355.39L1116.60 1355.45L1118.60 1355.51L1120.60 1355.56L1122.60 1355.61L1124.60 1355.66L1126.60 1355.71L1128.60 1355.76L1130.60 1355.80L1132.60 1355.83L1134.60 1355.86L1136.60 1355.88L1138.60 1355.89L1140.60 1355.90L1142.60 1355.90L1144.60 1355.89L1146.60 1355.87L1148.60 1355.84L1150.60 1355.81L1152.60 1355.77L1154.60 1355.73L1156.60 1355.69L1158.60 1355.64L1160.60 1355.59L1162.60 1355.53L1164.60 1355.48L1166.60 1355.42L1168.60 1355.36L1170.60 1355.29L1172.60 1355.22L1174.60 1355.13L1176.60 1355.04L1178.60 1354.94L1180.60 1354.83L1182.60 1354.72L1184.60 1354.60L1186.60 1354.47L1188.60 1354.33L1190.60 1354.19L1192.60 1354.05L1194.60 1353.90L1196.60 1353.74L1198.60 1353.58L1200.60 1353.42L1202.60 1353.25L1204.60 1353.08L1206.60 1352.90L1208.60 1352.73L1210.60 1352.55L1212.60 1352.37L1214.60 1352.18L1216.60 1352.00L1218.60 1351.81L1220.60 1351.62L1222.60 1351.43L1224.60 1351.22L1226.60 1351.01L1228.60 1350.78L1230.60 1350.55L1232.60 1350.31L1234.60 1350.06L1236.60 1349.80L1238.60 1349.54L1240.60 1349.27L1242.60 1348.99L1244.60 1348.71L1246.60 1348.43L1248.60 1348.14L1250.60 1347.84L1252.60 1347.54L1254.60 1347.24L1256.60 1346.93L1258.60 1346.62L1260.60 1346.31L1262.60 1346.00L1264.60 1345.69L1266.60 1345.38L1268.60 1345.06L1270.60 1344.75L1272.60 1344.44L1274.60 1344.12L1276.60 1343.79L1278.60 1343.46L1280.60 1343.12L1282.60 1342.77L1284.60 1342.42L1286.60 1342.06L1288.60 1341.70L1290.60 1341.33L1292.60 1340.97L1294.60 1340.59L1296.60 1340.22L1298.60 1339.84L1300.60 1339.46L1302.60 1339.08L1304.60 1338.70L1306.60 1338.32L1308.60 1337.95L1310.60 1337.57L1312.60 1337.20L1314.60 1336.82L1316.60 1336.45L1318.60 1336.09L1320.60 1335.73L1322.60 1335.37L1324.60 1335.02L1326.60 1334.67L1328.60 1334.33L1330.60 1334.00L1332.60 1333.68L1334.60 1333.36L1336.60 1333.04L1338.60 1332.73L1340.60 1332.42L1342.60 1332.11L1344.60 1331.81L1346.60 1331.50L1348.60 1331.20L1350.60 1330.90L1352.60 1330.60L1354.60 1330.29L1356.60 1329.99L1358.60 1329.68L1360.60 1329.37L1362.60 1329.06L1364.60 1328.74L1366.60 1328.41L1368.60 1328.09L1370.60 1327.75L1372.60 1327.41L1374.60 1327.06L1376.60 1326.70L1378.60 1326.34L1380.60 1325.97L1382.60 1325.58L1384.60 1325.19L1386.60 1324.78L1388.60 1324.36L1390.60 1323.93L1392.60 1323.43L1394.60 1322.85L1396.60 1322.23L1398.60 1321.60L1400.60 1321.01L1402.60 1320.49L1404.60 1320.08L1406.60 1319.76L1408.60 1319.45L1410.60 1319.11L1412.60 1318.75L1414.60 1318.35L1416.60 1317.89L1418.60 1317.35L1420.60 1316.72L1422.60 1315.98L1424.60 1315.13L1426.60 1314.20L1428.60 1313.22L1430.60 1312.25L1432.60 1311.36L1434.60 1310.63L1436.60 1310.13L1438.60 1309.91L1440.00 1309.98" fill="none" stroke="#00ff00" stroke-width="10" stroke-linejoin="round" stroke-dasharray="9.4 7.04" stroke-dashoffset="14.70"/>
<path d="M1440.00 1309.98L1440.60 1310.01L1442.60 1310.48L1444.60 1311.25L1446.60 1312.23L1448.60 1313.31L1450.60 1314.38L1452.60 1315.34L1454.60 1316.12L1456.60 1316.71L1458.60 1317.15L1460.60 1317.46L1462.60 1317.65L1464.60 1317.75L1466.60 1317.78L1468.60 1317.76L1470.60 1317.69L1472.60 1317.60L1474.60 1317.49L1476.60 1317.36L1478.60 1317.22L1480.60 1317.08L1482.60 1316.92L1484.60 1316.76L1486.60 1316.60L1488.60 1316.43L1490.60 1316.25L1492.60 1316.08L1494.60 1315.90L1496.60 1315.73L1498.60 1315.55L1500.60 1315.38L1502.60 1315.20L1504.60 1315.03L1506.60 1314.86L1508.60 1314.68L1510.60 1314.49L1512.60 1314.28L1514.60 1314.07L1516.60 1313.85L1518.60 1313.62L1520.60 1313.39L1522.60 1313.15L1524.60 1312.90L1526.60 1312.65L1528.60 1312.39L1530.60 1312.13L1532.60 1311.86L1534.60 1311.60L1536.60 1311.33L1538.60 1311.06L1540.60 1310.79L1542.60 1310.52L1544.60 1310.25L1546.60 1309.99L1548.60 1309.72L1550.60 1309.46L1552.60 1309.20L1554.60 1308.95L1556.60 1308.70L1558.60 1308.45L1560.60 1308.21L1562.60 1307.97L1564.60 1307.72L1566.60 1307.48L1568.60 1307.24L1570.60 1307.00L1572.60 1306.75L1574.60 1306.51L1576.60 1306.27L1578.60 1306.02L1580.60 1305.78L1582.60 1305.54L1584.60 1305.30L1586.60 1305.05L1588.60 1304.81L1590.60 1304.57L1592.60 1304.33L1594.60 1304.08L1596.60 1303.84L1598.60 1303.59L1600.60 1303.35L1602.60 1303.11L1604.60 1302.86L1606.60 1302.62L1608.60 1302.37L1610.60 1302.13L1612.60 1301.88L1614.60 1301.63L1616.60 1301.38L1618.60 1301.13L1620.60 1300.87L1622.60 1300.62L1624.60 1300.36L1626.60 1300.10L1628.60 1299.85L1630.60 1299.59L1632.60 1299.34L1634.60 1299.08L1636.60 1298.82L1638.60 1298.57L1640.60 1298.32L1642.60 1298.07L1644.60 1297.81L1646.60 1297.57L1648.60 1297.32L1650.60 1297.08L1652.60 1296.84L1654.60 1296.60L1656.60 1296.36L1658.60 1296.13L1660.60 1295.90L1662.60 1295.68L1664.60 1295.45L1666.60 1295.23L1668.60 1295.01L1670.60 1294.78L1672.60 1294.56L1674.60 1294.33L1676.60 1294.11L1678.60 1293.89L1680.60 1293.67L1682.60 1293.45L1684.60 1293.23L1686.60 1293.02L1688.60 1292.81L1690.60 1292.60L1692.60 1292.39L1694.60 1292.19L1696.60 1291.99L1698.60 1291.80L1700.60 1291.61L1702.60 1291.42L1704.60 1291.24L1706.60 1291.06L1708.60 1290.89L1710.60 1290.73L1712.60 1290.57L1714.60 1290.41L1716.60 1290.27L1718.60 1290.11L1720.60 1289.96L1722.60 1289.81L1724.60 1289.66L1726.60 1289.51L1728.60 1289.36L1730.60 1289.21L1732.60 1289.06L1734.60 1288.92L1736.60 1288.78L1738.60 1288.64L1740.60 1288.51L1742.60 1288.38L1744.60 1288.25L1746.60 1288.13L1748.60 1288.02L1750.60 1287.91L1752.60 1287.81L1754.60 1287.71L1756.60 1287.63L1758.60 1287.55L1760.60 1287.47L1762.60 1287.41L1764.60 1287.36L1766.60 1287.31L1768.60 1287.28L1770.60 1287.24L1772.60 1287.21L1774.60 1287.18L1776.60 1287.14L1778.60 1287.12L1780.60 1287.09L1782.60 1287.07L1784.60 1287.04L1786.60 1287.03L1788.60 1287.01L1790.60 1287.01L1792.60 1287.00L1794.60 1287.00L1796.60 1287.02L1798.60 1287.04L1800.60 1287.08L1802.60 1287.13L1804.60 1287.19L1806.60 1287.25L1808.60 1287.33L1810.60 1287.40L1812.60 1287.49L1814.60 1287.57L1816.60 1287.66L1818.60 1287.75L1820.60 1287.84L1822.60 1287.94L1824.60 1288.05L1826.60 1288.18L1828.60 1288.31L1830.60 1288.46L1832.60 1288.62L1834.60 1288.79L1836.60 1288.97L1838.60 1289.16L1840.60 1289.35L1842.60 1289.56L1844.60 1289.77L1846.60 1289.98L1848.60 1290.20L1850.60 1290.43L1852.60 1290.66L1854.60 1290.89L1856.60 1291.13L1858.60 1291.37L1860.60 1291.61L1862.60 1291.85L1864.60 1292.09L1866.60 1292.33L1868.60 1292.57L1870.60 1292.81L1872.60 1293.05L1874.60 1293.29L1876.60 1293.54L1878.60 1293.79L1880.60 1294.05L1882.60 1294.31L1884.60 1294.59L1886.60 1294.86L1888.60 1295.14L1890.60 1295.43L1892.60 1295.72L1894.60 1296.01L1896.60 1296.30L1898.60 1296.60L1900.60 1296.90L1902.60 1297.21L1904.60 1297.51L1906.60 1297.82L1908.60 1298.13L1910.60 1298.44L1912.60 1298.74L1914.60 1299.05L1916.60 1299.36L1918.60 1299.67L1920.60 1299.98L1922.60 1300.28L1924.60 1300.58L1926.60 1300.89L1928.60 1301.20L1930.60 1301.52L1932.60 1301.83L1934.60 1302.16L1936.60 1302.48L1938.60 1302.81L1940.60 1303.15L1942.60 1303.48L1944.60 1303.81L1946.60 1304.15L1948.60 1304.48L1950.60 1304.81L1952.60 1305.14L1954.60 1305.47L1956.60 1305.80L1958.60 1306.13L1960.60 1306.45L1962.60 1306.76L1964.60 1307.08L1966.60 1307.38L1968.60 1307.68L1970.60 1307.98L1972.60 1308.27L1974.60 1308.55L1976.60 1308.82L1978.60 1309.08L1980.60 1309.33L1982.60 1309.56L1984.60 1309.79L1986.60 1310.01L1988.60 1310.22L1990.60 1310.44L1992.60 1310.66L1994.60 1310.88L1996.60 1311.12L1998.60 1311.37L2000.60 1311.63L2002.60 1311.92L2004.60 1312.21L2006.60 1312.52L2008.60 1312.84L2010.60 1313.17L2012.60 1313.51L2014.60 1313.86L2016.60 1314.22L2018.60 1314.59L2020.60 1314.97L2022.60 1315.35L2024.60 1315.74L2026.60 1316.14L2028.60 1316.55L2030.60 1316.96L2032.60 1317.37L2034.60 1317.79L2036.60 1318.22L2038.60 1318.65L2040.60 1319.09L2042.60 1319.53L2044.60 1319.98L2046.60 1320.44L2048.60 1320.92L2050.60 1321.42L2052.60 1321.96L2054.60 1322.56L2056.60 1323.26L2058.60 1324.10L2060.60 1325.07L2062.60 1326.16L2064.60 1327.33L2066.60 1328.54L2068.60 1329.74L2070.60 1330.85L2072.60 1331.77L2074.60 1332.49L2076.60 1333.01L2078.60 1333.28L2080.60 1333.29L2082.60 1333.06L2084.60 1332.62L2086.60 1332.02L2088.60 1331.32L2090.60 1330.51L2092.60 1329.62L2094.60 1328.73L2096.60 1327.88L2098.60 1327.11L2100.60 1326.45L2102.60 1325.94L2104.60 1325.58L2106.60 1325.40L2108.60 1325.38L2110.60 1325.42L2112.60 1325.52L2114.60 1325.67L2116.60 1325.85L2118.60 1326.06L2120.60 1326.30L2122.60 1326.55L2124.60 1326.81L2126.60 1327.08L2128.60 1327.34L2130.60 1327.60L2132.60 1327.85L2134.60 1328.10L2136.60 1328.36L2138.60 1328.63L2140.60 1328.92L2142.60 1329.22L2144.60 1329.52L2146.60 1329.84L2148.60 1330.15L2150.60 1330.47L2152.60 1330.79L2154.60 1331.10L2156.60 1331.41L2158.60 1331.71L2160.60 1332.01L2162.60 1332.30L2164.60 1332.59L2166.60 1332.89L2168.60 1333.18L2170.60 1333.48L2172.60 1333.77L2174.60 1334.06L2176.60 1334.36L2178.60 1334.65L2180.60 1334.94L2182.60 1335.23L2184.60 1335.52L2186.60 1335.82L2188.60 1336.11L2190.60 1336.40L2192.60 1336.69L2194.60 1336.98L2196.60 1337.27L2198.60 1337.56L2200.60 1337.85L2202.60 1338.14L2204.60 1338.43L2206.60 1338.72L2208.60 1339.01L2210.60 1339.29L2212.60 1339.58L2214.60 1339.87L2216.60 1340.16L2218.60 1340.44L2220.60 1340.73L2222.60 1341.01L2224.60 1341.30L2226.00 1341.50" fill="none" stroke="#00ff00" stroke-width="10" stroke-linejoin="round" stroke-dasharray="9.4 7.04" stroke-dashoffset="2.78"/>
<path d="M213.00 1323.20L214.00 900.00L214.30 845.00L216.30 829.00L216.62 829.95L216.93 830.91L217.24 831.86L217.55 832.82L217.84 833.78L218.13 834.74" fill="none" stroke="#ffff00" stroke-width="10" stroke-linejoin="round" stroke-dasharray="9.2 7.2" stroke-dashoffset="0.00"/>
<path d="M216.30 829.00L216.62 829.95L216.93 830.91L217.24 831.86L217.55 832.82L217.84 833.78L218.13 834.74L218.40 835.70L218.67 836.66L218.93 837.63L219.18 838.60L219.41 839.57L219.64 840.54L219.85 841.51L220.05 842.49L220.23 843.46L220.41 844.44L220.58 845.43L220.75 846.41L220.90 847.40L221.05 848.39L221.20 849.38L221.34 850.37L221.48 851.36L221.62 852.35L221.76 853.35L221.90 854.34L222.04 855.33L222.18 856.32L222.32 857.31L222.47 858.30L222.62 859.29L222.78 860.28L222.93 861.27L223.08 862.26L223.23 863.25L223.38 864.23L223.53 865.22L223.68 866.21L223.84 867.20L223.99 868.19L224.14 869.18L224.29 870.17L224.44 871.15L224.59 872.14L224.74 873.13L224.89 874.12L225.04 875.11L225.19 876.10L225.34 877.09L225.49 878.07L225.64 879.06L225.79 880.05L225.94 881.04L226.09 882.03L226.24 883.02L226.39 884.01L226.54 885.00L226.69 885.98L226.84 886.97L226.99 887.96L227.14 888.95L227.28 889.94L227.43 890.93L227.58 891.92L227.73 892.91L227.88 893.90L228.03 894.88L228.18 895.87L228.33 896.86L228.48 897.85L228.63 898.84L228.78 899.83L228.93 900.82L229.08 901.80L229.23 902.79L229.38 903.78L229.53 904.77L229.68 905.76L229.83 906.75L229.98 907.74L230.14 908.73L230.29 909.71L230.44 910.70L230.59 911.69L230.74 912.68L230.89 913.67L231.04 914.66L231.20 915.64L231.35 916.63L231.50 917.62L231.65 918.61L231.81 919.60L231.96 920.59L232.11 921.57L232.27 922.56L232.42 923.55L232.57 924.54L232.73 925.53L232.88 926.51L233.04 927.50L233.19 928.49L233.35 929.48L233.50 930.47L233.66 931.45L233.81 932.44L233.97 933.43L234.13 934.42L234.28 935.40L234.44 936.39L234.60 937.38L234.75 938.37L234.91 939.35L235.07 940.34L235.23 941.33L235.38 942.32L235.54 943.30L235.70 944.29L235.86 945.28L236.01 946.27L236.17 947.25L236.33 948.24L236.49 949.23L236.64 950.22L236.80 951.20L236.96 952.19L237.12 953.18L237.28 954.17L237.43 955.16L237.59 956.14L237.75 957.13L237.91 958.12L238.07 959.11L238.23 960.09L238.39 961.08L238.54 962.07L238.70 963.06L238.86 964.04L239.02 965.03L239.18 966.02L239.34 967.00L239.50 967.99L239.66 968.98L239.82 969.97L239.98 970.95L240.14 971.94L240.30 972.93L240.46 973.92L240.63 974.90L240.79 975.89L240.95 976.88L241.11 977.86L241.28 978.85L241.44 979.84L241.60 980.82L241.76 981.81L241.93 982.80L242.09 983.78L242.26 984.77L242.42 985.76L242.59 986.74L242.75 987.73L242.92 988.72L243.08 989.70L243.25 990.69L243.42 991.67L243.58 992.66L243.75 993.65L243.92 994.63L244.09 995.62L244.26 996.60L244.43 997.59L244.60 998.57L244.77 999.56L244.94 1000.54L245.11 1001.53L245.28 1002.51L245.45 1003.50L245.62 1004.48L245.80 1005.47L245.97 1006.45L246.15 1007.44L246.32 1008.42L246.49 1009.41L246.67 1010.39L246.85 1011.37L247.02 1012.36L247.20 1013.34L247.38 1014.33L247.56 1015.31L247.74 1016.29L247.92 1017.28L248.10 1018.26L248.28 1019.24L248.46 1020.22L248.65 1021.21L248.83 1022.19L249.02 1023.17L249.21 1024.15L249.39 1025.14L249.58 1026.12L249.77 1027.10L249.97 1028.08L250.16 1029.06L250.35 1030.04L250.54 1031.02L250.74 1032.00L250.93 1032.99L251.13 1033.97L251.33 1034.95L251.52 1035.93L251.72 1036.91L251.92 1037.89L252.12 1038.87L252.32 1039.85L252.52 1040.83L252.72 1041.81L252.92 1042.79L253.12 1043.77L253.32 1044.75L253.52 1045.73L253.72 1046.71L253.92 1047.69L254.12 1048.67L254.33 1049.64L254.53 1050.62L254.73 1051.60L254.93 1052.58L255.13 1053.56L255.34 1054.54L255.54 1055.52L255.74 1056.50L255.94 1057.48L256.14 1058.46L256.35 1059.44L256.55 1060.42L256.75 1061.40L256.95 1062.38L257.15 1063.36L257.35 1064.34L257.55 1065.32L257.75 1066.30L257.95 1067.28L258.15 1068.26L258.34 1069.24L258.54 1070.22L258.74 1071.20L258.94 1072.18L259.13 1073.16L259.33 1074.14L259.52 1075.12L259.71 1076.11L259.91 1077.09L260.10 1078.07L260.29 1079.05L260.48 1080.03L260.67 1081.01L260.86 1082.00L261.04 1082.98L261.23 1083.96L261.42 1084.94L261.60 1085.92L261.79 1086.91L261.97 1087.89L262.16 1088.87L262.34 1089.86L262.52 1090.84L262.71 1091.82L262.89 1092.81L263.07 1093.79L263.25 1094.77L263.43 1095.76L263.61 1096.74L263.79 1097.72L263.97 1098.71L264.15 1099.69L264.33 1100.68L264.51 1101.66L264.68 1102.64L264.86 1103.63L265.04 1104.61L265.22 1105.60L265.39 1106.58L265.57 1107.57L265.75 1108.55L265.92 1109.53L266.10 1110.52L266.27 1111.50L266.45 1112.49L266.62 1113.47L266.80 1114.46L266.97 1115.44L267.15 1116.43L267.32 1117.41L267.50 1118.40L267.67 1119.38L267.85 1120.37L268.02 1121.35L268.20 1122.33L268.37 1123.32L268.55 1124.30L268.72 1125.29L268.90 1126.27L269.07 1127.26L269.25 1128.24L269.43 1129.23L269.60 1130.21L269.78 1131.20L269.95 1132.18L270.13 1133.17L270.30 1134.15L270.48 1135.13L270.66 1136.12L270.83 1137.10L271.01 1138.09L271.19 1139.07L271.37 1140.06L271.55 1141.04L271.72 1142.02L271.90 1143.01L272.08 1143.99L272.26 1144.98L272.44 1145.96L272.62 1146.94L272.80 1147.93L272.98 1148.91L273.17 1149.89L273.35 1150.88L273.53 1151.86L273.71 1152.84L273.90 1153.82L274.08 1154.81L274.27 1155.79L274.45 1156.77L274.64 1157.76L274.82 1158.74L275.01 1159.72L275.20 1160.70L275.39 1161.68L275.58 1162.66L275.77 1163.65L275.96 1164.63L276.15 1165.61L276.34 1166.59L276.54 1167.57L276.73 1168.55L276.92 1169.53L277.12 1170.51L277.31 1171.49L277.51 1172.48L277.70 1173.46L277.90 1174.44L278.09 1175.42L278.29 1176.40L278.49 1177.38L278.69 1178.36L278.88 1179.34L279.08 1180.32L279.28 1181.30L279.48 1182.28L279.68 1183.26L279.88 1184.24L280.08 1185.22L280.28 1186.20L280.49 1187.18L280.69 1188.16L280.89 1189.14L281.10 1190.12L281.30 1191.10L281.50 1192.07L281.71 1193.05L281.92 1194.03L282.12 1195.01L282.33 1195.99L282.54 1196.97L282.75 1197.95L282.95 1198.92L283.16 1199.90L283.37 1200.88L283.58 1201.86L283.80 1202.84L284.01 1203.81L284.22 1204.79L284.43 1205.77L284.65 1206.74L284.86 1207.72L285.08 1208.70L285.29 1209.67L285.51 1210.65L285.73 1211.63L285.95 1212.60L286.17 1213.58L286.39 1214.55L286.61 1215.53L286.83 1216.50L287.05 1217.48L287.27 1218.45L287.49 1219.43L287.71 1220.40L287.94 1221.38L288.16 1222.35L288.38 1223.33L288.60 1224.31L288.82 1225.28L289.04 1226.26L289.26 1227.24L289.48 1228.21L289.70 1229.19L289.92 1230.17L290.15 1231.15L290.37 1232.13L290.59 1233.10L290.81 1234.08L291.04 1235.06L291.26 1236.04L291.49 1237.01L291.71 1237.99L291.94 1238.97L292.17 1239.94L292.40 1240.92L292.63 1241.89L292.86 1242.87L293.09 1243.84L293.32 1244.82L293.56 1245.79L293.80 1246.77L294.04 1247.74L294.27 1248.71L294.52 1249.68L294.76 1250.65L295.01 1251.62L295.25 1252.59L295.50 1253.56L295.75 1254.53L296.01 1255.50L296.26 1256.46L296.52 1257.43L296.78 1258.39L297.04 1259.36L297.30 1260.32L297.57 1261.28L297.84 1262.24L298.11 1263.20L298.39 1264.16L298.67 1265.11L298.95 1266.07L299.23 1267.02L299.52 1267.98L299.81 1268.93L300.10 1269.88L300.40 1270.83L300.69 1271.78L300.99 1272.73L301.30 1273.69L301.60 1274.65L301.91 1275.60L302.22 1276.56L302.54 1277.52L302.85 1278.48L303.17 1279.44L303.50 1280.40L303.83 1281.36L304.16 1282.32L304.50 1283.27L304.84 1284.23L305.19 1285.18L305.54 1286.13L305.90 1287.07L306.26 1288.02L306.63 1288.96L307.00 1289.89L307.38 1290.83L307.76 1291.75L308.15 1292.68L308.55 1293.59L308.96 1294.50L309.37 1295.41L309.78 1296.31L310.21 1297.20L310.64 1298.09L311.08 1298.97L311.53 1299.84L311.98 1300.70L312.45 1301.56L312.92 1302.42L313.41 1303.29L313.92 1304.16L314.45 1305.05L314.99 1305.93L315.55 1306.81L316.12 1307.68L316.72 1308.54L317.33 1309.38L317.95 1310.20L318.59 1311.00L319.25 1311.76L319.92 1312.49L320.61 1313.19L321.32 1313.84L322.04 1314.44L322.78 1315.00L323.56 1315.52L324.38 1316.03L325.24 1316.51L326.14 1316.96L327.06 1317.39L328.02 1317.79L328.99 1318.16L329.98 1318.50L330.60 1318.70" fill="none" stroke="#ffff00" stroke-width="10" stroke-linejoin="round" stroke-dasharray="9.4 7.04" stroke-dashoffset="7.14"/>
<path d="M330.60 1318.70L332.60 1318.55L334.60 1318.40L336.60 1318.25L338.60 1318.10L340.60 1317.94L342.60 1317.78L344.60 1317.62L346.60 1317.46L348.60 1317.30L350.60 1317.13L352.60 1316.96L354.60 1316.79L356.60 1316.61L358.60 1316.43L360.60 1316.25L362.60 1316.06L364.60 1315.87L366.60 1315.68L368.60 1315.48L370.60 1315.28L372.60 1315.07L374.60 1314.87L376.60 1314.66L378.60 1314.45L380.60 1314.24L382.60 1314.03L384.60 1313.82L386.60 1313.60L388.60 1313.39L390.60 1313.17L392.60 1312.96L394.60 1312.75L396.60 1312.53L398.60 1312.32L400.60 1312.11L402.60 1311.90L404.60 1311.69L406.60 1311.48L408.60 1311.27L410.60 1311.07L412.60 1310.86L414.60 1310.65L416.60 1310.43L418.60 1310.21L420.60 1309.98L422.60 1309.75L424.60 1309.51L426.60 1309.28L428.60 1309.05L430.60 1308.82L432.60 1308.58L434.60 1308.36L436.60 1308.13L438.60 1307.91L440.60 1307.69L442.60 1307.48L444.60 1307.28L446.60 1307.09L448.60 1306.90L450.60 1306.72L452.60 1306.55L454.60 1306.40L456.60 1306.26L458.60 1306.12L460.60 1306.01L462.60 1305.91L464.60 1305.81L466.60 1305.71L468.60 1305.62L470.60 1305.52L472.60 1305.43L474.60 1305.34L476.60 1305.25L478.60 1305.16L480.60 1305.07L482.60 1304.99L484.60 1304.91L486.60 1304.83L488.60 1304.76L490.60 1304.69L492.60 1304.62L494.60 1304.56L496.60 1304.51L498.60 1304.45L500.60 1304.41L502.60 1304.36L504.60 1304.33L506.60 1304.30L508.60 1304.27L510.60 1304.26L512.60 1304.24L514.60 1304.24L516.60 1304.24L518.60 1304.25L520.60 1304.27L522.60 1304.29L524.60 1304.32L526.60 1304.35L528.60 1304.39L530.60 1304.43L532.60 1304.48L534.60 1304.53L536.60 1304.59L538.60 1304.65L540.60 1304.71L542.60 1304.78L544.60 1304.85L546.60 1304.93L548.60 1305.00L550.60 1305.08L552.60 1305.17L554.60 1305.25L556.60 1305.34L558.60 1305.42L560.60 1305.51L562.60 1305.60L564.60 1305.69L566.60 1305.78L568.60 1305.88L570.60 1305.99L572.60 1306.11L574.60 1306.24L576.60 1306.39L578.60 1306.55L580.60 1306.71L582.60 1306.89L584.60 1307.08L586.60 1307.27L588.60 1307.47L590.60 1307.68L592.60 1307.89L594.60 1308.11L596.60 1308.33L598.60 1308.55L600.60 1308.77L602.60 1309.00L604.60 1309.22L606.60 1309.45L608.60 1309.67L610.60 1309.89L612.60 1310.11L614.60 1310.32L616.60 1310.53L618.60 1310.74L620.60 1310.93L622.60 1311.13L624.60 1311.32L626.60 1311.52L628.60 1311.71L630.60 1311.90L632.60 1312.10L634.60 1312.29L636.60 1312.48L638.60 1312.68L640.60 1312.87L642.60 1313.06L644.60 1313.26L646.60 1313.46L648.60 1313.65L650.60 1313.85L652.60 1314.05L654.60 1314.25L656.60 1314.45L658.60 1314.66L660.60 1314.86L662.60 1315.07L664.60 1315.28L666.60 1315.50L668.60 1315.71L670.60 1315.93L672.60 1316.15L674.60 1316.38L676.60 1316.61L678.60 1316.85L680.60 1317.10L682.60 1317.35L684.60 1317.60L686.60 1317.86L688.60 1318.12L690.60 1318.38L692.60 1318.65L694.60 1318.92L696.60 1319.18L698.60 1319.45L700.60 1319.71L702.60 1319.98L704.60 1320.24L706.60 1320.50L708.60 1320.76L710.60 1321.01L712.60 1321.26L714.60 1321.50L716.60 1321.73L718.60 1321.96L720.60 1322.19L722.60 1322.40L724.60 1322.60L726.60 1322.81L728.60 1323.03L730.60 1323.25L732.60 1323.47L734.60 1323.70L736.60 1323.93L738.60 1324.16L740.60 1324.39L742.60 1324.60L744.60 1324.81L746.60 1325.01L748.60 1325.20L750.60 1325.37L752.60 1325.53L754.60 1325.66L756.60 1325.78L758.60 1325.87L760.60 1325.93L762.60 1325.97L764.60 1325.97L766.60 1325.94L768.60 1325.86L770.60 1325.76L772.60 1325.63L774.60 1325.49L776.60 1325.34L778.60 1325.18L780.60 1325.03L782.60 1324.89L784.60 1324.77L786.60 1324.68L788.60 1324.63L790.60 1324.61L792.60 1324.68L794.60 1324.84L796.60 1325.06L798.60 1325.31L800.00 1325.48" fill="none" stroke="#ffff00" stroke-width="10" stroke-linejoin="round" stroke-dasharray="9.4 7.04" stroke-dashoffset="8.08"/>
<path d="M800.00 1325.48L800.60 1325.56L802.60 1325.78L804.60 1325.95L806.60 1326.06L808.60 1326.15L810.60 1326.24L812.60 1326.31L814.60 1326.37L816.60 1326.44L818.60 1326.50L820.60 1326.57L822.60 1326.65L824.60 1326.74L826.60 1326.85L828.60 1326.97L830.60 1327.10L832.60 1327.24L834.60 1327.39L836.60 1327.56L838.60 1327.73L840.60 1327.92L842.60 1328.11L844.60 1328.31L846.60 1328.52L848.60 1328.74L850.60 1328.97L852.60 1329.20L854.60 1329.44L856.60 1329.68L858.60 1329.93L860.60 1330.19L862.60 1330.45L864.60 1330.71L866.60 1330.97L868.60 1331.24L870.60 1331.51L872.60 1331.79L874.60 1332.06L876.60 1332.34L878.60 1332.61L880.60 1332.89L882.60 1333.16L884.60 1333.44L886.60 1333.71L888.60 1333.98L890.60 1334.25L892.60 1334.51L894.60 1334.77L896.60 1335.03L898.60 1335.28L900.60 1335.53L902.60 1335.77L904.60 1336.01L906.60 1336.24L908.60 1336.47L910.60 1336.71L912.60 1336.94L914.60 1337.17L916.60 1337.41L918.60 1337.64L920.60 1337.88L922.60 1338.11L924.60 1338.34L926.60 1338.58L928.60 1338.81L930.60 1339.05L932.60 1339.28L934.60 1339.52L936.60 1339.75L938.60 1339.99L940.60 1340.22L942.60 1340.46L944.60 1340.69L946.60 1340.93L948.60 1341.16L950.60 1341.40L952.60 1341.63L954.60 1341.87L956.60 1342.10L958.60 1342.33L960.60 1342.57L962.60 1342.80L964.60 1343.03L966.60 1343.26L968.60 1343.49L970.60 1343.72L972.60 1343.95L974.60 1344.18L976.60 1344.41L978.60 1344.64L980.60 1344.87L982.60 1345.10L984.60 1345.32L986.60 1345.55L988.60 1345.77L990.60 1346.00L992.60 1346.22L994.60 1346.44L996.60 1346.67L998.60 1346.89L1000.60 1347.11L1002.60 1347.33L1004.60 1347.55L1006.60 1347.76L1008.60 1347.98L1010.60 1348.19L1012.60 1348.41L1014.60 1348.63L1016.60 1348.85L1018.60 1349.06L1020.60 1349.28L1022.60 1349.50L1024.60 1349.72L1026.60 1349.94L1028.60 1350.16L1030.60 1350.38L1032.60 1350.59L1034.60 1350.81L1036.60 1351.02L1038.60 1351.23L1040.60 1351.44L1042.60 1351.64L1044.60 1351.85L1046.60 1352.05L1048.60 1352.24L1050.60 1352.43L1052.60 1352.62L1054.60 1352.81L1056.60 1352.99L1058.60 1353.16L1060.60 1353.34L1062.60 1353.50L1064.60 1353.67L1066.60 1353.83L1068.60 1354.00L1070.60 1354.17L1072.60 1354.33L1074.60 1354.50L1076.60 1354.66L1078.60 1354.83L1080.60 1354.99L1082.60 1355.15L1084.60 1355.31L1086.60 1355.46L1088.60 1355.61L1090.60 1355.76L1092.60 1355.90L1094.60 1356.04L1096.60 1356.17L1098.60 1356.30L1100.60 1356.42L1102.60 1356.53L1104.60 1356.64L1106.60 1356.74L1108.60 1356.83L1110.60 1356.91L1112.60 1356.98L1114.60 1357.05L1116.60 1357.11L1118.60 1357.17L1120.60 1357.22L1122.60 1357.28L1124.60 1357.33L1126.60 1357.38L1128.60 1357.43L1130.60 1357.47L1132.60 1357.51L1134.60 1357.54L1136.60 1357.56L1138.60 1357.57L1140.60 1357.58L1142.60 1357.58L1144.60 1357.57L1146.60 1357.55L1148.60 1357.52L1150.60 1357.49L1152.60 1357.45L1154.60 1357.40L1156.60 1357.36L1158.60 1357.30L1160.60 1357.25L1162.60 1357.19L1164.60 1357.13L1166.60 1357.08L1168.60 1357.01L1170.60 1356.94L1172.60 1356.86L1174.60 1356.78L1176.60 1356.68L1178.60 1356.57L1180.60 1356.46L1182.60 1356.34L1184.60 1356.21L1186.60 1356.08L1188.60 1355.94L1190.60 1355.79L1192.60 1355.64L1194.60 1355.48L1196.60 1355.31L1198.60 1355.15L1200.60 1354.97L1202.60 1354.80L1204.60 1354.62L1206.60 1354.43L1208.60 1354.25L1210.60 1354.06L1212.60 1353.87L1214.60 1353.68L1216.60 1353.48L1218.60 1353.29L1220.60 1353.09L1222.60 1352.89L1224.60 1352.67L1226.60 1352.44L1228.60 1352.21L1230.60 1351.96L1232.60 1351.71L1234.60 1351.45L1236.60 1351.18L1238.60 1350.90L1240.60 1350.62L1242.60 1350.33L1244.60 1350.03L1246.60 1349.73L1248.60 1349.43L1250.60 1349.12L1252.60 1348.80L1254.60 1348.48L1256.60 1348.16L1258.60 1347.84L1260.60 1347.52L1262.60 1347.19L1264.60 1346.86L1266.60 1346.53L1268.60 1346.20L1270.60 1345.87L1272.60 1345.54L1274.60 1345.21L1276.60 1344.87L1278.60 1344.52L1280.60 1344.16L1282.60 1343.80L1284.60 1343.43L1286.60 1343.05L1288.60 1342.67L1290.60 1342.29L1292.60 1341.90L1294.60 1341.51L1296.60 1341.11L1298.60 1340.72L1300.60 1340.32L1302.60 1339.92L1304.60 1339.52L1306.60 1339.13L1308.60 1338.73L1310.60 1338.33L1312.60 1337.94L1314.60 1337.55L1316.60 1337.16L1318.60 1336.78L1320.60 1336.40L1322.60 1336.02L1324.60 1335.65L1326.60 1335.29L1328.60 1334.94L1330.60 1334.59L1332.60 1334.24L1334.60 1333.91L1336.60 1333.58L1338.60 1333.25L1340.60 1332.92L1342.60 1332.60L1344.60 1332.28L1346.60 1331.96L1348.60 1331.65L1350.60 1331.33L1352.60 1331.01L1354.60 1330.69L1356.60 1330.37L1358.60 1330.05L1360.60 1329.72L1362.60 1329.39L1364.60 1329.06L1366.60 1328.72L1368.60 1328.37L1370.60 1328.02L1372.60 1327.67L1374.60 1327.30L1376.60 1326.92L1378.60 1326.54L1380.60 1326.15L1382.60 1325.75L1384.60 1325.33L1386.60 1324.91L1388.60 1324.47L1390.60 1324.02L1392.60 1323.49L1394.60 1322.88L1396.60 1322.22L1398.60 1321.57L1400.60 1320.95L1402.60 1320.41L1404.60 1319.98L1406.60 1319.67L1408.60 1319.38L1410.60 1319.08L1412.60 1318.80L1414.60 1318.53L1416.60 1318.27L1418.60 1318.02L1420.60 1317.79L1422.60 1317.58L1424.60 1317.38L1426.60 1317.20L1428.60 1317.04L1430.60 1316.91L1432.60 1316.80L1434.60 1316.72L1436.60 1316.66L1438.60 1316.63L1440.00 1316.65" fill="none" stroke="#ffff00" stroke-width="10" stroke-linejoin="round" stroke-dasharray="9.4 7.04" stroke-dashoffset="3.50"/>
<path d="M1440.00 1316.65L1440.60 1316.65L1442.60 1316.78L1444.60 1316.98L1446.60 1317.23L1448.60 1317.49L1450.60 1317.73L1452.60 1317.91L1454.60 1317.99L1456.60 1317.99L1458.60 1317.97L1460.60 1317.93L1462.60 1317.87L1464.60 1317.80L1466.60 1317.72L1468.60 1317.62L1470.60 1317.51L1472.60 1317.39L1474.60 1317.26L1476.60 1317.12L1478.60 1316.97L1480.60 1316.82L1482.60 1316.65L1484.60 1316.49L1486.60 1316.31L1488.60 1316.13L1490.60 1315.95L1492.60 1315.77L1494.60 1315.58L1496.60 1315.40L1498.60 1315.21L1500.60 1315.03L1502.60 1314.85L1504.60 1314.67L1506.60 1314.49L1508.60 1314.30L1510.60 1314.10L1512.60 1313.88L1514.60 1313.66L1516.60 1313.43L1518.60 1313.19L1520.60 1312.94L1522.60 1312.69L1524.60 1312.43L1526.60 1312.16L1528.60 1311.89L1530.60 1311.62L1532.60 1311.34L1534.60 1311.06L1536.60 1310.78L1538.60 1310.50L1540.60 1310.21L1542.60 1309.93L1544.60 1309.65L1546.60 1309.37L1548.60 1309.09L1550.60 1308.82L1552.60 1308.55L1554.60 1308.28L1556.60 1308.02L1558.60 1307.76L1560.60 1307.51L1562.60 1307.25L1564.60 1306.99L1566.60 1306.74L1568.60 1306.48L1570.60 1306.23L1572.60 1305.98L1574.60 1305.72L1576.60 1305.47L1578.60 1305.21L1580.60 1304.96L1582.60 1304.70L1584.60 1304.45L1586.60 1304.19L1588.60 1303.94L1590.60 1303.68L1592.60 1303.43L1594.60 1303.17L1596.60 1302.92L1598.60 1302.66L1600.60 1302.40L1602.60 1302.15L1604.60 1301.89L1606.60 1301.63L1608.60 1301.38L1610.60 1301.12L1612.60 1300.86L1614.60 1300.60L1616.60 1300.33L1618.60 1300.07L1620.60 1299.80L1622.60 1299.53L1624.60 1299.26L1626.60 1299.00L1628.60 1298.73L1630.60 1298.46L1632.60 1298.19L1634.60 1297.92L1636.60 1297.65L1638.60 1297.38L1640.60 1297.12L1642.60 1296.85L1644.60 1296.59L1646.60 1296.33L1648.60 1296.07L1650.60 1295.82L1652.60 1295.56L1654.60 1295.31L1656.60 1295.07L1658.60 1294.82L1660.60 1294.58L1662.60 1294.35L1664.60 1294.11L1666.60 1293.88L1668.60 1293.64L1670.60 1293.41L1672.60 1293.17L1674.60 1292.94L1676.60 1292.70L1678.60 1292.47L1680.60 1292.24L1682.60 1292.01L1684.60 1291.78L1686.60 1291.56L1688.60 1291.33L1690.60 1291.11L1692.60 1290.90L1694.60 1290.69L1696.60 1290.48L1698.60 1290.27L1700.60 1290.07L1702.60 1289.88L1704.60 1289.69L1706.60 1289.50L1708.60 1289.32L1710.60 1289.15L1712.60 1288.98L1714.60 1288.82L1716.60 1288.66L1718.60 1288.51L1720.60 1288.35L1722.60 1288.19L1724.60 1288.03L1726.60 1287.87L1728.60 1287.71L1730.60 1287.56L1732.60 1287.40L1734.60 1287.25L1736.60 1287.10L1738.60 1286.96L1740.60 1286.82L1742.60 1286.68L1744.60 1286.55L1746.60 1286.42L1748.60 1286.30L1750.60 1286.19L1752.60 1286.08L1754.60 1285.98L1756.60 1285.89L1758.60 1285.81L1760.60 1285.73L1762.60 1285.67L1764.60 1285.61L1766.60 1285.56L1768.60 1285.53L1770.60 1285.49L1772.60 1285.45L1774.60 1285.42L1776.60 1285.39L1778.60 1285.36L1780.60 1285.33L1782.60 1285.30L1784.60 1285.28L1786.60 1285.26L1788.60 1285.25L1790.60 1285.24L1792.60 1285.24L1794.60 1285.24L1796.60 1285.25L1798.60 1285.28L1800.60 1285.32L1802.60 1285.37L1804.60 1285.43L1806.60 1285.50L1808.60 1285.58L1810.60 1285.66L1812.60 1285.75L1814.60 1285.83L1816.60 1285.93L1818.60 1286.02L1820.60 1286.11L1822.60 1286.22L1824.60 1286.34L1826.60 1286.47L1828.60 1286.61L1830.60 1286.77L1832.60 1286.94L1834.60 1287.12L1836.60 1287.30L1838.60 1287.50L1840.60 1287.71L1842.60 1287.92L1844.60 1288.14L1846.60 1288.37L1848.60 1288.60L1850.60 1288.84L1852.60 1289.08L1854.60 1289.32L1856.60 1289.57L1858.60 1289.82L1860.60 1290.07L1862.60 1290.33L1864.60 1290.58L1866.60 1290.83L1868.60 1291.09L1870.60 1291.34L1872.60 1291.58L1874.60 1291.84L1876.60 1292.10L1878.60 1292.36L1880.60 1292.64L1882.60 1292.92L1884.60 1293.20L1886.60 1293.49L1888.60 1293.78L1890.60 1294.08L1892.60 1294.39L1894.60 1294.69L1896.60 1295.00L1898.60 1295.32L1900.60 1295.63L1902.60 1295.95L1904.60 1296.27L1906.60 1296.60L1908.60 1296.92L1910.60 1297.24L1912.60 1297.57L1914.60 1297.89L1916.60 1298.22L1918.60 1298.54L1920.60 1298.86L1922.60 1299.18L1924.60 1299.50L1926.60 1299.82L1928.60 1300.15L1930.60 1300.48L1932.60 1300.81L1934.60 1301.15L1936.60 1301.49L1938.60 1301.84L1940.60 1302.19L1942.60 1302.54L1944.60 1302.89L1946.60 1303.24L1948.60 1303.59L1950.60 1303.94L1952.60 1304.29L1954.60 1304.63L1956.60 1304.98L1958.60 1305.32L1960.60 1305.65L1962.60 1305.99L1964.60 1306.32L1966.60 1306.64L1968.60 1306.95L1970.60 1307.26L1972.60 1307.57L1974.60 1307.86L1976.60 1308.15L1978.60 1308.42L1980.60 1308.68L1982.60 1308.93L1984.60 1309.16L1986.60 1309.39L1988.60 1309.62L1990.60 1309.84L1992.60 1310.07L1994.60 1310.31L1996.60 1310.56L1998.60 1310.82L2000.60 1311.10L2002.60 1311.40L2004.60 1311.71L2006.60 1312.03L2008.60 1312.37L2010.60 1312.71L2012.60 1313.07L2014.60 1313.44L2016.60 1313.82L2018.60 1314.20L2020.60 1314.60L2022.60 1315.00L2024.60 1315.41L2026.60 1315.83L2028.60 1316.26L2030.60 1316.69L2032.60 1317.13L2034.60 1317.57L2036.60 1318.02L2038.60 1318.47L2040.60 1318.92L2042.60 1319.38L2044.60 1319.84L2046.60 1320.30L2048.60 1320.76L2050.60 1321.23L2052.60 1321.69L2054.60 1322.16L2056.60 1322.67L2058.60 1323.23L2060.60 1323.82L2062.60 1324.43L2064.60 1325.01L2066.60 1325.57L2068.60 1326.06L2070.60 1326.48L2072.60 1326.80L2074.60 1327.06L2076.60 1327.31L2078.60 1327.54L2080.60 1327.75L2082.60 1327.93L2084.60 1328.07L2086.60 1328.15L2088.60 1328.18L2090.60 1328.07L2092.60 1327.82L2094.60 1327.46L2096.60 1327.04L2098.60 1326.59L2100.60 1326.17L2102.60 1325.81L2104.60 1325.56L2106.60 1325.45L2108.60 1325.47L2110.60 1325.55L2112.60 1325.67L2114.60 1325.83L2116.60 1326.02L2118.60 1326.25L2120.60 1326.49L2122.60 1326.76L2124.60 1327.03L2126.60 1327.31L2128.60 1327.59L2130.60 1327.87L2132.60 1328.13L2134.60 1328.39L2136.60 1328.66L2138.60 1328.95L2140.60 1329.25L2142.60 1329.56L2144.60 1329.89L2146.60 1330.21L2148.60 1330.54L2150.60 1330.88L2152.60 1331.21L2154.60 1331.54L2156.60 1331.86L2158.60 1332.18L2160.60 1332.49L2162.60 1332.80L2164.60 1333.11L2166.60 1333.42L2168.60 1333.73L2170.60 1334.03L2172.60 1334.34L2174.60 1334.65L2176.60 1334.96L2178.60 1335.27L2180.60 1335.57L2182.60 1335.88L2184.60 1336.19L2186.60 1336.49L2188.60 1336.80L2190.60 1337.10L2192.60 1337.41L2194.60 1337.71L2196.60 1338.02L2198.60 1338.32L2200.60 1338.63L2202.60 1338.93L2204.60 1339.23L2206.60 1339.54L2208.60 1339.84L2210.60 1340.14L2212.60 1340.45L2214.60 1340.75L2216.60 1341.05L2218.60 1341.35L2220.60 1341.65L2222.60 1341.95L2224.60 1342.25L2226.00 1342.46" fill="none" stroke="#ffff00" stroke-width="10" stroke-linejoin="round" stroke-dasharray="9.4 7.04" stroke-dashoffset="9.42"/>
<path d="M213.00 1323.20L214.00 900.00L214.30 845.00L216.30 829.00L216.59 829.96L216.87 830.92L217.16 831.87L217.45 832.83L217.74 833.79L218.04 834.74" fill="none" stroke="#008000" stroke-width="10" stroke-linejoin="round" stroke-dasharray="9.2 7.2" stroke-dashoffset="0.00"/>
<path d="M216.30 829.00L216.59 829.96L216.87 830.92L217.16 831.87L217.45 832.83L217.74 833.79L218.04 834.74L218.33 835.70L218.62 836.66L218.92 837.61L219.22 838.57L219.52 839.52L219.82 840.47L220.12 841.43L220.42 842.38L220.73 843.33L221.04 844.28L221.36 845.23L221.68 846.18L222.00 847.13L222.33 848.07L222.65 849.02L222.98 849.97L223.30 850.91L223.62 851.86L223.94 852.81L224.26 853.76L224.57 854.71L224.88 855.66L225.18 856.61L225.47 857.57L225.75 858.52L226.03 859.48L226.31 860.44L226.59 861.40L226.86 862.36L227.14 863.32L227.41 864.28L227.68 865.24L227.95 866.20L228.22 867.16L228.49 868.12L228.76 869.09L229.03 870.05L229.30 871.01L229.57 871.98L229.83 872.94L230.09 873.91L230.36 874.87L230.62 875.84L230.88 876.80L231.14 877.77L231.40 878.73L231.66 879.70L231.92 880.67L232.17 881.64L232.43 882.60L232.68 883.57L232.94 884.54L233.19 885.51L233.44 886.48L233.69 887.45L233.94 888.42L234.19 889.39L234.44 890.36L234.68 891.33L234.93 892.30L235.17 893.27L235.42 894.24L235.66 895.21L235.90 896.19L236.14 897.16L236.38 898.13L236.62 899.10L236.85 900.08L237.09 901.05L237.32 902.02L237.56 903.00L237.79 903.97L238.02 904.95L238.25 905.92L238.48 906.90L238.71 907.87L238.94 908.85L239.17 909.82L239.39 910.80L239.62 911.77L239.84 912.75L240.06 913.72L240.28 914.70L240.50 915.68L240.72 916.65L240.94 917.63L241.16 918.61L241.37 919.58L241.59 920.56L241.80 921.54L242.01 922.52L242.22 923.49L242.43 924.47L242.64 925.45L242.85 926.43L243.06 927.40L243.26 928.38L243.46 929.36L243.67 930.34L243.87 931.32L244.07 932.30L244.27 933.27L244.47 934.25L244.67 935.23L244.86 936.21L245.06 937.19L245.25 938.17L245.44 939.15L245.63 940.13L245.82 941.11L246.01 942.09L246.19 943.07L246.38 944.05L246.56 945.03L246.74 946.01L246.92 947.00L247.09 947.98L247.27 948.96L247.44 949.95L247.62 950.93L247.79 951.91L247.96 952.90L248.13 953.88L248.30 954.87L248.46 955.86L248.63 956.84L248.79 957.83L248.96 958.81L249.12 959.80L249.28 960.79L249.44 961.77L249.60 962.76L249.76 963.75L249.92 964.74L250.08 965.72L250.24 966.71L250.40 967.70L250.55 968.69L250.71 969.68L250.86 970.66L251.02 971.65L251.17 972.64L251.33 973.63L251.48 974.62L251.63 975.61L251.79 976.60L251.94 977.59L252.09 978.58L252.24 979.56L252.40 980.55L252.55 981.54L252.70 982.53L252.85 983.52L253.01 984.51L253.16 985.50L253.31 986.49L253.47 987.48L253.62 988.47L253.77 989.46L253.93 990.45L254.08 991.43L254.24 992.42L254.39 993.41L254.55 994.40L254.70 995.39L254.86 996.38L255.02 997.37L255.18 998.35L255.34 999.34L255.50 1000.33L255.66 1001.32L255.82 1002.30L255.98 1003.29L256.15 1004.28L256.31 1005.26L256.48 1006.25L256.64 1007.24L256.81 1008.22L256.98 1009.21L257.15 1010.19L257.32 1011.18L257.50 1012.16L257.67 1013.15L257.84 1014.13L258.02 1015.12L258.20 1016.10L258.38 1017.08L258.56 1018.07L258.74 1019.05L258.93 1020.03L259.11 1021.02L259.30 1022.00L259.48 1022.98L259.67 1023.96L259.86 1024.94L260.05 1025.93L260.24 1026.91L260.43 1027.89L260.62 1028.87L260.81 1029.85L261.01 1030.83L261.20 1031.81L261.40 1032.79L261.59 1033.77L261.79 1034.75L261.98 1035.74L262.18 1036.72L262.38 1037.70L262.58 1038.68L262.78 1039.66L262.98 1040.64L263.18 1041.62L263.38 1042.60L263.58 1043.58L263.78 1044.56L263.98 1045.54L264.18 1046.51L264.38 1047.49L264.58 1048.47L264.79 1049.45L264.99 1050.43L265.19 1051.41L265.39 1052.39L265.60 1053.37L265.80 1054.35L266.00 1055.33L266.20 1056.31L266.40 1057.29L266.61 1058.27L266.81 1059.25L267.01 1060.23L267.21 1061.21L267.41 1062.19L267.61 1063.17L267.81 1064.15L268.01 1065.13L268.21 1066.11L268.41 1067.09L268.61 1068.07L268.81 1069.05L269.00 1070.03L269.20 1071.01L269.40 1071.99L269.59 1072.97L269.79 1073.95L269.98 1074.93L270.18 1075.91L270.37 1076.90L270.56 1077.88L270.75 1078.86L270.94 1079.84L271.13 1080.82L271.32 1081.80L271.51 1082.79L271.69 1083.77L271.88 1084.75L272.07 1085.73L272.25 1086.72L272.44 1087.70L272.62 1088.68L272.80 1089.66L272.99 1090.65L273.17 1091.63L273.35 1092.61L273.53 1093.60L273.71 1094.58L273.90 1095.56L274.08 1096.55L274.26 1097.53L274.43 1098.52L274.61 1099.50L274.79 1100.48L274.97 1101.47L275.15 1102.45L275.33 1103.44L275.50 1104.42L275.68 1105.40L275.86 1106.39L276.03 1107.37L276.21 1108.36L276.39 1109.34L276.56 1110.33L276.74 1111.31L276.91 1112.30L277.09 1113.28L277.27 1114.27L277.44 1115.25L277.62 1116.23L277.79 1117.22L277.97 1118.20L278.14 1119.19L278.32 1120.17L278.49 1121.16L278.67 1122.14L278.84 1123.13L279.02 1124.11L279.19 1125.10L279.37 1126.08L279.54 1127.07L279.72 1128.05L279.89 1129.04L280.07 1130.02L280.24 1131.00L280.42 1131.99L280.59 1132.97L280.77 1133.96L280.95 1134.94L281.12 1135.93L281.30 1136.91L281.48 1137.90L281.65 1138.88L281.83 1139.86L282.01 1140.85L282.19 1141.83L282.37 1142.82L282.55 1143.80L282.73 1144.78L282.91 1145.77L283.09 1146.75L283.27 1147.73L283.45 1148.72L283.63 1149.70L283.81 1150.68L283.99 1151.67L284.18 1152.65L284.36 1153.63L284.55 1154.62L284.73 1155.60L284.92 1156.58L285.10 1157.56L285.29 1158.55L285.48 1159.53L285.66 1160.51L285.85 1161.49L286.04 1162.47L286.23 1163.45L286.42 1164.44L286.61 1165.42L286.80 1166.40L287.00 1167.38L287.19 1168.36L287.38 1169.34L287.58 1170.32L287.77 1171.30L287.97 1172.28L288.16 1173.26L288.36 1174.24L288.56 1175.23L288.75 1176.21L288.95 1177.19L289.15 1178.17L289.35 1179.15L289.54 1180.13L289.74 1181.11L289.94 1182.09L290.14 1183.07L290.34 1184.05L290.54 1185.03L290.75 1186.01L290.95 1186.99L291.15 1187.97L291.35 1188.95L291.56 1189.93L291.76 1190.90L291.96 1191.88L292.17 1192.86L292.38 1193.84L292.58 1194.82L292.79 1195.80L293.00 1196.78L293.20 1197.76L293.41 1198.73L293.62 1199.71L293.83 1200.69L294.04 1201.67L294.25 1202.64L294.47 1203.62L294.68 1204.60L294.89 1205.58L295.11 1206.55L295.32 1207.53L295.54 1208.51L295.75 1209.48L295.97 1210.46L296.19 1211.43L296.40 1212.41L296.62 1213.39L296.84 1214.36L297.06 1215.34L297.28 1216.31L297.51 1217.29L297.73 1218.26L297.95 1219.23L298.18 1220.21L298.40 1221.18L298.63 1222.16L298.86 1223.13L299.08 1224.10L299.31 1225.08L299.54 1226.05L299.77 1227.02L300.01 1227.99L300.24 1228.97L300.47 1229.94L300.71 1230.91L300.94 1231.88L301.18 1232.85L301.41 1233.83L301.65 1234.80L301.89 1235.77L302.13 1236.74L302.37 1237.71L302.61 1238.68L302.85 1239.65L303.09 1240.62L303.33 1241.59L303.58 1242.56L303.82 1243.53L304.06 1244.50L304.31 1245.47L304.55 1246.44L304.80 1247.41L305.05 1248.38L305.29 1249.35L305.54 1250.32L305.79 1251.29L306.03 1252.26L306.28 1253.23L306.53 1254.20L306.78 1255.17L307.03 1256.14L307.28 1257.10L307.53 1258.07L307.78 1259.04L308.04 1260.01L308.29 1260.98L308.54 1261.94L308.79 1262.91L309.04 1263.88L309.30 1264.85L309.55 1265.81L309.80 1266.78L310.06 1267.75L310.31 1268.72L310.56 1269.68L310.82 1270.65L311.07 1271.62L311.33 1272.58L311.58 1273.55L311.83 1274.52L312.08 1275.49L312.34 1276.46L312.59 1277.42L312.84 1278.39L313.10 1279.36L313.35 1280.33L313.61 1281.29L313.86 1282.26L314.12 1283.23L314.38 1284.20L314.64 1285.16L314.90 1286.13L315.16 1287.09L315.42 1288.06L315.69 1289.02L315.95 1289.99L316.22 1290.95L316.49 1291.92L316.76 1292.88L317.03 1293.84L317.31 1294.80L317.59 1295.76L317.87 1296.72L318.15 1297.68L318.44 1298.64L318.72 1299.59L319.01 1300.55L319.31 1301.50L319.60 1302.47L319.88 1303.47L320.15 1304.50L320.41 1305.54L320.68 1306.59L320.95 1307.63L321.23 1308.67L321.53 1309.68L321.84 1310.66L322.17 1311.60L322.54 1312.49L322.93 1313.32L323.36 1314.08L323.83 1314.77L324.38 1315.39L325.06 1315.98L325.84 1316.54L326.72 1317.06L327.67 1317.55L328.67 1317.99L329.71 1318.40L330.60 1318.70" fill="none" stroke="#008000" stroke-width="10" stroke-linejoin="round" stroke-dasharray="9.4 7.04" stroke-dashoffset="7.14"/>
<path d="M330.60 1318.70L332.60 1318.55L334.60 1318.40L336.60 1318.25L338.60 1318.10L340.60 1317.94L342.60 1317.79L344.60 1317.63L346.60 1317.47L348.60 1317.30L350.60 1317.14L352.60 1316.97L354.60 1316.80L356.60 1316.62L358.60 1316.44L360.60 1316.26L362.60 1316.08L364.60 1315.89L366.60 1315.70L368.60 1315.50L370.60 1315.31L372.60 1315.11L374.60 1314.90L376.60 1314.70L378.60 1314.49L380.60 1314.29L382.60 1314.08L384.60 1313.87L386.60 1313.66L388.60 1313.45L390.60 1313.24L392.60 1313.03L394.60 1312.81L396.60 1312.60L398.60 1312.39L400.60 1312.19L402.60 1311.98L404.60 1311.77L406.60 1311.57L408.60 1311.37L410.60 1311.17L412.60 1310.96L414.60 1310.75L416.60 1310.53L418.60 1310.31L420.60 1310.09L422.60 1309.86L424.60 1309.63L426.60 1309.40L428.60 1309.17L430.60 1308.94L432.60 1308.71L434.60 1308.48L436.60 1308.26L438.60 1308.04L440.60 1307.83L442.60 1307.62L444.60 1307.42L446.60 1307.23L448.60 1307.04L450.60 1306.87L452.60 1306.70L454.60 1306.55L456.60 1306.41L458.60 1306.28L460.60 1306.16L462.60 1306.06L464.60 1305.97L466.60 1305.87L468.60 1305.78L470.60 1305.68L472.60 1305.59L474.60 1305.50L476.60 1305.41L478.60 1305.32L480.60 1305.24L482.60 1305.16L484.60 1305.08L486.60 1305.00L488.60 1304.93L490.60 1304.86L492.60 1304.79L494.60 1304.73L496.60 1304.68L498.60 1304.62L500.60 1304.58L502.60 1304.54L504.60 1304.50L506.60 1304.47L508.60 1304.45L510.60 1304.43L512.60 1304.42L514.60 1304.41L516.60 1304.41L518.60 1304.42L520.60 1304.44L522.60 1304.46L524.60 1304.49L526.60 1304.52L528.60 1304.56L530.60 1304.60L532.60 1304.65L534.60 1304.70L536.60 1304.76L538.60 1304.82L540.60 1304.88L542.60 1304.95L544.60 1305.02L546.60 1305.09L548.60 1305.17L550.60 1305.25L552.60 1305.33L554.60 1305.41L556.60 1305.50L558.60 1305.58L560.60 1305.67L562.60 1305.76L564.60 1305.85L566.60 1305.94L568.60 1306.03L570.60 1306.14L572.60 1306.26L574.60 1306.39L576.60 1306.54L578.60 1306.70L580.60 1306.86L582.60 1307.04L584.60 1307.22L586.60 1307.41L588.60 1307.61L590.60 1307.82L592.60 1308.03L594.60 1308.24L596.60 1308.46L598.60 1308.68L600.60 1308.90L602.60 1309.12L604.60 1309.35L606.60 1309.57L608.60 1309.79L610.60 1310.01L612.60 1310.23L614.60 1310.44L616.60 1310.64L618.60 1310.85L620.60 1311.04L622.60 1311.24L624.60 1311.43L626.60 1311.62L628.60 1311.81L630.60 1312.00L632.60 1312.19L634.60 1312.38L636.60 1312.58L638.60 1312.77L640.60 1312.96L642.60 1313.15L644.60 1313.35L646.60 1313.54L648.60 1313.73L650.60 1313.93L652.60 1314.13L654.60 1314.33L656.60 1314.53L658.60 1314.73L660.60 1314.93L662.60 1315.14L664.60 1315.35L666.60 1315.56L668.60 1315.77L670.60 1315.99L672.60 1316.21L674.60 1316.43L676.60 1316.66L678.60 1316.90L680.60 1317.14L682.60 1317.39L684.60 1317.65L686.60 1317.90L688.60 1318.16L690.60 1318.42L692.60 1318.68L694.60 1318.95L696.60 1319.21L698.60 1319.48L700.60 1319.74L702.60 1320.00L704.60 1320.26L706.60 1320.52L708.60 1320.77L710.60 1321.02L712.60 1321.27L714.60 1321.51L716.60 1321.74L718.60 1321.97L720.60 1322.19L722.60 1322.40L724.60 1322.60L726.60 1322.81L728.60 1323.02L730.60 1323.24L732.60 1323.46L734.60 1323.69L736.60 1323.92L738.60 1324.14L740.60 1324.37L742.60 1324.58L744.60 1324.79L746.60 1324.99L748.60 1325.17L750.60 1325.34L752.60 1325.50L754.60 1325.63L756.60 1325.74L758.60 1325.83L760.60 1325.90L762.60 1325.93L764.60 1325.94L766.60 1325.90L768.60 1325.83L770.60 1325.73L772.60 1325.60L774.60 1325.46L776.60 1325.31L778.60 1325.15L780.60 1325.00L782.60 1324.87L784.60 1324.75L786.60 1324.66L788.60 1324.60L790.60 1324.59L792.60 1324.66L794.60 1324.82L796.60 1325.03L798.60 1325.28L800.00 1325.45" fill="none" stroke="#008000" stroke-width="10" stroke-linejoin="round" stroke-dasharray="9.4 7.04" stroke-dashoffset="0.49"/>
<path d="M800.00 1325.45L800.60 1325.53L802.60 1325.75L804.60 1325.92L806.60 1326.03L808.60 1326.12L810.60 1326.20L812.60 1326.27L814.60 1326.33L816.60 1326.40L818.60 1326.46L820.60 1326.53L822.60 1326.61L824.60 1326.70L826.60 1326.80L828.60 1326.92L830.60 1327.05L832.60 1327.19L834.60 1327.35L836.60 1327.51L838.60 1327.68L840.60 1327.86L842.60 1328.06L844.60 1328.26L846.60 1328.47L848.60 1328.68L850.60 1328.90L852.60 1329.13L854.60 1329.37L856.60 1329.61L858.60 1329.86L860.60 1330.11L862.60 1330.37L864.60 1330.63L866.60 1330.89L868.60 1331.16L870.60 1331.43L872.60 1331.70L874.60 1331.97L876.60 1332.24L878.60 1332.51L880.60 1332.79L882.60 1333.06L884.60 1333.33L886.60 1333.60L888.60 1333.87L890.60 1334.13L892.60 1334.39L894.60 1334.65L896.60 1334.91L898.60 1335.16L900.60 1335.40L902.60 1335.64L904.60 1335.88L906.60 1336.11L908.60 1336.34L910.60 1336.57L912.60 1336.80L914.60 1337.03L916.60 1337.26L918.60 1337.49L920.60 1337.73L922.60 1337.96L924.60 1338.19L926.60 1338.42L928.60 1338.66L930.60 1338.89L932.60 1339.12L934.60 1339.36L936.60 1339.59L938.60 1339.82L940.60 1340.05L942.60 1340.29L944.60 1340.52L946.60 1340.75L948.60 1340.98L950.60 1341.22L952.60 1341.45L954.60 1341.68L956.60 1341.91L958.60 1342.14L960.60 1342.37L962.60 1342.60L964.60 1342.83L966.60 1343.06L968.60 1343.29L970.60 1343.52L972.60 1343.75L974.60 1343.98L976.60 1344.20L978.60 1344.43L980.60 1344.65L982.60 1344.88L984.60 1345.10L986.60 1345.33L988.60 1345.55L990.60 1345.77L992.60 1345.99L994.60 1346.21L996.60 1346.43L998.60 1346.65L1000.60 1346.87L1002.60 1347.09L1004.60 1347.31L1006.60 1347.52L1008.60 1347.73L1010.60 1347.95L1012.60 1348.16L1014.60 1348.38L1016.60 1348.59L1018.60 1348.81L1020.60 1349.03L1022.60 1349.24L1024.60 1349.46L1026.60 1349.68L1028.60 1349.89L1030.60 1350.11L1032.60 1350.32L1034.60 1350.53L1036.60 1350.75L1038.60 1350.95L1040.60 1351.16L1042.60 1351.36L1044.60 1351.56L1046.60 1351.76L1048.60 1351.96L1050.60 1352.15L1052.60 1352.34L1054.60 1352.52L1056.60 1352.70L1058.60 1352.87L1060.60 1353.04L1062.60 1353.20L1064.60 1353.37L1066.60 1353.53L1068.60 1353.70L1070.60 1353.86L1072.60 1354.03L1074.60 1354.19L1076.60 1354.36L1078.60 1354.52L1080.60 1354.68L1082.60 1354.84L1084.60 1354.99L1086.60 1355.15L1088.60 1355.30L1090.60 1355.44L1092.60 1355.58L1094.60 1355.72L1096.60 1355.85L1098.60 1355.98L1100.60 1356.09L1102.60 1356.21L1104.60 1356.31L1106.60 1356.41L1108.60 1356.50L1110.60 1356.58L1112.60 1356.65L1114.60 1356.72L1116.60 1356.78L1118.60 1356.83L1120.60 1356.89L1122.60 1356.95L1124.60 1357.00L1126.60 1357.05L1128.60 1357.09L1130.60 1357.14L1132.60 1357.17L1134.60 1357.20L1136.60 1357.22L1138.60 1357.24L1140.60 1357.24L1142.60 1357.24L1144.60 1357.23L1146.60 1357.21L1148.60 1357.18L1150.60 1357.15L1152.60 1357.11L1154.60 1357.07L1156.60 1357.02L1158.60 1356.97L1160.60 1356.92L1162.60 1356.86L1164.60 1356.80L1166.60 1356.74L1168.60 1356.68L1170.60 1356.61L1172.60 1356.54L1174.60 1356.45L1176.60 1356.35L1178.60 1356.25L1180.60 1356.13L1182.60 1356.02L1184.60 1355.89L1186.60 1355.76L1188.60 1355.62L1190.60 1355.47L1192.60 1355.32L1194.60 1355.16L1196.60 1355.00L1198.60 1354.83L1200.60 1354.66L1202.60 1354.49L1204.60 1354.31L1206.60 1354.13L1208.60 1353.94L1210.60 1353.76L1212.60 1353.57L1214.60 1353.38L1216.60 1353.19L1218.60 1352.99L1220.60 1352.80L1222.60 1352.59L1224.60 1352.38L1226.60 1352.16L1228.60 1351.92L1230.60 1351.68L1232.60 1351.43L1234.60 1351.17L1236.60 1350.90L1238.60 1350.63L1240.60 1350.35L1242.60 1350.06L1244.60 1349.77L1246.60 1349.47L1248.60 1349.17L1250.60 1348.86L1252.60 1348.55L1254.60 1348.24L1256.60 1347.92L1258.60 1347.60L1260.60 1347.28L1262.60 1346.95L1264.60 1346.63L1266.60 1346.30L1268.60 1345.97L1270.60 1345.65L1272.60 1345.32L1274.60 1344.99L1276.60 1344.65L1278.60 1344.31L1280.60 1343.95L1282.60 1343.59L1284.60 1343.23L1286.60 1342.85L1288.60 1342.48L1290.60 1342.10L1292.60 1341.71L1294.60 1341.32L1296.60 1340.93L1298.60 1340.54L1300.60 1340.15L1302.60 1339.75L1304.60 1339.36L1306.60 1338.97L1308.60 1338.57L1310.60 1338.18L1312.60 1337.79L1314.60 1337.40L1316.60 1337.02L1318.60 1336.64L1320.60 1336.26L1322.60 1335.89L1324.60 1335.53L1326.60 1335.17L1328.60 1334.82L1330.60 1334.47L1332.60 1334.13L1334.60 1333.80L1336.60 1333.47L1338.60 1333.14L1340.60 1332.82L1342.60 1332.50L1344.60 1332.19L1346.60 1331.87L1348.60 1331.56L1350.60 1331.24L1352.60 1330.93L1354.60 1330.61L1356.60 1330.30L1358.60 1329.98L1360.60 1329.65L1362.60 1329.33L1364.60 1328.99L1366.60 1328.66L1368.60 1328.32L1370.60 1327.97L1372.60 1327.61L1374.60 1327.25L1376.60 1326.88L1378.60 1326.50L1380.60 1326.11L1382.60 1325.71L1384.60 1325.30L1386.60 1324.88L1388.60 1324.45L1390.60 1324.00L1392.60 1323.48L1394.60 1322.87L1396.60 1322.22L1398.60 1321.57L1400.60 1320.96L1402.60 1320.43L1404.60 1320.01L1406.60 1319.70L1408.60 1319.40L1410.60 1319.12L1412.60 1318.84L1414.60 1318.57L1416.60 1318.31L1418.60 1318.06L1420.60 1317.83L1422.60 1317.62L1424.60 1317.43L1426.60 1317.25L1428.60 1317.09L1430.60 1316.96L1432.60 1316.85L1434.60 1316.77L1436.60 1316.71L1438.60 1316.69L1440.00 1316.70" fill="none" stroke="#008000" stroke-width="10" stroke-linejoin="round" stroke-dasharray="9.4 7.04" stroke-dashoffset="12.37"/>
<path d="M1440.00 1316.70L1440.60 1316.71L1442.60 1316.83L1444.60 1317.03L1446.60 1317.28L1448.60 1317.54L1450.60 1317.77L1452.60 1317.95L1454.60 1318.03L1456.60 1318.03L1458.60 1318.01L1460.60 1317.97L1462.60 1317.91L1464.60 1317.84L1466.60 1317.76L1468.60 1317.67L1470.60 1317.56L1472.60 1317.44L1474.60 1317.31L1476.60 1317.17L1478.60 1317.02L1480.60 1316.87L1482.60 1316.71L1484.60 1316.54L1486.60 1316.37L1488.60 1316.19L1490.60 1316.01L1492.60 1315.83L1494.60 1315.65L1496.60 1315.46L1498.60 1315.28L1500.60 1315.10L1502.60 1314.92L1504.60 1314.74L1506.60 1314.56L1508.60 1314.38L1510.60 1314.17L1512.60 1313.96L1514.60 1313.74L1516.60 1313.51L1518.60 1313.28L1520.60 1313.03L1522.60 1312.78L1524.60 1312.52L1526.60 1312.26L1528.60 1311.99L1530.60 1311.72L1532.60 1311.45L1534.60 1311.17L1536.60 1310.89L1538.60 1310.61L1540.60 1310.33L1542.60 1310.05L1544.60 1309.77L1546.60 1309.49L1548.60 1309.22L1550.60 1308.95L1552.60 1308.68L1554.60 1308.41L1556.60 1308.15L1558.60 1307.90L1560.60 1307.65L1562.60 1307.39L1564.60 1307.14L1566.60 1306.89L1568.60 1306.64L1570.60 1306.38L1572.60 1306.13L1574.60 1305.88L1576.60 1305.63L1578.60 1305.37L1580.60 1305.12L1582.60 1304.87L1584.60 1304.62L1586.60 1304.36L1588.60 1304.11L1590.60 1303.86L1592.60 1303.61L1594.60 1303.35L1596.60 1303.10L1598.60 1302.85L1600.60 1302.59L1602.60 1302.34L1604.60 1302.08L1606.60 1301.83L1608.60 1301.57L1610.60 1301.32L1612.60 1301.06L1614.60 1300.80L1616.60 1300.54L1618.60 1300.28L1620.60 1300.01L1622.60 1299.75L1624.60 1299.48L1626.60 1299.22L1628.60 1298.95L1630.60 1298.68L1632.60 1298.42L1634.60 1298.15L1636.60 1297.89L1638.60 1297.62L1640.60 1297.36L1642.60 1297.10L1644.60 1296.84L1646.60 1296.58L1648.60 1296.32L1650.60 1296.07L1652.60 1295.82L1654.60 1295.57L1656.60 1295.32L1658.60 1295.08L1660.60 1294.85L1662.60 1294.61L1664.60 1294.38L1666.60 1294.15L1668.60 1293.91L1670.60 1293.68L1672.60 1293.45L1674.60 1293.22L1676.60 1292.98L1678.60 1292.75L1680.60 1292.52L1682.60 1292.30L1684.60 1292.07L1686.60 1291.85L1688.60 1291.63L1690.60 1291.41L1692.60 1291.20L1694.60 1290.99L1696.60 1290.78L1698.60 1290.58L1700.60 1290.38L1702.60 1290.19L1704.60 1290.00L1706.60 1289.81L1708.60 1289.64L1710.60 1289.46L1712.60 1289.30L1714.60 1289.14L1716.60 1288.98L1718.60 1288.83L1720.60 1288.67L1722.60 1288.51L1724.60 1288.35L1726.60 1288.20L1728.60 1288.04L1730.60 1287.89L1732.60 1287.73L1734.60 1287.58L1736.60 1287.44L1738.60 1287.29L1740.60 1287.16L1742.60 1287.02L1744.60 1286.89L1746.60 1286.77L1748.60 1286.65L1750.60 1286.53L1752.60 1286.43L1754.60 1286.33L1756.60 1286.24L1758.60 1286.16L1760.60 1286.08L1762.60 1286.02L1764.60 1285.96L1766.60 1285.91L1768.60 1285.88L1770.60 1285.84L1772.60 1285.80L1774.60 1285.77L1776.60 1285.74L1778.60 1285.71L1780.60 1285.68L1782.60 1285.66L1784.60 1285.63L1786.60 1285.62L1788.60 1285.60L1790.60 1285.59L1792.60 1285.59L1794.60 1285.59L1796.60 1285.61L1798.60 1285.63L1800.60 1285.67L1802.60 1285.72L1804.60 1285.78L1806.60 1285.85L1808.60 1285.93L1810.60 1286.01L1812.60 1286.09L1814.60 1286.18L1816.60 1286.27L1818.60 1286.36L1820.60 1286.46L1822.60 1286.56L1824.60 1286.68L1826.60 1286.81L1828.60 1286.95L1830.60 1287.11L1832.60 1287.28L1834.60 1287.45L1836.60 1287.64L1838.60 1287.83L1840.60 1288.04L1842.60 1288.25L1844.60 1288.47L1846.60 1288.69L1848.60 1288.92L1850.60 1289.15L1852.60 1289.39L1854.60 1289.64L1856.60 1289.88L1858.60 1290.13L1860.60 1290.38L1862.60 1290.63L1864.60 1290.88L1866.60 1291.13L1868.60 1291.38L1870.60 1291.63L1872.60 1291.88L1874.60 1292.13L1876.60 1292.38L1878.60 1292.65L1880.60 1292.92L1882.60 1293.19L1884.60 1293.48L1886.60 1293.76L1888.60 1294.06L1890.60 1294.35L1892.60 1294.65L1894.60 1294.96L1896.60 1295.26L1898.60 1295.58L1900.60 1295.89L1902.60 1296.20L1904.60 1296.52L1906.60 1296.84L1908.60 1297.16L1910.60 1297.48L1912.60 1297.80L1914.60 1298.12L1916.60 1298.44L1918.60 1298.76L1920.60 1299.08L1922.60 1299.40L1924.60 1299.72L1926.60 1300.03L1928.60 1300.36L1930.60 1300.68L1932.60 1301.02L1934.60 1301.35L1936.60 1301.69L1938.60 1302.03L1940.60 1302.38L1942.60 1302.72L1944.60 1303.07L1946.60 1303.42L1948.60 1303.77L1950.60 1304.11L1952.60 1304.46L1954.60 1304.80L1956.60 1305.14L1958.60 1305.48L1960.60 1305.81L1962.60 1306.14L1964.60 1306.47L1966.60 1306.79L1968.60 1307.10L1970.60 1307.41L1972.60 1307.71L1974.60 1308.00L1976.60 1308.28L1978.60 1308.55L1980.60 1308.81L1982.60 1309.05L1984.60 1309.29L1986.60 1309.51L1988.60 1309.74L1990.60 1309.96L1992.60 1310.19L1994.60 1310.43L1996.60 1310.67L1998.60 1310.93L2000.60 1311.21L2002.60 1311.50L2004.60 1311.81L2006.60 1312.13L2008.60 1312.46L2010.60 1312.81L2012.60 1313.16L2014.60 1313.52L2016.60 1313.90L2018.60 1314.28L2020.60 1314.67L2022.60 1315.07L2024.60 1315.48L2026.60 1315.89L2028.60 1316.32L2030.60 1316.74L2032.60 1317.18L2034.60 1317.61L2036.60 1318.06L2038.60 1318.50L2040.60 1318.95L2042.60 1319.41L2044.60 1319.86L2046.60 1320.32L2048.60 1320.78L2050.60 1321.24L2052.60 1321.70L2054.60 1322.16L2056.60 1322.67L2058.60 1323.22L2060.60 1323.81L2062.60 1324.41L2064.60 1324.99L2066.60 1325.54L2068.60 1326.03L2070.60 1326.44L2072.60 1326.76L2074.60 1327.01L2076.60 1327.26L2078.60 1327.49L2080.60 1327.70L2082.60 1327.88L2084.60 1328.01L2086.60 1328.10L2088.60 1328.12L2090.60 1328.02L2092.60 1327.77L2094.60 1327.41L2096.60 1326.99L2098.60 1326.55L2100.60 1326.13L2102.60 1325.78L2104.60 1325.53L2106.60 1325.42L2108.60 1325.44L2110.60 1325.52L2112.60 1325.64L2114.60 1325.79L2116.60 1325.99L2118.60 1326.21L2120.60 1326.45L2122.60 1326.72L2124.60 1326.99L2126.60 1327.27L2128.60 1327.54L2130.60 1327.81L2132.60 1328.07L2134.60 1328.33L2136.60 1328.60L2138.60 1328.89L2140.60 1329.18L2142.60 1329.49L2144.60 1329.81L2146.60 1330.14L2148.60 1330.47L2150.60 1330.80L2152.60 1331.13L2154.60 1331.45L2156.60 1331.77L2158.60 1332.09L2160.60 1332.39L2162.60 1332.70L2164.60 1333.01L2166.60 1333.31L2168.60 1333.62L2170.60 1333.92L2172.60 1334.23L2174.60 1334.53L2176.60 1334.84L2178.60 1335.14L2180.60 1335.45L2182.60 1335.75L2184.60 1336.05L2186.60 1336.36L2188.60 1336.66L2190.60 1336.96L2192.60 1337.26L2194.60 1337.57L2196.60 1337.87L2198.60 1338.17L2200.60 1338.47L2202.60 1338.77L2204.60 1339.07L2206.60 1339.37L2208.60 1339.67L2210.60 1339.97L2212.60 1340.27L2214.60 1340.57L2216.60 1340.87L2218.60 1341.17L2220.60 1341.47L2222.60 1341.76L2224.60 1342.06L2226.00 1342.27" fill="none" stroke="#008000" stroke-width="10" stroke-linejoin="round" stroke-dasharray="9.4 7.04" stroke-dashoffset="1.86"/>
<path d="M213.00 1323.20L214.00 900.00L214.30 845.00L216.30 829.00L216.61 829.95L216.92 830.91L217.23 831.86L217.53 832.82L217.82 833.78L218.11 834.74" fill="none" stroke="#d9b3ff" stroke-width="10" stroke-linejoin="round" stroke-dasharray="9.2 7.2" stroke-dashoffset="0.00"/>
<path d="M216.30 829.00L216.61 829.95L216.92 830.91L217.23 831.86L217.53 832.82L217.82 833.78L218.11 834.74L218.39 835.70L218.66 836.66L218.92 837.62L219.18 838.59L219.42 839.56L219.66 840.53L219.89 841.50L220.10 842.47L220.31 843.45L220.51 844.42L220.71 845.40L220.89 846.38L221.08 847.37L221.25 848.35L221.43 849.34L221.60 850.32L221.76 851.31L221.93 852.30L222.09 853.29L222.25 854.27L222.42 855.26L222.58 856.25L222.75 857.24L222.92 858.22L223.09 859.21L223.26 860.19L223.43 861.18L223.60 862.16L223.77 863.15L223.94 864.14L224.11 865.12L224.28 866.11L224.45 867.09L224.62 868.08L224.79 869.06L224.95 870.05L225.12 871.03L225.29 872.02L225.46 873.01L225.62 873.99L225.79 874.98L225.96 875.96L226.12 876.95L226.29 877.94L226.45 878.92L226.62 879.91L226.78 880.90L226.95 881.88L227.11 882.87L227.28 883.85L227.44 884.84L227.61 885.83L227.77 886.81L227.93 887.80L228.10 888.79L228.26 889.77L228.42 890.76L228.59 891.75L228.75 892.73L228.91 893.72L229.08 894.71L229.24 895.69L229.40 896.68L229.56 897.67L229.73 898.65L229.89 899.64L230.05 900.63L230.21 901.61L230.37 902.60L230.54 903.59L230.70 904.57L230.86 905.56L231.02 906.55L231.18 907.53L231.35 908.52L231.51 909.51L231.67 910.50L231.83 911.48L231.99 912.47L232.15 913.46L232.32 914.44L232.48 915.43L232.64 916.42L232.80 917.40L232.96 918.39L233.12 919.38L233.29 920.36L233.45 921.35L233.61 922.34L233.77 923.32L233.94 924.31L234.10 925.30L234.26 926.28L234.42 927.27L234.59 928.26L234.75 929.24L234.91 930.23L235.07 931.22L235.24 932.20L235.40 933.19L235.56 934.18L235.73 935.16L235.89 936.15L236.06 937.14L236.22 938.12L236.38 939.11L236.55 940.10L236.71 941.08L236.87 942.07L237.04 943.06L237.20 944.04L237.36 945.03L237.52 946.02L237.68 947.00L237.84 947.99L238.00 948.98L238.17 949.97L238.33 950.95L238.49 951.94L238.65 952.93L238.81 953.91L238.97 954.90L239.13 955.89L239.29 956.88L239.44 957.86L239.60 958.85L239.76 959.84L239.92 960.83L240.08 961.81L240.24 962.80L240.40 963.79L240.56 964.78L240.72 965.76L240.88 966.75L241.04 967.74L241.20 968.73L241.36 969.71L241.52 970.70L241.68 971.69L241.84 972.67L242.00 973.66L242.16 974.65L242.32 975.64L242.48 976.62L242.64 977.61L242.80 978.60L242.96 979.59L243.12 980.57L243.28 981.56L243.44 982.55L243.60 983.53L243.77 984.52L243.93 985.51L244.09 986.49L244.26 987.48L244.42 988.47L244.58 989.45L244.75 990.44L244.91 991.43L245.08 992.41L245.24 993.40L245.41 994.38L245.57 995.37L245.74 996.36L245.91 997.34L246.08 998.33L246.24 999.31L246.41 1000.30L246.58 1001.28L246.75 1002.27L246.92 1003.26L247.09 1004.24L247.26 1005.23L247.44 1006.21L247.61 1007.19L247.78 1008.18L247.96 1009.16L248.13 1010.15L248.30 1011.13L248.48 1012.12L248.66 1013.10L248.83 1014.08L249.01 1015.07L249.19 1016.05L249.37 1017.03L249.55 1018.02L249.73 1019.00L249.92 1019.98L250.10 1020.97L250.29 1021.95L250.47 1022.93L250.66 1023.91L250.85 1024.89L251.04 1025.88L251.23 1026.86L251.42 1027.84L251.61 1028.82L251.80 1029.80L252.00 1030.78L252.19 1031.76L252.39 1032.74L252.58 1033.73L252.78 1034.71L252.97 1035.69L253.17 1036.67L253.37 1037.65L253.57 1038.63L253.77 1039.61L253.97 1040.59L254.17 1041.57L254.37 1042.55L254.57 1043.53L254.77 1044.51L254.97 1045.49L255.17 1046.47L255.37 1047.45L255.57 1048.42L255.78 1049.40L255.98 1050.38L256.18 1051.36L256.38 1052.34L256.58 1053.32L256.79 1054.30L256.99 1055.28L257.19 1056.26L257.39 1057.24L257.60 1058.22L257.80 1059.20L258.00 1060.18L258.20 1061.16L258.40 1062.14L258.60 1063.12L258.80 1064.10L259.00 1065.08L259.20 1066.06L259.40 1067.04L259.60 1068.02L259.80 1069.00L259.99 1069.98L260.19 1070.96L260.39 1071.94L260.58 1072.92L260.78 1073.90L260.97 1074.88L261.17 1075.86L261.36 1076.85L261.55 1077.83L261.74 1078.81L261.93 1079.79L262.12 1080.77L262.31 1081.75L262.50 1082.74L262.69 1083.72L262.87 1084.70L263.06 1085.68L263.24 1086.67L263.43 1087.65L263.61 1088.63L263.80 1089.62L263.98 1090.60L264.16 1091.58L264.34 1092.56L264.52 1093.55L264.71 1094.53L264.89 1095.52L265.07 1096.50L265.25 1097.48L265.43 1098.47L265.60 1099.45L265.78 1100.43L265.96 1101.42L266.14 1102.40L266.32 1103.39L266.49 1104.37L266.67 1105.36L266.85 1106.34L267.03 1107.32L267.20 1108.31L267.38 1109.29L267.55 1110.28L267.73 1111.26L267.91 1112.25L268.08 1113.23L268.26 1114.22L268.43 1115.20L268.61 1116.18L268.78 1117.17L268.96 1118.15L269.13 1119.14L269.31 1120.12L269.48 1121.11L269.66 1122.09L269.83 1123.08L270.01 1124.06L270.18 1125.05L270.36 1126.03L270.53 1127.02L270.71 1128.00L270.88 1128.99L271.06 1129.97L271.23 1130.96L271.41 1131.94L271.59 1132.92L271.76 1133.91L271.94 1134.89L272.11 1135.88L272.29 1136.86L272.47 1137.85L272.65 1138.83L272.82 1139.81L273.00 1140.80L273.18 1141.78L273.36 1142.77L273.54 1143.75L273.72 1144.73L273.90 1145.72L274.08 1146.70L274.26 1147.68L274.44 1148.67L274.62 1149.65L274.80 1150.63L274.99 1151.62L275.17 1152.60L275.35 1153.58L275.54 1154.57L275.72 1155.55L275.91 1156.53L276.09 1157.51L276.28 1158.50L276.47 1159.48L276.65 1160.46L276.84 1161.44L277.03 1162.42L277.22 1163.41L277.41 1164.39L277.60 1165.37L277.80 1166.35L277.99 1167.33L278.18 1168.31L278.38 1169.29L278.57 1170.27L278.76 1171.25L278.96 1172.23L279.15 1173.22L279.35 1174.20L279.55 1175.18L279.74 1176.16L279.94 1177.14L280.14 1178.12L280.34 1179.10L280.53 1180.08L280.73 1181.06L280.93 1182.04L281.13 1183.02L281.33 1184.00L281.53 1184.98L281.74 1185.96L281.94 1186.94L282.14 1187.92L282.34 1188.90L282.55 1189.88L282.75 1190.86L282.95 1191.83L283.16 1192.81L283.37 1193.79L283.57 1194.77L283.78 1195.75L283.99 1196.73L284.19 1197.71L284.40 1198.68L284.61 1199.66L284.82 1200.64L285.03 1201.62L285.24 1202.60L285.46 1203.57L285.67 1204.55L285.88 1205.53L286.09 1206.50L286.31 1207.48L286.52 1208.46L286.74 1209.43L286.96 1210.41L287.17 1211.39L287.39 1212.36L287.61 1213.34L287.83 1214.31L288.05 1215.29L288.27 1216.26L288.49 1217.24L288.72 1218.21L288.94 1219.19L289.16 1220.16L289.38 1221.14L289.60 1222.11L289.83 1223.09L290.05 1224.06L290.27 1225.04L290.49 1226.02L290.71 1226.99L290.93 1227.97L291.16 1228.95L291.38 1229.92L291.60 1230.90L291.83 1231.88L292.05 1232.85L292.27 1233.83L292.50 1234.81L292.73 1235.78L292.95 1236.76L293.18 1237.74L293.41 1238.71L293.64 1239.69L293.87 1240.66L294.10 1241.64L294.33 1242.61L294.57 1243.59L294.80 1244.56L295.04 1245.53L295.27 1246.51L295.51 1247.48L295.75 1248.45L295.99 1249.42L296.24 1250.39L296.48 1251.36L296.73 1252.33L296.98 1253.30L297.23 1254.27L297.48 1255.24L297.74 1256.20L297.99 1257.17L298.25 1258.14L298.51 1259.10L298.77 1260.06L299.04 1261.03L299.30 1261.99L299.57 1262.95L299.85 1263.91L300.12 1264.87L300.40 1265.82L300.68 1266.78L300.96 1267.74L301.24 1268.69L301.53 1269.64L301.82 1270.60L302.11 1271.55L302.41 1272.50L302.70 1273.46L303.00 1274.42L303.30 1275.38L303.60 1276.34L303.91 1277.30L304.21 1278.26L304.52 1279.22L304.84 1280.18L305.15 1281.14L305.48 1282.10L305.80 1283.06L306.13 1284.02L306.46 1284.97L306.80 1285.92L307.14 1286.87L307.49 1287.82L307.84 1288.77L308.20 1289.71L308.56 1290.64L308.93 1291.58L309.30 1292.51L309.68 1293.43L310.07 1294.35L310.46 1295.27L310.86 1296.18L311.26 1297.08L311.68 1297.98L312.10 1298.87L312.52 1299.76L312.96 1300.63L313.40 1301.51L313.85 1302.38L314.32 1303.27L314.80 1304.17L315.30 1305.07L315.81 1305.98L316.33 1306.89L316.88 1307.78L317.44 1308.67L318.01 1309.53L318.60 1310.38L319.21 1311.19L319.84 1311.97L320.49 1312.72L321.15 1313.42L321.83 1314.07L322.54 1314.67L323.27 1315.22L324.05 1315.75L324.88 1316.26L325.75 1316.73L326.66 1317.19L327.60 1317.61L328.57 1318.00L329.55 1318.36L330.56 1318.69L330.60 1318.70" fill="none" stroke="#d9b3ff" stroke-width="10" stroke-linejoin="round" stroke-dasharray="9.4 7.04" stroke-dashoffset="7.14"/>
<path d="M330.60 1318.70L332.60 1318.55L334.60 1318.41L336.60 1318.26L338.60 1318.11L340.60 1317.95L342.60 1317.80L344.60 1317.64L346.60 1317.49L348.60 1317.33L350.60 1317.17L352.60 1317.00L354.60 1316.84L356.60 1316.67L358.60 1316.50L360.60 1316.32L362.60 1316.15L364.60 1315.97L366.60 1315.79L368.60 1315.60L370.60 1315.42L372.60 1315.23L374.60 1315.04L376.60 1314.85L378.60 1314.66L380.60 1314.46L382.60 1314.27L384.60 1314.07L386.60 1313.88L388.60 1313.68L390.60 1313.48L392.60 1313.29L394.60 1313.09L396.60 1312.89L398.60 1312.70L400.60 1312.50L402.60 1312.31L404.60 1312.12L406.60 1311.92L408.60 1311.73L410.60 1311.54L412.60 1311.35L414.60 1311.15L416.60 1310.94L418.60 1310.73L420.60 1310.52L422.60 1310.30L424.60 1310.09L426.60 1309.87L428.60 1309.65L430.60 1309.43L432.60 1309.21L434.60 1309.00L436.60 1308.79L438.60 1308.58L440.60 1308.38L442.60 1308.18L444.60 1307.99L446.60 1307.80L448.60 1307.63L450.60 1307.46L452.60 1307.30L454.60 1307.15L456.60 1307.02L458.60 1306.89L460.60 1306.78L462.60 1306.69L464.60 1306.59L466.60 1306.50L468.60 1306.41L470.60 1306.32L472.60 1306.23L474.60 1306.15L476.60 1306.06L478.60 1305.98L480.60 1305.90L482.60 1305.82L484.60 1305.74L486.60 1305.67L488.60 1305.60L490.60 1305.53L492.60 1305.47L494.60 1305.41L496.60 1305.35L498.60 1305.30L500.60 1305.26L502.60 1305.22L504.60 1305.18L506.60 1305.16L508.60 1305.13L510.60 1305.11L512.60 1305.10L514.60 1305.10L516.60 1305.10L518.60 1305.11L520.60 1305.13L522.60 1305.15L524.60 1305.17L526.60 1305.20L528.60 1305.24L530.60 1305.28L532.60 1305.33L534.60 1305.38L536.60 1305.43L538.60 1305.49L540.60 1305.55L542.60 1305.61L544.60 1305.68L546.60 1305.75L548.60 1305.83L550.60 1305.90L552.60 1305.98L554.60 1306.06L556.60 1306.14L558.60 1306.23L560.60 1306.31L562.60 1306.40L564.60 1306.48L566.60 1306.57L568.60 1306.66L570.60 1306.76L572.60 1306.88L574.60 1307.01L576.60 1307.15L578.60 1307.30L580.60 1307.46L582.60 1307.62L584.60 1307.80L586.60 1307.99L588.60 1308.18L590.60 1308.37L592.60 1308.58L594.60 1308.78L596.60 1308.99L598.60 1309.20L600.60 1309.42L602.60 1309.63L604.60 1309.85L606.60 1310.06L608.60 1310.27L610.60 1310.48L612.60 1310.69L614.60 1310.89L616.60 1311.09L618.60 1311.29L620.60 1311.47L622.60 1311.66L624.60 1311.85L626.60 1312.03L628.60 1312.21L630.60 1312.40L632.60 1312.58L634.60 1312.77L636.60 1312.95L638.60 1313.13L640.60 1313.32L642.60 1313.50L644.60 1313.69L646.60 1313.88L648.60 1314.06L650.60 1314.25L652.60 1314.44L654.60 1314.63L656.60 1314.83L658.60 1315.02L660.60 1315.22L662.60 1315.42L664.60 1315.62L666.60 1315.82L668.60 1316.02L670.60 1316.23L672.60 1316.44L674.60 1316.66L676.60 1316.88L678.60 1317.11L680.60 1317.34L682.60 1317.58L684.60 1317.82L686.60 1318.07L688.60 1318.32L690.60 1318.57L692.60 1318.82L694.60 1319.08L696.60 1319.33L698.60 1319.58L700.60 1319.84L702.60 1320.09L704.60 1320.34L706.60 1320.59L708.60 1320.83L710.60 1321.07L712.60 1321.31L714.60 1321.54L716.60 1321.76L718.60 1321.98L720.60 1322.19L722.60 1322.39L724.60 1322.59L726.60 1322.79L728.60 1322.99L730.60 1323.20L732.60 1323.42L734.60 1323.64L736.60 1323.86L738.60 1324.07L740.60 1324.29L742.60 1324.49L744.60 1324.69L746.60 1324.88L748.60 1325.06L750.60 1325.23L752.60 1325.37L754.60 1325.50L756.60 1325.61L758.60 1325.70L760.60 1325.76L762.60 1325.79L764.60 1325.80L766.60 1325.76L768.60 1325.69L770.60 1325.60L772.60 1325.47L774.60 1325.34L776.60 1325.19L778.60 1325.04L780.60 1324.90L782.60 1324.77L784.60 1324.66L786.60 1324.57L788.60 1324.52L790.60 1324.50L792.60 1324.57L794.60 1324.72L796.60 1324.93L798.60 1325.16L800.00 1325.33" fill="none" stroke="#d9b3ff" stroke-width="10" stroke-linejoin="round" stroke-dasharray="9.4 7.04" stroke-dashoffset="3.75"/>
<path d="M800.00 1325.33L800.60 1325.40L802.60 1325.62L804.60 1325.78L806.60 1325.88L808.60 1325.97L810.60 1326.05L812.60 1326.12L814.60 1326.18L816.60 1326.24L818.60 1326.30L820.60 1326.37L822.60 1326.45L824.60 1326.53L826.60 1326.63L828.60 1326.74L830.60 1326.87L832.60 1327.01L834.60 1327.15L836.60 1327.31L838.60 1327.48L840.60 1327.65L842.60 1327.84L844.60 1328.03L846.60 1328.23L848.60 1328.44L850.60 1328.65L852.60 1328.87L854.60 1329.10L856.60 1329.33L858.60 1329.57L860.60 1329.81L862.60 1330.06L864.60 1330.31L866.60 1330.56L868.60 1330.82L870.60 1331.07L872.60 1331.33L874.60 1331.60L876.60 1331.86L878.60 1332.12L880.60 1332.38L882.60 1332.64L884.60 1332.91L886.60 1333.16L888.60 1333.42L890.60 1333.68L892.60 1333.93L894.60 1334.18L896.60 1334.42L898.60 1334.66L900.60 1334.90L902.60 1335.13L904.60 1335.36L906.60 1335.58L908.60 1335.80L910.60 1336.02L912.60 1336.24L914.60 1336.46L916.60 1336.69L918.60 1336.91L920.60 1337.13L922.60 1337.36L924.60 1337.58L926.60 1337.80L928.60 1338.03L930.60 1338.25L932.60 1338.48L934.60 1338.70L936.60 1338.92L938.60 1339.15L940.60 1339.37L942.60 1339.59L944.60 1339.82L946.60 1340.04L948.60 1340.27L950.60 1340.49L952.60 1340.71L954.60 1340.93L956.60 1341.16L958.60 1341.38L960.60 1341.60L962.60 1341.82L964.60 1342.04L966.60 1342.26L968.60 1342.48L970.60 1342.70L972.60 1342.92L974.60 1343.14L976.60 1343.36L978.60 1343.58L980.60 1343.79L982.60 1344.01L984.60 1344.23L986.60 1344.44L988.60 1344.66L990.60 1344.87L992.60 1345.08L994.60 1345.30L996.60 1345.51L998.60 1345.72L1000.60 1345.93L1002.60 1346.14L1004.60 1346.34L1006.60 1346.55L1008.60 1346.76L1010.60 1346.96L1012.60 1347.17L1014.60 1347.37L1016.60 1347.58L1018.60 1347.79L1020.60 1348.00L1022.60 1348.21L1024.60 1348.42L1026.60 1348.62L1028.60 1348.83L1030.60 1349.04L1032.60 1349.24L1034.60 1349.45L1036.60 1349.65L1038.60 1349.85L1040.60 1350.05L1042.60 1350.25L1044.60 1350.44L1046.60 1350.63L1048.60 1350.82L1050.60 1351.00L1052.60 1351.18L1054.60 1351.36L1056.60 1351.53L1058.60 1351.70L1060.60 1351.86L1062.60 1352.02L1064.60 1352.17L1066.60 1352.33L1068.60 1352.49L1070.60 1352.65L1072.60 1352.81L1074.60 1352.97L1076.60 1353.12L1078.60 1353.28L1080.60 1353.43L1082.60 1353.59L1084.60 1353.74L1086.60 1353.88L1088.60 1354.03L1090.60 1354.17L1092.60 1354.30L1094.60 1354.43L1096.60 1354.56L1098.60 1354.68L1100.60 1354.79L1102.60 1354.90L1104.60 1355.00L1106.60 1355.10L1108.60 1355.18L1110.60 1355.26L1112.60 1355.33L1114.60 1355.39L1116.60 1355.45L1118.60 1355.51L1120.60 1355.56L1122.60 1355.61L1124.60 1355.66L1126.60 1355.71L1128.60 1355.76L1130.60 1355.80L1132.60 1355.83L1134.60 1355.86L1136.60 1355.88L1138.60 1355.89L1140.60 1355.90L1142.60 1355.90L1144.60 1355.89L1146.60 1355.87L1148.60 1355.84L1150.60 1355.81L1152.60 1355.77L1154.60 1355.73L1156.60 1355.69L1158.60 1355.64L1160.60 1355.59L1162.60 1355.53L1164.60 1355.48L1166.60 1355.42L1168.60 1355.36L1170.60 1355.29L1172.60 1355.22L1174.60 1355.13L1176.60 1355.04L1178.60 1354.94L1180.60 1354.83L1182.60 1354.72L1184.60 1354.60L1186.60 1354.47L1188.60 1354.33L1190.60 1354.19L1192.60 1354.05L1194.60 1353.90L1196.60 1353.74L1198.60 1353.58L1200.60 1353.42L1202.60 1353.25L1204.60 1353.08L1206.60 1352.90L1208.60 1352.73L1210.60 1352.55L1212.60 1352.37L1214.60 1352.18L1216.60 1352.00L1218.60 1351.81L1220.60 1351.62L1222.60 1351.43L1224.60 1351.22L1226.60 1351.01L1228.60 1350.78L1230.60 1350.55L1232.60 1350.31L1234.60 1350.06L1236.60 1349.80L1238.60 1349.54L1240.60 1349.27L1242.60 1348.99L1244.60 1348.71L1246.60 1348.43L1248.60 1348.14L1250.60 1347.84L1252.60 1347.54L1254.60 1347.24L1256.60 1346.93L1258.60 1346.62L1260.60 1346.31L1262.60 1346.00L1264.60 1345.69L1266.60 1345.38L1268.60 1345.06L1270.60 1344.75L1272.60 1344.44L1274.60 1344.12L1276.60 1343.79L1278.60 1343.46L1280.60 1343.12L1282.60 1342.77L1284.60 1342.42L1286.60 1342.06L1288.60 1341.70L1290.60 1341.33L1292.60 1340.97L1294.60 1340.59L1296.60 1340.22L1298.60 1339.84L1300.60 1339.46L1302.60 1339.08L1304.60 1338.70L1306.60 1338.32L1308.60 1337.95L1310.60 1337.57L1312.60 1337.20L1314.60 1336.82L1316.60 1336.45L1318.60 1336.09L1320.60 1335.73L1322.60 1335.37L1324.60 1335.02L1326.60 1334.67L1328.60 1334.33L1330.60 1334.00L1332.60 1333.68L1334.60 1333.36L1336.60 1333.04L1338.60 1332.73L1340.60 1332.42L1342.60 1332.11L1344.60 1331.81L1346.60 1331.50L1348.60 1331.20L1350.60 1330.90L1352.60 1330.60L1354.60 1330.29L1356.60 1329.99L1358.60 1329.68L1360.60 1329.37L1362.60 1329.06L1364.60 1328.74L1366.60 1328.41L1368.60 1328.09L1370.60 1327.75L1372.60 1327.41L1374.60 1327.06L1376.60 1326.70L1378.60 1326.34L1380.60 1325.97L1382.60 1325.58L1384.60 1325.19L1386.60 1324.78L1388.60 1324.36L1390.60 1323.93L1392.60 1323.43L1394.60 1322.85L1396.60 1322.23L1398.60 1321.60L1400.60 1321.01L1402.60 1320.50L1404.60 1320.09L1406.60 1319.80L1408.60 1319.51L1410.60 1319.24L1412.60 1318.97L1414.60 1318.71L1416.60 1318.46L1418.60 1318.23L1420.60 1318.01L1422.60 1317.80L1424.60 1317.61L1426.60 1317.44L1428.60 1317.29L1430.60 1317.17L1432.60 1317.06L1434.60 1316.98L1436.60 1316.93L1438.60 1316.90L1440.00 1316.92" fill="none" stroke="#d9b3ff" stroke-width="10" stroke-linejoin="round" stroke-dasharray="9.4 7.04" stroke-dashoffset="15.70"/>
<path d="M1440.00 1316.92L1440.60 1316.92L1442.60 1317.04L1444.60 1317.24L1446.60 1317.48L1448.60 1317.72L1450.60 1317.95L1452.60 1318.12L1454.60 1318.20L1456.60 1318.19L1458.60 1318.17L1460.60 1318.14L1462.60 1318.08L1464.60 1318.02L1466.60 1317.94L1468.60 1317.84L1470.60 1317.74L1472.60 1317.63L1474.60 1317.50L1476.60 1317.37L1478.60 1317.23L1480.60 1317.08L1482.60 1316.92L1484.60 1316.76L1486.60 1316.60L1488.60 1316.43L1490.60 1316.26L1492.60 1316.08L1494.60 1315.90L1496.60 1315.73L1498.60 1315.55L1500.60 1315.38L1502.60 1315.20L1504.60 1315.03L1506.60 1314.86L1508.60 1314.68L1510.60 1314.49L1512.60 1314.28L1514.60 1314.07L1516.60 1313.85L1518.60 1313.62L1520.60 1313.39L1522.60 1313.15L1524.60 1312.90L1526.60 1312.65L1528.60 1312.39L1530.60 1312.13L1532.60 1311.86L1534.60 1311.60L1536.60 1311.33L1538.60 1311.06L1540.60 1310.79L1542.60 1310.52L1544.60 1310.25L1546.60 1309.99L1548.60 1309.72L1550.60 1309.46L1552.60 1309.20L1554.60 1308.95L1556.60 1308.70L1558.60 1308.45L1560.60 1308.21L1562.60 1307.97L1564.60 1307.72L1566.60 1307.48L1568.60 1307.24L1570.60 1307.00L1572.60 1306.75L1574.60 1306.51L1576.60 1306.27L1578.60 1306.02L1580.60 1305.78L1582.60 1305.54L1584.60 1305.30L1586.60 1305.05L1588.60 1304.81L1590.60 1304.57L1592.60 1304.33L1594.60 1304.08L1596.60 1303.84L1598.60 1303.59L1600.60 1303.35L1602.60 1303.11L1604.60 1302.86L1606.60 1302.62L1608.60 1302.37L1610.60 1302.13L1612.60 1301.88L1614.60 1301.63L1616.60 1301.38L1618.60 1301.13L1620.60 1300.87L1622.60 1300.62L1624.60 1300.36L1626.60 1300.10L1628.60 1299.85L1630.60 1299.59L1632.60 1299.34L1634.60 1299.08L1636.60 1298.82L1638.60 1298.57L1640.60 1298.32L1642.60 1298.07L1644.60 1297.81L1646.60 1297.57L1648.60 1297.32L1650.60 1297.08L1652.60 1296.84L1654.60 1296.60L1656.60 1296.36L1658.60 1296.13L1660.60 1295.90L1662.60 1295.68L1664.60 1295.45L1666.60 1295.23L1668.60 1295.01L1670.60 1294.78L1672.60 1294.56L1674.60 1294.33L1676.60 1294.11L1678.60 1293.89L1680.60 1293.67L1682.60 1293.45L1684.60 1293.23L1686.60 1293.02L1688.60 1292.81L1690.60 1292.60L1692.60 1292.39L1694.60 1292.19L1696.60 1291.99L1698.60 1291.80L1700.60 1291.61L1702.60 1291.42L1704.60 1291.24L1706.60 1291.06L1708.60 1290.89L1710.60 1290.73L1712.60 1290.57L1714.60 1290.41L1716.60 1290.27L1718.60 1290.11L1720.60 1289.96L1722.60 1289.81L1724.60 1289.66L1726.60 1289.51L1728.60 1289.36L1730.60 1289.21L1732.60 1289.06L1734.60 1288.92L1736.60 1288.78L1738.60 1288.64L1740.60 1288.51L1742.60 1288.38L1744.60 1288.25L1746.60 1288.13L1748.60 1288.02L1750.60 1287.91L1752.60 1287.81L1754.60 1287.71L1756.60 1287.63L1758.60 1287.55L1760.60 1287.47L1762.60 1287.41L1764.60 1287.36L1766.60 1287.31L1768.60 1287.28L1770.60 1287.24L1772.60 1287.21L1774.60 1287.18L1776.60 1287.14L1778.60 1287.12L1780.60 1287.09L1782.60 1287.07L1784.60 1287.04L1786.60 1287.03L1788.60 1287.01L1790.60 1287.01L1792.60 1287.00L1794.60 1287.00L1796.60 1287.02L1798.60 1287.04L1800.60 1287.08L1802.60 1287.13L1804.60 1287.19L1806.60 1287.25L1808.60 1287.33L1810.60 1287.40L1812.60 1287.49L1814.60 1287.57L1816.60 1287.66L1818.60 1287.75L1820.60 1287.84L1822.60 1287.94L1824.60 1288.05L1826.60 1288.18L1828.60 1288.31L1830.60 1288.46L1832.60 1288.62L1834.60 1288.79L1836.60 1288.97L1838.60 1289.16L1840.60 1289.35L1842.60 1289.56L1844.60 1289.77L1846.60 1289.98L1848.60 1290.20L1850.60 1290.43L1852.60 1290.66L1854.60 1290.89L1856.60 1291.13L1858.60 1291.37L1860.60 1291.61L1862.60 1291.85L1864.60 1292.09L1866.60 1292.33L1868.60 1292.57L1870.60 1292.81L1872.60 1293.05L1874.60 1293.29L1876.60 1293.54L1878.60 1293.79L1880.60 1294.05L1882.60 1294.31L1884.60 1294.59L1886.60 1294.86L1888.60 1295.14L1890.60 1295.43L1892.60 1295.72L1894.60 1296.01L1896.60 1296.30L1898.60 1296.60L1900.60 1296.90L1902.60 1297.21L1904.60 1297.51L1906.60 1297.82L1908.60 1298.13L1910.60 1298.44L1912.60 1298.74L1914.60 1299.05L1916.60 1299.36L1918.60 1299.67L1920.60 1299.98L1922.60 1300.28L1924.60 1300.58L1926.60 1300.89L1928.60 1301.20L1930.60 1301.52L1932.60 1301.83L1934.60 1302.16L1936.60 1302.48L1938.60 1302.81L1940.60 1303.15L1942.60 1303.48L1944.60 1303.81L1946.60 1304.15L1948.60 1304.48L1950.60 1304.81L1952.60 1305.14L1954.60 1305.47L1956.60 1305.80L1958.60 1306.13L1960.60 1306.45L1962.60 1306.76L1964.60 1307.08L1966.60 1307.38L1968.60 1307.68L1970.60 1307.98L1972.60 1308.27L1974.60 1308.55L1976.60 1308.82L1978.60 1309.08L1980.60 1309.33L1982.60 1309.56L1984.60 1309.79L1986.60 1310.01L1988.60 1310.22L1990.60 1310.44L1992.60 1310.66L1994.60 1310.88L1996.60 1311.12L1998.60 1311.37L2000.60 1311.63L2002.60 1311.92L2004.60 1312.21L2006.60 1312.52L2008.60 1312.84L2010.60 1313.17L2012.60 1313.51L2014.60 1313.86L2016.60 1314.22L2018.60 1314.59L2020.60 1314.97L2022.60 1315.35L2024.60 1315.74L2026.60 1316.14L2028.60 1316.55L2030.60 1316.96L2032.60 1317.37L2034.60 1317.79L2036.60 1318.22L2038.60 1318.65L2040.60 1319.08L2042.60 1319.52L2044.60 1319.96L2046.60 1320.40L2048.60 1320.84L2050.60 1321.28L2052.60 1321.72L2054.60 1322.17L2056.60 1322.65L2058.60 1323.19L2060.60 1323.75L2062.60 1324.32L2064.60 1324.88L2066.60 1325.41L2068.60 1325.88L2070.60 1326.28L2072.60 1326.59L2074.60 1326.83L2076.60 1327.07L2078.60 1327.29L2080.60 1327.49L2082.60 1327.66L2084.60 1327.79L2086.60 1327.87L2088.60 1327.90L2090.60 1327.80L2092.60 1327.56L2094.60 1327.21L2096.60 1326.81L2098.60 1326.39L2100.60 1325.99L2102.60 1325.64L2104.60 1325.40L2106.60 1325.30L2108.60 1325.32L2110.60 1325.39L2112.60 1325.51L2114.60 1325.66L2116.60 1325.85L2118.60 1326.06L2120.60 1326.29L2122.60 1326.55L2124.60 1326.81L2126.60 1327.08L2128.60 1327.34L2130.60 1327.60L2132.60 1327.85L2134.60 1328.10L2136.60 1328.36L2138.60 1328.63L2140.60 1328.92L2142.60 1329.22L2144.60 1329.52L2146.60 1329.84L2148.60 1330.15L2150.60 1330.47L2152.60 1330.79L2154.60 1331.10L2156.60 1331.41L2158.60 1331.71L2160.60 1332.01L2162.60 1332.30L2164.60 1332.59L2166.60 1332.89L2168.60 1333.18L2170.60 1333.48L2172.60 1333.77L2174.60 1334.06L2176.60 1334.36L2178.60 1334.65L2180.60 1334.94L2182.60 1335.23L2184.60 1335.52L2186.60 1335.82L2188.60 1336.11L2190.60 1336.40L2192.60 1336.69L2194.60 1336.98L2196.60 1337.27L2198.60 1337.56L2200.60 1337.85L2202.60 1338.14L2204.60 1338.43L2206.60 1338.72L2208.60 1339.01L2210.60 1339.29L2212.60 1339.58L2214.60 1339.87L2216.60 1340.16L2218.60 1340.44L2220.60 1340.73L2222.60 1341.01L2224.60 1341.30L2226.00 1341.50" fill="none" stroke="#d9b3ff" stroke-width="10" stroke-linejoin="round" stroke-dasharray="9.4 7.04" stroke-dashoffset="5.20"/>
<text x="212.30" y="671.00" class="tk" text-anchor="middle">0</text>
<text x="413.60" y="671.00" class="tk" text-anchor="middle">10</text>
<text x="614.90" y="671.00" class="tk" text-anchor="middle">20</text>
<text x="816.20" y="671.00" class="tk" text-anchor="middle">30</text>
<text x="1017.50" y="671.00" class="tk" text-anchor="middle">40</text>
<text x="1218.80" y="671.00" class="tk" text-anchor="middle">50</text>
<text x="1420.10" y="671.00" class="tk" text-anchor="middle">60</text>
<text x="1621.40" y="671.00" class="tk" text-anchor="middle">70</text>
<text x="1822.70" y="671.00" class="tk" text-anchor="middle">80</text>
<text x="2024.00" y="671.00" class="tk" text-anchor="middle">90</text>
<text x="2225.30" y="671.00" class="tk" text-anchor="middle">100</text>
<text x="189.60" y="536.40" class="tk" text-anchor="end">0</text>
<text x="189.60" y="423.40" class="tk" text-anchor="end">0.5</text>
<text x="189.60" y="309.40" class="tk" text-anchor="end">1</text>
<text x="189.60" y="196.40" class="tk" text-anchor="end">1.5</text>
<text x="189.60" y="82.40" class="tk" text-anchor="end">2</text>
<text class="lb"><tspan x="1176.11" y="743.81" font-size="70.54" textLength="22.46" lengthAdjust="spacingAndGlyphs">t</tspan><tspan x="1204.67" y="748.92" font-size="76.12" textLength="14.96" lengthAdjust="spacingAndGlyphs">[</tspan><tspan x="1217.99" y="743.90" font-size="61.75" textLength="26.69" lengthAdjust="spacingAndGlyphs">s</tspan><tspan x="1243.36" y="748.92" font-size="76.12" textLength="15.11" lengthAdjust="spacingAndGlyphs">]</tspan></text>
<text class="lb" transform="rotate(-90)"><tspan x="-350.67" y="78.50" font-size="76.97" textLength="12.86" lengthAdjust="spacingAndGlyphs">[</tspan><tspan x="-337.41" y="73.00" font-size="61.55" textLength="52.26" lengthAdjust="spacingAndGlyphs">m</tspan><tspan x="-284.23" y="78.50" font-size="76.97" textLength="13.16" lengthAdjust="spacingAndGlyphs">]</tspan></text>
<text x="212.30" y="1445.00" class="tk" text-anchor="middle">0</text>
<text x="413.60" y="1445.00" class="tk" text-anchor="middle">10</text>
<text x="614.90" y="1445.00" class="tk" text-anchor="middle">20</text>
<text x="816.20" y="1445.00" class="tk" text-anchor="middle">30</text>
<text x="1017.50" y="1445.00" class="tk" text-anchor="middle">40</text>
<text x="1218.80" y="1445.00" class="tk" text-anchor="middle">50</text>
<text x="1420.10" y="1445.00" class="tk" text-anchor="middle">60</text>
<text x="1621.40" y="1445.00" class="tk" text-anchor="middle">70</text>
<text x="1822.70" y="1445.00" class="tk" text-anchor="middle">80</text>
<text x="2024.00" y="1445.00" class="tk" text-anchor="middle">90</text>
<text x="2225.30" y="1445.00" class="tk" text-anchor="middle">100</text>
<text x="189.60" y="1344.40" class="tk" text-anchor="end">0</text>
<text x="189.60" y="1227.40" class="tk" text-anchor="end">0.5</text>
<text x="189.60" y="1110.40" class="tk" text-anchor="end">1</text>
<text x="189.60" y="992.40" class="tk" text-anchor="end">1.5</text>
<text x="189.60" y="875.40" class="tk" text-anchor="end">2</text>
<text class="lb"><tspan x="1176.11" y="1516.81" font-size="70.54" textLength="22.46" lengthAdjust="spacingAndGlyphs">t</tspan><tspan x="1204.67" y="1521.92" font-size="76.12" textLength="14.96" lengthAdjust="spacingAndGlyphs">[</tspan><tspan x="1217.99" y="1516.90" font-size="61.75" textLength="26.69" lengthAdjust="spacingAndGlyphs">s</tspan><tspan x="1243.36" y="1521.92" font-size="76.12" textLength="15.11" lengthAdjust="spacingAndGlyphs">]</tspan></text>
<text class="lb" transform="rotate(-90)"><tspan x="-1133.47" y="78.50" font-size="76.97" textLength="12.86" lengthAdjust="spacingAndGlyphs">[</tspan><tspan x="-1120.21" y="73.00" font-size="61.55" textLength="52.26" lengthAdjust="spacingAndGlyphs">m</tspan><tspan x="-1067.03" y="78.50" font-size="76.97" textLength="13.16" lengthAdjust="spacingAndGlyphs">]</tspan></text>
<rect x="1226" y="46" width="962" height="415" fill="#fff" stroke="#262626" stroke-width="9.6"/>
<path d="M1285 85.0H1422" stroke="#0000ff" stroke-width="10" fill="none"/>
<text class="lg"><tspan x="1434.09" y="99.45" font-size="54.69" font-style="italic" textLength="27.00" lengthAdjust="spacingAndGlyphs" stroke-width="0.9">x</tspan><tspan x="1463.15" y="107.01" font-size="35.14" font-style="italic" textLength="17.27" lengthAdjust="spacingAndGlyphs" stroke-width="0.9">e</tspan></text>
<path d="M1285 153.0H1422" stroke="#ff0000" stroke-width="10" fill="none" stroke-dasharray="9.4 7.04"/>
<text class="lg"><tspan x="1434.09" y="166.45" font-size="54.69" font-style="italic" textLength="27.00" lengthAdjust="spacingAndGlyphs" stroke-width="0.9">x</tspan><tspan x="1449.82" y="170.29" font-size="61.57" textLength="16.21" lengthAdjust="spacingAndGlyphs" stroke-width="0.9">ˆ</tspan><tspan x="1463.15" y="174.01" font-size="35.14" font-style="italic" textLength="17.27" lengthAdjust="spacingAndGlyphs" stroke-width="0.9">e</tspan><tspan x="1486.55" y="179.34" font-size="45.67" textLength="8.52" lengthAdjust="spacingAndGlyphs" stroke-width="0.9">[</tspan><tspan x="1495.59" y="176.00" font-size="41.00" font-style="italic" textLength="112.76" lengthAdjust="spacingAndGlyphs" letter-spacing="1.856" stroke-width="0.9">PLOS</tspan><tspan x="1606.25" y="181.73" font-size="47.99" textLength="30.04" lengthAdjust="spacingAndGlyphs" stroke-width="0.01">−</tspan><tspan x="1637.79" y="176.00" font-size="41.00" font-style="italic" textLength="145.19" lengthAdjust="spacingAndGlyphs" letter-spacing="2.538" stroke-width="0.9">FTADS</tspan><tspan x="1780.15" y="181.73" font-size="47.99" textLength="30.04" lengthAdjust="spacingAndGlyphs" stroke-width="0.01">−</tspan><tspan x="1811.94" y="176.00" font-size="41.00" font-style="italic" textLength="81.89" lengthAdjust="spacingAndGlyphs" letter-spacing="3.496" stroke-width="0.9">SSF</tspan><tspan x="1891.33" y="179.34" font-size="45.67" textLength="8.52" lengthAdjust="spacingAndGlyphs" stroke-width="0.9">]</tspan><tspan x="1903.42" y="182.30" font-size="31.00" font-style="italic" textLength="102.82" lengthAdjust="spacingAndGlyphs" letter-spacing="0.336" stroke-width="0.7">ROESO</tspan></text>
<path d="M1285 220.1H1422" stroke="#00ff00" stroke-width="10" fill="none" stroke-dasharray="9.4 7.04"/>
<text class="lg"><tspan x="1434.09" y="233.55" font-size="54.69" font-style="italic" textLength="27.00" lengthAdjust="spacingAndGlyphs" stroke-width="0.9">x</tspan><tspan x="1449.82" y="237.39" font-size="61.57" textLength="16.21" lengthAdjust="spacingAndGlyphs" stroke-width="0.9">ˆ</tspan><tspan x="1463.15" y="241.11" font-size="35.14" font-style="italic" textLength="17.27" lengthAdjust="spacingAndGlyphs" stroke-width="0.9">e</tspan><tspan x="1486.55" y="246.44" font-size="45.67" textLength="8.52" lengthAdjust="spacingAndGlyphs" stroke-width="0.9">[</tspan><tspan x="1495.59" y="243.10" font-size="41.00" font-style="italic" textLength="200.15" lengthAdjust="spacingAndGlyphs" letter-spacing="2.315" stroke-width="0.9">FFTPLOS</tspan><tspan x="1693.15" y="248.83" font-size="47.99" textLength="30.04" lengthAdjust="spacingAndGlyphs" stroke-width="0.01">−</tspan><tspan x="1723.20" y="243.10" font-size="41.00" font-style="italic" textLength="129.58" lengthAdjust="spacingAndGlyphs" letter-spacing="-0.274" stroke-width="0.9">without</tspan><tspan x="1854.55" y="248.83" font-size="47.99" textLength="30.04" lengthAdjust="spacingAndGlyphs" stroke-width="0.01">−</tspan><tspan x="1888.85" y="243.10" font-size="41.00" font-style="italic" textLength="82.20" lengthAdjust="spacingAndGlyphs" letter-spacing="0.558" stroke-width="0.9">ADS</tspan><tspan x="1971.72" y="246.44" font-size="45.67" textLength="8.52" lengthAdjust="spacingAndGlyphs" stroke-width="0.9">]</tspan><tspan x="1983.82" y="249.40" font-size="31.00" font-style="italic" textLength="102.82" lengthAdjust="spacingAndGlyphs" letter-spacing="0.336" stroke-width="0.7">ROESO</tspan></text>
<path d="M1285 286.9H1422" stroke="#ffff00" stroke-width="10" fill="none" stroke-dasharray="9.4 7.04"/>
<text class="lg"><tspan x="1434.09" y="300.35" font-size="54.69" font-style="italic" textLength="27.00" lengthAdjust="spacingAndGlyphs" stroke-width="0.9">x</tspan><tspan x="1449.82" y="304.19" font-size="61.57" textLength="16.21" lengthAdjust="spacingAndGlyphs" stroke-width="0.9">ˆ</tspan><tspan x="1463.15" y="307.91" font-size="35.14" font-style="italic" textLength="17.27" lengthAdjust="spacingAndGlyphs" stroke-width="0.9">e</tspan><tspan x="1486.55" y="313.24" font-size="45.67" textLength="8.52" lengthAdjust="spacingAndGlyphs" stroke-width="0.9">[</tspan><tspan x="1495.59" y="309.90" font-size="41.00" font-style="italic" textLength="200.15" lengthAdjust="spacingAndGlyphs" letter-spacing="2.315" stroke-width="0.9">FFTPLOS</tspan><tspan x="1693.15" y="315.63" font-size="47.99" textLength="30.04" lengthAdjust="spacingAndGlyphs" stroke-width="0.01">−</tspan><tspan x="1724.69" y="309.90" font-size="41.00" font-style="italic" textLength="175.16" lengthAdjust="spacingAndGlyphs" letter-spacing="2.610" stroke-width="0.9">FFTADS</tspan><tspan x="1898.33" y="313.24" font-size="45.67" textLength="8.52" lengthAdjust="spacingAndGlyphs" stroke-width="0.9">]</tspan><tspan x="1910.42" y="316.20" font-size="31.00" font-style="italic" textLength="102.82" lengthAdjust="spacingAndGlyphs" letter-spacing="0.336" stroke-width="0.7">ROESO</tspan></text>
<path d="M1285 354.0H1422" stroke="#008000" stroke-width="10" fill="none" stroke-dasharray="9.4 7.04"/>
<text class="lg"><tspan x="1434.09" y="367.45" font-size="54.69" font-style="italic" textLength="27.00" lengthAdjust="spacingAndGlyphs" stroke-width="0.9">x</tspan><tspan x="1449.82" y="371.29" font-size="61.57" textLength="16.21" lengthAdjust="spacingAndGlyphs" stroke-width="0.9">ˆ</tspan><tspan x="1463.15" y="375.01" font-size="35.14" font-style="italic" textLength="17.27" lengthAdjust="spacingAndGlyphs" stroke-width="0.9">e</tspan><tspan x="1486.55" y="380.34" font-size="45.67" textLength="8.52" lengthAdjust="spacingAndGlyphs" stroke-width="0.9">[</tspan><tspan x="1495.59" y="377.00" font-size="41.00" font-style="italic" textLength="112.76" lengthAdjust="spacingAndGlyphs" letter-spacing="1.856" stroke-width="0.9">PLOS</tspan><tspan x="1606.25" y="382.73" font-size="47.99" textLength="30.04" lengthAdjust="spacingAndGlyphs" stroke-width="0.01">−</tspan><tspan x="1637.79" y="377.00" font-size="41.00" font-style="italic" textLength="175.16" lengthAdjust="spacingAndGlyphs" letter-spacing="2.610" stroke-width="0.9">FFTADS</tspan><tspan x="1810.05" y="382.73" font-size="47.99" textLength="30.04" lengthAdjust="spacingAndGlyphs" stroke-width="0.01">−</tspan><tspan x="1841.84" y="377.00" font-size="41.00" font-style="italic" textLength="81.89" lengthAdjust="spacingAndGlyphs" letter-spacing="3.496" stroke-width="0.9">SSF</tspan><tspan x="1921.23" y="380.34" font-size="45.67" textLength="8.52" lengthAdjust="spacingAndGlyphs" stroke-width="0.9">]</tspan><tspan x="1933.38" y="383.30" font-size="31.00" font-style="italic" textLength="68.91" lengthAdjust="spacingAndGlyphs" letter-spacing="0.485" stroke-width="0.7">NDO</tspan></text>
<path d="M1285 421.4H1422" stroke="#d9b3ff" stroke-width="10" fill="none" stroke-dasharray="9.4 7.04"/>
<text class="lg"><tspan x="1434.09" y="434.85" font-size="54.69" font-style="italic" textLength="27.00" lengthAdjust="spacingAndGlyphs" stroke-width="0.9">x</tspan><tspan x="1449.82" y="438.69" font-size="61.57" textLength="16.21" lengthAdjust="spacingAndGlyphs" stroke-width="0.9">ˆ</tspan><tspan x="1463.15" y="442.41" font-size="35.14" font-style="italic" textLength="17.27" lengthAdjust="spacingAndGlyphs" stroke-width="0.9">e</tspan><tspan x="1486.55" y="447.74" font-size="45.67" textLength="8.52" lengthAdjust="spacingAndGlyphs" stroke-width="0.9">[</tspan><tspan x="1495.59" y="444.40" font-size="41.00" font-style="italic" textLength="200.15" lengthAdjust="spacingAndGlyphs" letter-spacing="2.315" stroke-width="0.9">FFTPLOS</tspan><tspan x="1693.15" y="450.13" font-size="47.99" textLength="30.04" lengthAdjust="spacingAndGlyphs" stroke-width="0.01">−</tspan><tspan x="1724.69" y="444.40" font-size="41.00" font-style="italic" textLength="175.16" lengthAdjust="spacingAndGlyphs" letter-spacing="2.610" stroke-width="0.9">FFTADS</tspan><tspan x="1896.95" y="450.13" font-size="47.99" textLength="30.04" lengthAdjust="spacingAndGlyphs" stroke-width="0.01">−</tspan><tspan x="1928.74" y="444.40" font-size="41.00" font-style="italic" textLength="81.89" lengthAdjust="spacingAndGlyphs" letter-spacing="3.496" stroke-width="0.9">SSF</tspan><tspan x="2008.13" y="447.74" font-size="45.67" textLength="8.52" lengthAdjust="spacingAndGlyphs" stroke-width="0.9">]</tspan><tspan x="2020.22" y="450.70" font-size="31.00" font-style="italic" textLength="102.82" lengthAdjust="spacingAndGlyphs" letter-spacing="0.336" stroke-width="0.7">ROESO</tspan></text>
<rect x="1172" y="826.7" width="956" height="426.29999999999995" fill="#fff" stroke="#262626" stroke-width="9.6"/>
<path d="M1230 867.0H1367" stroke="#0000ff" stroke-width="10" fill="none"/>
<text class="lg"><tspan x="1382.20" y="879.39" font-size="52.16" font-style="italic" textLength="21.53" lengthAdjust="spacingAndGlyphs" stroke-width="0.9">y</tspan><tspan x="1404.15" y="888.40" font-size="36.18" font-style="italic" textLength="17.27" lengthAdjust="spacingAndGlyphs" stroke-width="0.9">e</tspan></text>
<path d="M1230 934.9H1367" stroke="#ff0000" stroke-width="10" fill="none" stroke-dasharray="9.4 7.04"/>
<text class="lg"><tspan x="1382.20" y="946.29" font-size="52.16" font-style="italic" textLength="21.53" lengthAdjust="spacingAndGlyphs" stroke-width="0.9">y</tspan><tspan x="1392.96" y="951.29" font-size="61.57" textLength="14.95" lengthAdjust="spacingAndGlyphs" stroke-width="0.9">ˆ</tspan><tspan x="1404.15" y="955.30" font-size="36.18" font-style="italic" textLength="17.27" lengthAdjust="spacingAndGlyphs" stroke-width="0.9">e</tspan><tspan x="1426.55" y="962.59" font-size="45.31" textLength="8.52" lengthAdjust="spacingAndGlyphs" stroke-width="0.9">[</tspan><tspan x="1435.59" y="959.90" font-size="41.00" font-style="italic" textLength="112.76" lengthAdjust="spacingAndGlyphs" letter-spacing="1.856" stroke-width="0.9">PLOS</tspan><tspan x="1546.25" y="965.63" font-size="47.99" textLength="30.04" lengthAdjust="spacingAndGlyphs" stroke-width="0.01">−</tspan><tspan x="1577.79" y="959.90" font-size="41.00" font-style="italic" textLength="175.16" lengthAdjust="spacingAndGlyphs" letter-spacing="2.610" stroke-width="0.9">FFTADS</tspan><tspan x="1750.05" y="965.63" font-size="47.99" textLength="30.04" lengthAdjust="spacingAndGlyphs" stroke-width="0.01">−</tspan><tspan x="1781.84" y="959.90" font-size="41.00" font-style="italic" textLength="81.89" lengthAdjust="spacingAndGlyphs" letter-spacing="3.496" stroke-width="0.9">SSF</tspan><tspan x="1861.23" y="962.59" font-size="45.31" textLength="8.52" lengthAdjust="spacingAndGlyphs" stroke-width="0.9">]</tspan><tspan x="1873.32" y="966.20" font-size="31.00" font-style="italic" textLength="102.82" lengthAdjust="spacingAndGlyphs" letter-spacing="0.336" stroke-width="0.7">ROESO</tspan></text>
<path d="M1230 1003.8H1367" stroke="#00ff00" stroke-width="10" fill="none" stroke-dasharray="9.4 7.04"/>
<text class="lg"><tspan x="1382.20" y="1015.19" font-size="52.16" font-style="italic" textLength="21.53" lengthAdjust="spacingAndGlyphs" stroke-width="0.9">y</tspan><tspan x="1392.96" y="1020.19" font-size="61.57" textLength="14.95" lengthAdjust="spacingAndGlyphs" stroke-width="0.9">ˆ</tspan><tspan x="1404.15" y="1024.20" font-size="36.18" font-style="italic" textLength="17.27" lengthAdjust="spacingAndGlyphs" stroke-width="0.9">e</tspan><tspan x="1426.55" y="1031.49" font-size="45.31" textLength="8.52" lengthAdjust="spacingAndGlyphs" stroke-width="0.9">[</tspan><tspan x="1435.59" y="1028.80" font-size="41.00" font-style="italic" textLength="200.15" lengthAdjust="spacingAndGlyphs" letter-spacing="2.315" stroke-width="0.9">FFTPLOS</tspan><tspan x="1633.15" y="1034.53" font-size="47.99" textLength="30.04" lengthAdjust="spacingAndGlyphs" stroke-width="0.01">−</tspan><tspan x="1663.20" y="1028.80" font-size="41.00" font-style="italic" textLength="129.58" lengthAdjust="spacingAndGlyphs" letter-spacing="-0.274" stroke-width="0.9">without</tspan><tspan x="1794.55" y="1034.53" font-size="47.99" textLength="30.04" lengthAdjust="spacingAndGlyphs" stroke-width="0.01">−</tspan><tspan x="1828.85" y="1028.80" font-size="41.00" font-style="italic" textLength="82.20" lengthAdjust="spacingAndGlyphs" letter-spacing="0.558" stroke-width="0.9">ADS</tspan><tspan x="1911.72" y="1031.49" font-size="45.31" textLength="8.52" lengthAdjust="spacingAndGlyphs" stroke-width="0.9">]</tspan><tspan x="1923.82" y="1035.10" font-size="31.00" font-style="italic" textLength="102.82" lengthAdjust="spacingAndGlyphs" letter-spacing="0.336" stroke-width="0.7">ROESO</tspan></text>
<path d="M1230 1074.2H1367" stroke="#ffff00" stroke-width="10" fill="none" stroke-dasharray="9.4 7.04"/>
<text class="lg"><tspan x="1382.20" y="1085.59" font-size="52.16" font-style="italic" textLength="21.53" lengthAdjust="spacingAndGlyphs" stroke-width="0.9">y</tspan><tspan x="1392.96" y="1090.59" font-size="61.57" textLength="14.95" lengthAdjust="spacingAndGlyphs" stroke-width="0.9">ˆ</tspan><tspan x="1404.15" y="1094.60" font-size="36.18" font-style="italic" textLength="17.27" lengthAdjust="spacingAndGlyphs" stroke-width="0.9">e</tspan><tspan x="1426.55" y="1101.89" font-size="45.31" textLength="8.52" lengthAdjust="spacingAndGlyphs" stroke-width="0.9">[</tspan><tspan x="1435.59" y="1099.20" font-size="41.00" font-style="italic" textLength="200.15" lengthAdjust="spacingAndGlyphs" letter-spacing="2.315" stroke-width="0.9">FFTPLOS</tspan><tspan x="1633.15" y="1104.93" font-size="47.99" textLength="30.04" lengthAdjust="spacingAndGlyphs" stroke-width="0.01">−</tspan><tspan x="1664.69" y="1099.20" font-size="41.00" font-style="italic" textLength="175.16" lengthAdjust="spacingAndGlyphs" letter-spacing="2.610" stroke-width="0.9">FFTADS</tspan><tspan x="1838.33" y="1101.89" font-size="45.31" textLength="8.52" lengthAdjust="spacingAndGlyphs" stroke-width="0.9">]</tspan><tspan x="1850.42" y="1105.50" font-size="31.00" font-style="italic" textLength="102.82" lengthAdjust="spacingAndGlyphs" letter-spacing="0.336" stroke-width="0.7">ROESO</tspan></text>
<path d="M1230 1143.2H1367" stroke="#008000" stroke-width="10" fill="none" stroke-dasharray="9.4 7.04"/>
<text class="lg"><tspan x="1382.20" y="1154.59" font-size="52.16" font-style="italic" textLength="21.53" lengthAdjust="spacingAndGlyphs" stroke-width="0.9">y</tspan><tspan x="1392.96" y="1159.59" font-size="61.57" textLength="14.95" lengthAdjust="spacingAndGlyphs" stroke-width="0.9">ˆ</tspan><tspan x="1404.15" y="1163.60" font-size="36.18" font-style="italic" textLength="17.27" lengthAdjust="spacingAndGlyphs" stroke-width="0.9">e</tspan><tspan x="1426.55" y="1170.89" font-size="45.31" textLength="8.52" lengthAdjust="spacingAndGlyphs" stroke-width="0.9">[</tspan><tspan x="1435.59" y="1168.20" font-size="41.00" font-style="italic" textLength="200.15" lengthAdjust="spacingAndGlyphs" letter-spacing="2.315" stroke-width="0.9">FFTPLOS</tspan><tspan x="1633.15" y="1173.93" font-size="47.99" textLength="30.04" lengthAdjust="spacingAndGlyphs" stroke-width="0.01">−</tspan><tspan x="1664.69" y="1168.20" font-size="41.00" font-style="italic" textLength="175.16" lengthAdjust="spacingAndGlyphs" letter-spacing="2.610" stroke-width="0.9">FFTADS</tspan><tspan x="1836.95" y="1173.93" font-size="47.99" textLength="30.04" lengthAdjust="spacingAndGlyphs" stroke-width="0.01">−</tspan><tspan x="1868.74" y="1168.20" font-size="41.00" font-style="italic" textLength="81.89" lengthAdjust="spacingAndGlyphs" letter-spacing="3.496" stroke-width="0.9">SSF</tspan><tspan x="1948.13" y="1170.89" font-size="45.31" textLength="8.52" lengthAdjust="spacingAndGlyphs" stroke-width="0.9">]</tspan><tspan x="1960.28" y="1174.50" font-size="31.00" font-style="italic" textLength="68.91" lengthAdjust="spacingAndGlyphs" letter-spacing="0.485" stroke-width="0.7">NDO</tspan></text>
<path d="M1230 1212.8H1367" stroke="#d9b3ff" stroke-width="10" fill="none" stroke-dasharray="9.4 7.04"/>
<text class="lg"><tspan x="1382.20" y="1224.19" font-size="52.16" font-style="italic" textLength="21.53" lengthAdjust="spacingAndGlyphs" stroke-width="0.9">y</tspan><tspan x="1392.96" y="1229.19" font-size="61.57" textLength="14.95" lengthAdjust="spacingAndGlyphs" stroke-width="0.9">ˆ</tspan><tspan x="1404.15" y="1233.20" font-size="36.18" font-style="italic" textLength="17.27" lengthAdjust="spacingAndGlyphs" stroke-width="0.9">e</tspan><tspan x="1426.55" y="1240.49" font-size="45.31" textLength="8.52" lengthAdjust="spacingAndGlyphs" stroke-width="0.9">[</tspan><tspan x="1435.59" y="1237.80" font-size="41.00" font-style="italic" textLength="200.15" lengthAdjust="spacingAndGlyphs" letter-spacing="2.315" stroke-width="0.9">FFTPLOS</tspan><tspan x="1633.15" y="1243.53" font-size="47.99" textLength="30.04" lengthAdjust="spacingAndGlyphs" stroke-width="0.01">−</tspan><tspan x="1664.69" y="1237.80" font-size="41.00" font-style="italic" textLength="175.16" lengthAdjust="spacingAndGlyphs" letter-spacing="2.610" stroke-width="0.9">FFTADS</tspan><tspan x="1836.95" y="1243.53" font-size="47.99" textLength="30.04" lengthAdjust="spacingAndGlyphs" stroke-width="0.01">−</tspan><tspan x="1868.74" y="1237.80" font-size="41.00" font-style="italic" textLength="81.89" lengthAdjust="spacingAndGlyphs" letter-spacing="3.496" stroke-width="0.9">SSF</tspan><tspan x="1948.13" y="1240.49" font-size="45.31" textLength="8.52" lengthAdjust="spacingAndGlyphs" stroke-width="0.9">]</tspan><tspan x="1960.22" y="1244.10" font-size="31.00" font-style="italic" textLength="102.82" lengthAdjust="spacingAndGlyphs" letter-spacing="0.336" stroke-width="0.7">ROESO</tspan></text>
</g>
</svg>
</body>
</html>
